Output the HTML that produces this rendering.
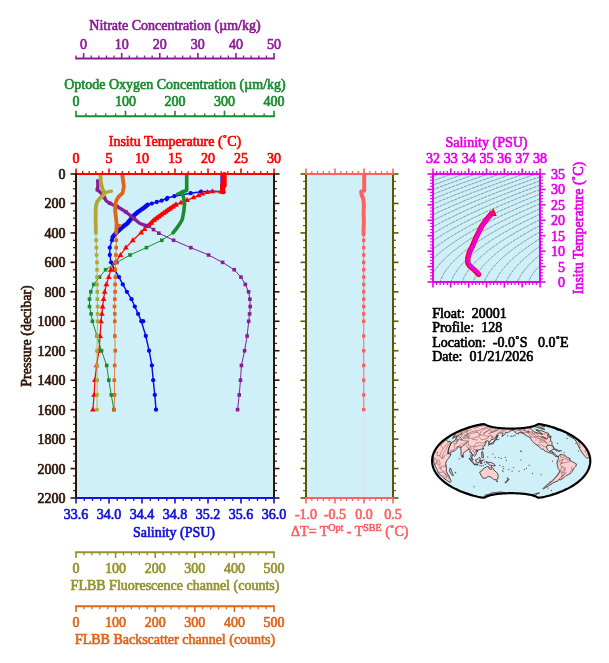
<!DOCTYPE html>
<html><head><meta charset="utf-8"><title>Float 20001 profile 128</title>
<style>
html,body{margin:0;padding:0;background:#ffffff;}
svg{display:block;}
text{font-family:"Liberation Serif", serif;stroke-width:0.65px;paint-order:stroke;}
</style></head>
<body>
<svg width="609" height="663" viewBox="0 0 609 663">
<rect width="609" height="663" fill="#ffffff"/>
<text x="175" y="29.7" fill="#8c1c96" stroke="#8c1c96" text-anchor="middle" font-size="14" >Nitrate Concentration (µm/kg)</text>
<line x1="75.2" y1="58.5" x2="274.8" y2="58.5" stroke="#8c1c96" stroke-width="2" />
<line x1="76" y1="58.5" x2="76" y2="55.5" stroke="#8c1c96" stroke-width="1.3" />
<line x1="83.62" y1="58.5" x2="83.62" y2="52.9" stroke="#8c1c96" stroke-width="1.6" />
<text x="83.62" y="48.7" fill="#8c1c96" stroke="#8c1c96" text-anchor="middle" font-size="14" >0</text>
<line x1="91.23" y1="58.5" x2="91.23" y2="55.5" stroke="#8c1c96" stroke-width="1.3" />
<line x1="98.85" y1="58.5" x2="98.85" y2="55.5" stroke="#8c1c96" stroke-width="1.3" />
<line x1="106.46" y1="58.5" x2="106.46" y2="55.5" stroke="#8c1c96" stroke-width="1.3" />
<line x1="114.08" y1="58.5" x2="114.08" y2="55.5" stroke="#8c1c96" stroke-width="1.3" />
<line x1="121.69" y1="58.5" x2="121.69" y2="52.9" stroke="#8c1c96" stroke-width="1.6" />
<text x="121.69" y="48.7" fill="#8c1c96" stroke="#8c1c96" text-anchor="middle" font-size="14" >10</text>
<line x1="129.31" y1="58.5" x2="129.31" y2="55.5" stroke="#8c1c96" stroke-width="1.3" />
<line x1="136.92" y1="58.5" x2="136.92" y2="55.5" stroke="#8c1c96" stroke-width="1.3" />
<line x1="144.54" y1="58.5" x2="144.54" y2="55.5" stroke="#8c1c96" stroke-width="1.3" />
<line x1="152.15" y1="58.5" x2="152.15" y2="55.5" stroke="#8c1c96" stroke-width="1.3" />
<line x1="159.77" y1="58.5" x2="159.77" y2="52.9" stroke="#8c1c96" stroke-width="1.6" />
<text x="159.77" y="48.7" fill="#8c1c96" stroke="#8c1c96" text-anchor="middle" font-size="14" >20</text>
<line x1="167.38" y1="58.5" x2="167.38" y2="55.5" stroke="#8c1c96" stroke-width="1.3" />
<line x1="175" y1="58.5" x2="175" y2="55.5" stroke="#8c1c96" stroke-width="1.3" />
<line x1="182.62" y1="58.5" x2="182.62" y2="55.5" stroke="#8c1c96" stroke-width="1.3" />
<line x1="190.23" y1="58.5" x2="190.23" y2="55.5" stroke="#8c1c96" stroke-width="1.3" />
<line x1="197.85" y1="58.5" x2="197.85" y2="52.9" stroke="#8c1c96" stroke-width="1.6" />
<text x="197.85" y="48.7" fill="#8c1c96" stroke="#8c1c96" text-anchor="middle" font-size="14" >30</text>
<line x1="205.46" y1="58.5" x2="205.46" y2="55.5" stroke="#8c1c96" stroke-width="1.3" />
<line x1="213.08" y1="58.5" x2="213.08" y2="55.5" stroke="#8c1c96" stroke-width="1.3" />
<line x1="220.69" y1="58.5" x2="220.69" y2="55.5" stroke="#8c1c96" stroke-width="1.3" />
<line x1="228.31" y1="58.5" x2="228.31" y2="55.5" stroke="#8c1c96" stroke-width="1.3" />
<line x1="235.92" y1="58.5" x2="235.92" y2="52.9" stroke="#8c1c96" stroke-width="1.6" />
<text x="235.92" y="48.7" fill="#8c1c96" stroke="#8c1c96" text-anchor="middle" font-size="14" >40</text>
<line x1="243.54" y1="58.5" x2="243.54" y2="55.5" stroke="#8c1c96" stroke-width="1.3" />
<line x1="251.15" y1="58.5" x2="251.15" y2="55.5" stroke="#8c1c96" stroke-width="1.3" />
<line x1="258.77" y1="58.5" x2="258.77" y2="55.5" stroke="#8c1c96" stroke-width="1.3" />
<line x1="266.38" y1="58.5" x2="266.38" y2="55.5" stroke="#8c1c96" stroke-width="1.3" />
<line x1="274" y1="58.5" x2="274" y2="52.9" stroke="#8c1c96" stroke-width="1.6" />
<text x="274" y="48.7" fill="#8c1c96" stroke="#8c1c96" text-anchor="middle" font-size="14" >50</text>
<text x="175" y="88.7" fill="#188c2e" stroke="#188c2e" text-anchor="middle" font-size="14" >Optode Oxygen Concentration (µm/kg)</text>
<line x1="75.2" y1="116.3" x2="274.8" y2="116.3" stroke="#188c2e" stroke-width="2" />
<line x1="76" y1="116.3" x2="76" y2="110.7" stroke="#188c2e" stroke-width="1.6" />
<text x="76" y="106.3" fill="#188c2e" stroke="#188c2e" text-anchor="middle" font-size="14" >0</text>
<line x1="85.9" y1="116.3" x2="85.9" y2="113.3" stroke="#188c2e" stroke-width="1.3" />
<line x1="95.8" y1="116.3" x2="95.8" y2="113.3" stroke="#188c2e" stroke-width="1.3" />
<line x1="105.7" y1="116.3" x2="105.7" y2="113.3" stroke="#188c2e" stroke-width="1.3" />
<line x1="115.6" y1="116.3" x2="115.6" y2="113.3" stroke="#188c2e" stroke-width="1.3" />
<line x1="125.5" y1="116.3" x2="125.5" y2="110.7" stroke="#188c2e" stroke-width="1.6" />
<text x="125.5" y="106.3" fill="#188c2e" stroke="#188c2e" text-anchor="middle" font-size="14" >100</text>
<line x1="135.4" y1="116.3" x2="135.4" y2="113.3" stroke="#188c2e" stroke-width="1.3" />
<line x1="145.3" y1="116.3" x2="145.3" y2="113.3" stroke="#188c2e" stroke-width="1.3" />
<line x1="155.2" y1="116.3" x2="155.2" y2="113.3" stroke="#188c2e" stroke-width="1.3" />
<line x1="165.1" y1="116.3" x2="165.1" y2="113.3" stroke="#188c2e" stroke-width="1.3" />
<line x1="175" y1="116.3" x2="175" y2="110.7" stroke="#188c2e" stroke-width="1.6" />
<text x="175" y="106.3" fill="#188c2e" stroke="#188c2e" text-anchor="middle" font-size="14" >200</text>
<line x1="184.9" y1="116.3" x2="184.9" y2="113.3" stroke="#188c2e" stroke-width="1.3" />
<line x1="194.8" y1="116.3" x2="194.8" y2="113.3" stroke="#188c2e" stroke-width="1.3" />
<line x1="204.7" y1="116.3" x2="204.7" y2="113.3" stroke="#188c2e" stroke-width="1.3" />
<line x1="214.6" y1="116.3" x2="214.6" y2="113.3" stroke="#188c2e" stroke-width="1.3" />
<line x1="224.5" y1="116.3" x2="224.5" y2="110.7" stroke="#188c2e" stroke-width="1.6" />
<text x="224.5" y="106.3" fill="#188c2e" stroke="#188c2e" text-anchor="middle" font-size="14" >300</text>
<line x1="234.4" y1="116.3" x2="234.4" y2="113.3" stroke="#188c2e" stroke-width="1.3" />
<line x1="244.3" y1="116.3" x2="244.3" y2="113.3" stroke="#188c2e" stroke-width="1.3" />
<line x1="254.2" y1="116.3" x2="254.2" y2="113.3" stroke="#188c2e" stroke-width="1.3" />
<line x1="264.1" y1="116.3" x2="264.1" y2="113.3" stroke="#188c2e" stroke-width="1.3" />
<line x1="274" y1="116.3" x2="274" y2="110.7" stroke="#188c2e" stroke-width="1.6" />
<text x="274" y="106.3" fill="#188c2e" stroke="#188c2e" text-anchor="middle" font-size="14" >400</text>
<text x="175" y="145.9" fill="#ff0000" stroke="#ff0000" text-anchor="middle" font-size="14" >Insitu Temperature (˚C)</text>
<rect x="76" y="174" width="198" height="324" fill="#cfeff9"/>
<polyline points="221.1,174.6 221.1,186 223.2,191.6 212.4,191.2 201,191.7 190.7,193.2 174.3,196.2 167.4,197.9 161.6,200.7 156.7,202 151.8,203.6 147.7,204.8" fill="none" stroke="#0808f0" stroke-width="1.4" stroke-linejoin="round" stroke-linecap="round" />
<polyline points="112.6,237.2 112,240.27 109.8,247.64 109.8,255 111,262.36 114.6,269.73 119,277.09 122.8,284.45 126.9,291.82 131.5,299.18 134.8,306.55 138.1,313.91 141.3,321.27 145.8,336 149.1,350.73 151.9,365.45 153.2,380.18 154.8,394.91 156,409.64" fill="none" stroke="#0808f0" stroke-width="1.4" stroke-linejoin="round" stroke-linecap="round" />
<polyline points="147.7,204.8 144,207.7 138.2,211.8 133.3,215.9 129.9,220.3 126.9,223.8 123.3,226.4 119.8,229.5 116.4,232.6 112.6,237.2" fill="none" stroke="#0808f0" stroke-width="4.4" stroke-linejoin="round" stroke-linecap="round" />
<circle cx="223.4" cy="192.2" r="2.15" fill="#0808f0"/><circle cx="201" cy="191.7" r="2.15" fill="#0808f0"/><circle cx="190.7" cy="193.2" r="2.15" fill="#0808f0"/><circle cx="174.3" cy="196.2" r="2.15" fill="#0808f0"/><circle cx="167.4" cy="197.9" r="2.15" fill="#0808f0"/><circle cx="166.5" cy="199.3" r="2.15" fill="#0808f0"/><circle cx="161.6" cy="200.7" r="2.15" fill="#0808f0"/><circle cx="156.7" cy="202" r="2.15" fill="#0808f0"/><circle cx="151.8" cy="203.6" r="2.15" fill="#0808f0"/><circle cx="147.7" cy="204.8" r="2.15" fill="#0808f0"/><circle cx="112" cy="240.27" r="2.15" fill="#0808f0"/><circle cx="109.8" cy="247.64" r="2.15" fill="#0808f0"/><circle cx="109.8" cy="255" r="2.15" fill="#0808f0"/><circle cx="111" cy="262.36" r="2.15" fill="#0808f0"/><circle cx="114.6" cy="269.73" r="2.15" fill="#0808f0"/><circle cx="119" cy="277.09" r="2.15" fill="#0808f0"/><circle cx="122.8" cy="284.45" r="2.15" fill="#0808f0"/><circle cx="126.9" cy="291.82" r="2.15" fill="#0808f0"/><circle cx="131.5" cy="299.18" r="2.15" fill="#0808f0"/><circle cx="134.8" cy="306.55" r="2.15" fill="#0808f0"/><circle cx="138.1" cy="313.91" r="2.15" fill="#0808f0"/><circle cx="141.3" cy="321.27" r="2.15" fill="#0808f0"/><circle cx="145.8" cy="336" r="2.15" fill="#0808f0"/><circle cx="149.1" cy="350.73" r="2.15" fill="#0808f0"/><circle cx="151.9" cy="365.45" r="2.15" fill="#0808f0"/><circle cx="153.2" cy="380.18" r="2.15" fill="#0808f0"/><circle cx="154.8" cy="394.91" r="2.15" fill="#0808f0"/><circle cx="156" cy="409.64" r="2.15" fill="#0808f0"/><circle cx="143.2" cy="321.27" r="2.15" fill="#0808f0"/>
<polyline points="224.2,174.6 224.2,185.5" fill="none" stroke="#ff0000" stroke-width="5" stroke-linejoin="round" stroke-linecap="round" stroke-linecap="butt"/>
<polyline points="222.6,184.8 222.6,191.6" fill="none" stroke="#ff0000" stroke-width="5.2" stroke-linejoin="round" stroke-linecap="round" stroke-linecap="butt"/>
<polyline points="221,191.7 212.4,191.4 207.4,192.2 202.5,193.7 198.6,195.4 193.6,197.4 187.2,200.2 180.8,202.6 176,204.6" fill="none" stroke="#ff0000" stroke-width="1.2" stroke-linejoin="round" stroke-linecap="round" />
<polyline points="176,204.6 170,208.6 161.4,214.7 154,220 148.6,225.6" fill="none" stroke="#ff0000" stroke-width="3.8" stroke-linejoin="round" stroke-linecap="round" />
<polyline points="148.6,225.6 144.6,229.1 141.2,232.5 132.8,240.27 125.9,247.64 120.5,255 115.4,262.36 110.8,269.73 108.8,277.09 106.4,284.45 104.7,291.82 103.6,299.18 102.6,306.55 101.9,313.91 101,321.27 100.1,336 99,350.73 96.6,365.45 94.9,380.18 94.1,394.91 92.9,409.64" fill="none" stroke="#ff0000" stroke-width="1.2" stroke-linejoin="round" stroke-linecap="round" />
<path d="M221,188.59L223.9,193.61L218.1,193.61Z" fill="#ff0000"/><path d="M212.4,188.29L215.3,193.31L209.5,193.31Z" fill="#ff0000"/><path d="M207.4,189.09L210.3,194.11L204.5,194.11Z" fill="#ff0000"/><path d="M202.5,190.59L205.4,195.61L199.6,195.61Z" fill="#ff0000"/><path d="M198.6,192.29L201.5,197.31L195.7,197.31Z" fill="#ff0000"/><path d="M193.6,194.29L196.5,199.31L190.7,199.31Z" fill="#ff0000"/><path d="M187.2,197.09L190.1,202.11L184.3,202.11Z" fill="#ff0000"/><path d="M180.8,199.49L183.7,204.51L177.9,204.51Z" fill="#ff0000"/><path d="M176,201.49L178.9,206.51L173.1,206.51Z" fill="#ff0000"/><path d="M173,203.49L175.9,208.51L170.1,208.51Z" fill="#ff0000"/><path d="M170,205.49L172.9,210.51L167.1,210.51Z" fill="#ff0000"/><path d="M167.85,207.01L170.75,212.03L164.95,212.03Z" fill="#ff0000"/><path d="M165.7,208.54L168.6,213.56L162.8,213.56Z" fill="#ff0000"/><path d="M163.55,210.06L166.45,215.08L160.65,215.08Z" fill="#ff0000"/><path d="M161.4,211.59L164.3,216.61L158.5,216.61Z" fill="#ff0000"/><path d="M158.93,213.35L161.83,218.38L156.03,218.38Z" fill="#ff0000"/><path d="M156.47,215.12L159.37,220.14L153.57,220.14Z" fill="#ff0000"/><path d="M154,216.89L156.9,221.91L151.1,221.91Z" fill="#ff0000"/><path d="M151.3,219.69L154.2,224.71L148.4,224.71Z" fill="#ff0000"/><path d="M148.6,222.49L151.5,227.51L145.7,227.51Z" fill="#ff0000"/>
<path d="M144.6,225.99L147.5,231.01L141.7,231.01Z" fill="#ff0000"/><path d="M141.2,229.39L144.1,234.41L138.3,234.41Z" fill="#ff0000"/><path d="M132.8,237.16L135.7,242.18L129.9,242.18Z" fill="#ff0000"/><path d="M125.9,244.52L128.8,249.55L123,249.55Z" fill="#ff0000"/><path d="M120.5,251.89L123.4,256.91L117.6,256.91Z" fill="#ff0000"/><path d="M115.4,259.25L118.3,264.27L112.5,264.27Z" fill="#ff0000"/><path d="M110.8,266.61L113.7,271.64L107.9,271.64Z" fill="#ff0000"/><path d="M108.8,273.98L111.7,279L105.9,279Z" fill="#ff0000"/><path d="M106.4,281.34L109.3,286.36L103.5,286.36Z" fill="#ff0000"/><path d="M104.7,288.7L107.6,293.73L101.8,293.73Z" fill="#ff0000"/><path d="M103.6,296.07L106.5,301.09L100.7,301.09Z" fill="#ff0000"/><path d="M102.6,303.43L105.5,308.45L99.7,308.45Z" fill="#ff0000"/><path d="M101.9,310.79L104.8,315.82L99,315.82Z" fill="#ff0000"/><path d="M101,318.16L103.9,323.18L98.1,323.18Z" fill="#ff0000"/><path d="M100.1,332.89L103,337.91L97.2,337.91Z" fill="#ff0000"/><path d="M99,347.61L101.9,352.64L96.1,352.64Z" fill="#ff0000"/><path d="M96.6,362.34L99.5,367.36L93.7,367.36Z" fill="#ff0000"/><path d="M94.9,377.07L97.8,382.09L92,382.09Z" fill="#ff0000"/><path d="M94.1,391.79L97,396.82L91.2,396.82Z" fill="#ff0000"/><path d="M92.9,406.52L95.8,411.55L90,411.55Z" fill="#ff0000"/>
<polyline points="148.6,226.6 153.5,229.6 158.9,233.2 173.6,240.27 190.8,247.64 208.6,255 222.6,262.36 234.2,269.73 240.9,277.09 245.3,284.45 248.6,291.82 249.9,299.18 250.2,306.55 249.6,313.91 248.7,321.27 247.1,336 244.6,350.73 241.4,365.45 240.5,380.18 239.2,394.91 237.6,409.64" fill="none" stroke="#8c1c96" stroke-width="1" stroke-linejoin="round" stroke-linecap="round" />
<polyline points="97.9,181.2 97.9,185.1 97.4,189.7 100.5,192.4 104.4,197.6 106.4,201.2 109.7,203.2 113,204.9 117.1,206.5 121.2,209 126,212 130.2,215.5 134.3,218.8 139.5,223.3 145.6,225.6 148.6,226.6" fill="none" stroke="#8c1c96" stroke-width="3.3" stroke-linejoin="round" stroke-linecap="round" />
<rect x="96.1" y="179.4" width="3.6" height="3.6" fill="#8c1c96"/><rect x="95.6" y="187.9" width="3.6" height="3.6" fill="#8c1c96"/><rect x="102.6" y="195.8" width="3.6" height="3.6" fill="#8c1c96"/><rect x="107.9" y="201.4" width="3.6" height="3.6" fill="#8c1c96"/><rect x="115.3" y="204.7" width="3.6" height="3.6" fill="#8c1c96"/><rect x="124.2" y="210.2" width="3.6" height="3.6" fill="#8c1c96"/><rect x="132.5" y="217" width="3.6" height="3.6" fill="#8c1c96"/><rect x="143.8" y="223.8" width="3.6" height="3.6" fill="#8c1c96"/>
<rect x="151.7" y="227.8" width="3.6" height="3.6" fill="#8c1c96"/><rect x="157.1" y="231.4" width="3.6" height="3.6" fill="#8c1c96"/><rect x="171.8" y="238.47" width="3.6" height="3.6" fill="#8c1c96"/><rect x="189" y="245.84" width="3.6" height="3.6" fill="#8c1c96"/><rect x="206.8" y="253.2" width="3.6" height="3.6" fill="#8c1c96"/><rect x="220.8" y="260.56" width="3.6" height="3.6" fill="#8c1c96"/><rect x="232.4" y="267.93" width="3.6" height="3.6" fill="#8c1c96"/><rect x="239.1" y="275.29" width="3.6" height="3.6" fill="#8c1c96"/><rect x="243.5" y="282.65" width="3.6" height="3.6" fill="#8c1c96"/><rect x="246.8" y="290.02" width="3.6" height="3.6" fill="#8c1c96"/><rect x="248.1" y="297.38" width="3.6" height="3.6" fill="#8c1c96"/><rect x="248.4" y="304.75" width="3.6" height="3.6" fill="#8c1c96"/><rect x="247.8" y="312.11" width="3.6" height="3.6" fill="#8c1c96"/><rect x="246.9" y="319.47" width="3.6" height="3.6" fill="#8c1c96"/><rect x="245.3" y="334.2" width="3.6" height="3.6" fill="#8c1c96"/><rect x="242.8" y="348.93" width="3.6" height="3.6" fill="#8c1c96"/><rect x="239.6" y="363.65" width="3.6" height="3.6" fill="#8c1c96"/><rect x="238.7" y="378.38" width="3.6" height="3.6" fill="#8c1c96"/><rect x="237.4" y="393.11" width="3.6" height="3.6" fill="#8c1c96"/><rect x="235.8" y="407.84" width="3.6" height="3.6" fill="#8c1c96"/>
<polyline points="173,232.8 161.8,240.27 146.4,247.64 130,255 117,262.36 105.6,269.73 99.5,277.09 93.7,284.45 90.8,291.82 89.5,299.18 89.5,306.55 91.1,313.91 92.4,321.27 97,336 101.5,350.73 106.7,365.45 108.8,380.18 111.3,394.91 113.8,409.64" fill="none" stroke="#188c2e" stroke-width="1" stroke-linejoin="round" stroke-linecap="round" />
<polyline points="186.7,174.6 186.7,190.5 181.8,191.9 183.6,197.6 184.6,203.5 183.8,211.4 182.3,219.3 180,223.5 176.5,228.5 173,232.8" fill="none" stroke="#188c2e" stroke-width="3.6" stroke-linejoin="round" stroke-linecap="round" />
<polyline points="181.8,192.2 177.2,194.2" fill="none" stroke="#188c2e" stroke-width="3.2" stroke-linejoin="round" stroke-linecap="round" />
<rect x="160" y="238.47" width="3.6" height="3.6" fill="#188c2e"/><rect x="144.6" y="245.84" width="3.6" height="3.6" fill="#188c2e"/><rect x="128.2" y="253.2" width="3.6" height="3.6" fill="#188c2e"/><rect x="115.2" y="260.56" width="3.6" height="3.6" fill="#188c2e"/><rect x="103.8" y="267.93" width="3.6" height="3.6" fill="#188c2e"/><rect x="97.7" y="275.29" width="3.6" height="3.6" fill="#188c2e"/><rect x="91.9" y="282.65" width="3.6" height="3.6" fill="#188c2e"/><rect x="89" y="290.02" width="3.6" height="3.6" fill="#188c2e"/><rect x="87.7" y="297.38" width="3.6" height="3.6" fill="#188c2e"/><rect x="87.7" y="304.75" width="3.6" height="3.6" fill="#188c2e"/><rect x="89.3" y="312.11" width="3.6" height="3.6" fill="#188c2e"/><rect x="90.6" y="319.47" width="3.6" height="3.6" fill="#188c2e"/><rect x="95.2" y="334.2" width="3.6" height="3.6" fill="#188c2e"/><rect x="99.7" y="348.93" width="3.6" height="3.6" fill="#188c2e"/><rect x="104.9" y="363.65" width="3.6" height="3.6" fill="#188c2e"/><rect x="107" y="378.38" width="3.6" height="3.6" fill="#188c2e"/><rect x="109.5" y="393.11" width="3.6" height="3.6" fill="#188c2e"/><rect x="112" y="407.84" width="3.6" height="3.6" fill="#188c2e"/>
<polyline points="95.9,232.8 96.1,240.27 96.4,247.64 96.6,255 97,262.36 97,269.73 97,277.09 97,284.45 97.3,291.82 97.3,299.18 97.6,306.55 97.6,313.91 97.6,321.27 97.2,336 97,350.73 97,365.45 97.2,380.18 97,394.91 97,409.64" fill="none" stroke="#b0a832" stroke-width="0.8" stroke-linejoin="round" stroke-linecap="round" />
<polyline points="100.5,174.6 100.8,181.9 102.2,188.4 104.1,191.7 103.1,195.6 99.9,198.3 97.2,201.6 95.9,206.2 95.7,211.4 95.6,221.3 95.9,232.8" fill="none" stroke="#b0a832" stroke-width="3.8" stroke-linejoin="round" stroke-linecap="round" />
<polyline points="104.5,193.2 108,191.8 111.5,191.2" fill="none" stroke="#b0a832" stroke-width="3.2" stroke-linejoin="round" stroke-linecap="round" />
<rect x="94.3" y="238.47" width="3.6" height="3.6" fill="#b0a832"/><rect x="94.6" y="245.84" width="3.6" height="3.6" fill="#b0a832"/><rect x="94.8" y="253.2" width="3.6" height="3.6" fill="#b0a832"/><rect x="95.2" y="260.56" width="3.6" height="3.6" fill="#b0a832"/><rect x="95.2" y="267.93" width="3.6" height="3.6" fill="#b0a832"/><rect x="95.2" y="275.29" width="3.6" height="3.6" fill="#b0a832"/><rect x="95.2" y="282.65" width="3.6" height="3.6" fill="#b0a832"/><rect x="95.5" y="290.02" width="3.6" height="3.6" fill="#b0a832"/><rect x="95.5" y="297.38" width="3.6" height="3.6" fill="#b0a832"/><rect x="95.8" y="304.75" width="3.6" height="3.6" fill="#b0a832"/><rect x="95.8" y="312.11" width="3.6" height="3.6" fill="#b0a832"/><rect x="95.8" y="319.47" width="3.6" height="3.6" fill="#b0a832"/><rect x="95.4" y="334.2" width="3.6" height="3.6" fill="#b0a832"/><rect x="95.2" y="348.93" width="3.6" height="3.6" fill="#b0a832"/><rect x="95.2" y="363.65" width="3.6" height="3.6" fill="#b0a832"/><rect x="95.4" y="378.38" width="3.6" height="3.6" fill="#b0a832"/><rect x="95.2" y="393.11" width="3.6" height="3.6" fill="#b0a832"/><rect x="95.2" y="407.84" width="3.6" height="3.6" fill="#b0a832"/>
<polyline points="116.2,232.8 116.2,240.27 116.2,247.64 115.9,255 115.5,262.36 115.4,269.73 115.4,277.09 115.1,284.45 115.1,291.82 114.8,299.18 114.5,306.55 114.8,313.91 114.8,321.27 114.8,336 115.2,350.73 114.7,365.45 114.3,380.18 114.6,394.91 114.2,409.64" fill="none" stroke="#de6519" stroke-width="0.8" stroke-linejoin="round" stroke-linecap="round" />
<polyline points="122.2,174.6 122.8,178.6 123.9,186.4 122.6,193 118.9,196.3 116.5,200.2 115.2,204.8 115.2,211.4 116.2,219.6 116.6,224.5 116.2,232.8" fill="none" stroke="#de6519" stroke-width="3.8" stroke-linejoin="round" stroke-linecap="round" />
<polyline points="116.6,225.2 120,225.6" fill="none" stroke="#de6519" stroke-width="3.2" stroke-linejoin="round" stroke-linecap="round" />
<rect x="114.4" y="238.47" width="3.6" height="3.6" fill="#de6519"/><rect x="114.4" y="245.84" width="3.6" height="3.6" fill="#de6519"/><rect x="114.1" y="253.2" width="3.6" height="3.6" fill="#de6519"/><rect x="113.7" y="260.56" width="3.6" height="3.6" fill="#de6519"/><rect x="113.6" y="267.93" width="3.6" height="3.6" fill="#de6519"/><rect x="113.6" y="275.29" width="3.6" height="3.6" fill="#de6519"/><rect x="113.3" y="282.65" width="3.6" height="3.6" fill="#de6519"/><rect x="113.3" y="290.02" width="3.6" height="3.6" fill="#de6519"/><rect x="113" y="297.38" width="3.6" height="3.6" fill="#de6519"/><rect x="112.7" y="304.75" width="3.6" height="3.6" fill="#de6519"/><rect x="113" y="312.11" width="3.6" height="3.6" fill="#de6519"/><rect x="113" y="319.47" width="3.6" height="3.6" fill="#de6519"/><rect x="113" y="334.2" width="3.6" height="3.6" fill="#de6519"/><rect x="113.4" y="348.93" width="3.6" height="3.6" fill="#de6519"/><rect x="112.9" y="363.65" width="3.6" height="3.6" fill="#de6519"/><rect x="112.5" y="378.38" width="3.6" height="3.6" fill="#de6519"/><rect x="112.8" y="393.11" width="3.6" height="3.6" fill="#de6519"/><rect x="112.4" y="407.84" width="3.6" height="3.6" fill="#de6519"/>
<line x1="75.2" y1="174" x2="274.8" y2="174" stroke="#ff0000" stroke-width="2" />
<line x1="76" y1="174" x2="76" y2="168.4" stroke="#ff0000" stroke-width="1.6" />
<text x="76" y="163.3" fill="#ff0000" stroke="#ff0000" text-anchor="middle" font-size="14" >0</text>
<line x1="82.6" y1="174" x2="82.6" y2="171" stroke="#ff0000" stroke-width="1.3" />
<line x1="89.2" y1="174" x2="89.2" y2="171" stroke="#ff0000" stroke-width="1.3" />
<line x1="95.8" y1="174" x2="95.8" y2="171" stroke="#ff0000" stroke-width="1.3" />
<line x1="102.4" y1="174" x2="102.4" y2="171" stroke="#ff0000" stroke-width="1.3" />
<line x1="109" y1="174" x2="109" y2="168.4" stroke="#ff0000" stroke-width="1.6" />
<text x="109" y="163.3" fill="#ff0000" stroke="#ff0000" text-anchor="middle" font-size="14" >5</text>
<line x1="115.6" y1="174" x2="115.6" y2="171" stroke="#ff0000" stroke-width="1.3" />
<line x1="122.2" y1="174" x2="122.2" y2="171" stroke="#ff0000" stroke-width="1.3" />
<line x1="128.8" y1="174" x2="128.8" y2="171" stroke="#ff0000" stroke-width="1.3" />
<line x1="135.4" y1="174" x2="135.4" y2="171" stroke="#ff0000" stroke-width="1.3" />
<line x1="142" y1="174" x2="142" y2="168.4" stroke="#ff0000" stroke-width="1.6" />
<text x="142" y="163.3" fill="#ff0000" stroke="#ff0000" text-anchor="middle" font-size="14" >10</text>
<line x1="148.6" y1="174" x2="148.6" y2="171" stroke="#ff0000" stroke-width="1.3" />
<line x1="155.2" y1="174" x2="155.2" y2="171" stroke="#ff0000" stroke-width="1.3" />
<line x1="161.8" y1="174" x2="161.8" y2="171" stroke="#ff0000" stroke-width="1.3" />
<line x1="168.4" y1="174" x2="168.4" y2="171" stroke="#ff0000" stroke-width="1.3" />
<line x1="175" y1="174" x2="175" y2="168.4" stroke="#ff0000" stroke-width="1.6" />
<text x="175" y="163.3" fill="#ff0000" stroke="#ff0000" text-anchor="middle" font-size="14" >15</text>
<line x1="181.6" y1="174" x2="181.6" y2="171" stroke="#ff0000" stroke-width="1.3" />
<line x1="188.2" y1="174" x2="188.2" y2="171" stroke="#ff0000" stroke-width="1.3" />
<line x1="194.8" y1="174" x2="194.8" y2="171" stroke="#ff0000" stroke-width="1.3" />
<line x1="201.4" y1="174" x2="201.4" y2="171" stroke="#ff0000" stroke-width="1.3" />
<line x1="208" y1="174" x2="208" y2="168.4" stroke="#ff0000" stroke-width="1.6" />
<text x="208" y="163.3" fill="#ff0000" stroke="#ff0000" text-anchor="middle" font-size="14" >20</text>
<line x1="214.6" y1="174" x2="214.6" y2="171" stroke="#ff0000" stroke-width="1.3" />
<line x1="221.2" y1="174" x2="221.2" y2="171" stroke="#ff0000" stroke-width="1.3" />
<line x1="227.8" y1="174" x2="227.8" y2="171" stroke="#ff0000" stroke-width="1.3" />
<line x1="234.4" y1="174" x2="234.4" y2="171" stroke="#ff0000" stroke-width="1.3" />
<line x1="241" y1="174" x2="241" y2="168.4" stroke="#ff0000" stroke-width="1.6" />
<text x="241" y="163.3" fill="#ff0000" stroke="#ff0000" text-anchor="middle" font-size="14" >25</text>
<line x1="247.6" y1="174" x2="247.6" y2="171" stroke="#ff0000" stroke-width="1.3" />
<line x1="254.2" y1="174" x2="254.2" y2="171" stroke="#ff0000" stroke-width="1.3" />
<line x1="260.8" y1="174" x2="260.8" y2="171" stroke="#ff0000" stroke-width="1.3" />
<line x1="267.4" y1="174" x2="267.4" y2="171" stroke="#ff0000" stroke-width="1.3" />
<line x1="274" y1="174" x2="274" y2="168.4" stroke="#ff0000" stroke-width="1.6" />
<text x="274" y="163.3" fill="#ff0000" stroke="#ff0000" text-anchor="middle" font-size="14" >30</text>
<line x1="76" y1="173.2" x2="76" y2="498.8" stroke="#2e1405" stroke-width="2" />
<line x1="76" y1="174" x2="70.5" y2="174" stroke="#2e1405" stroke-width="1.6" />
<text x="65.5" y="179" fill="#2e1405" stroke="#2e1405" text-anchor="end" font-size="14" >0</text>
<line x1="76" y1="181.36" x2="73.1" y2="181.36" stroke="#2e1405" stroke-width="1.2" />
<line x1="76" y1="188.73" x2="73.1" y2="188.73" stroke="#2e1405" stroke-width="1.2" />
<line x1="76" y1="196.09" x2="73.1" y2="196.09" stroke="#2e1405" stroke-width="1.2" />
<line x1="76" y1="203.45" x2="70.5" y2="203.45" stroke="#2e1405" stroke-width="1.6" />
<text x="65.5" y="208.45" fill="#2e1405" stroke="#2e1405" text-anchor="end" font-size="14" >200</text>
<line x1="76" y1="210.82" x2="73.1" y2="210.82" stroke="#2e1405" stroke-width="1.2" />
<line x1="76" y1="218.18" x2="73.1" y2="218.18" stroke="#2e1405" stroke-width="1.2" />
<line x1="76" y1="225.55" x2="73.1" y2="225.55" stroke="#2e1405" stroke-width="1.2" />
<line x1="76" y1="232.91" x2="70.5" y2="232.91" stroke="#2e1405" stroke-width="1.6" />
<text x="65.5" y="237.91" fill="#2e1405" stroke="#2e1405" text-anchor="end" font-size="14" >400</text>
<line x1="76" y1="240.27" x2="73.1" y2="240.27" stroke="#2e1405" stroke-width="1.2" />
<line x1="76" y1="247.64" x2="73.1" y2="247.64" stroke="#2e1405" stroke-width="1.2" />
<line x1="76" y1="255" x2="73.1" y2="255" stroke="#2e1405" stroke-width="1.2" />
<line x1="76" y1="262.36" x2="70.5" y2="262.36" stroke="#2e1405" stroke-width="1.6" />
<text x="65.5" y="267.36" fill="#2e1405" stroke="#2e1405" text-anchor="end" font-size="14" >600</text>
<line x1="76" y1="269.73" x2="73.1" y2="269.73" stroke="#2e1405" stroke-width="1.2" />
<line x1="76" y1="277.09" x2="73.1" y2="277.09" stroke="#2e1405" stroke-width="1.2" />
<line x1="76" y1="284.45" x2="73.1" y2="284.45" stroke="#2e1405" stroke-width="1.2" />
<line x1="76" y1="291.82" x2="70.5" y2="291.82" stroke="#2e1405" stroke-width="1.6" />
<text x="65.5" y="296.82" fill="#2e1405" stroke="#2e1405" text-anchor="end" font-size="14" >800</text>
<line x1="76" y1="299.18" x2="73.1" y2="299.18" stroke="#2e1405" stroke-width="1.2" />
<line x1="76" y1="306.55" x2="73.1" y2="306.55" stroke="#2e1405" stroke-width="1.2" />
<line x1="76" y1="313.91" x2="73.1" y2="313.91" stroke="#2e1405" stroke-width="1.2" />
<line x1="76" y1="321.27" x2="70.5" y2="321.27" stroke="#2e1405" stroke-width="1.6" />
<text x="65.5" y="326.27" fill="#2e1405" stroke="#2e1405" text-anchor="end" font-size="14" >1000</text>
<line x1="76" y1="328.64" x2="73.1" y2="328.64" stroke="#2e1405" stroke-width="1.2" />
<line x1="76" y1="336" x2="73.1" y2="336" stroke="#2e1405" stroke-width="1.2" />
<line x1="76" y1="343.36" x2="73.1" y2="343.36" stroke="#2e1405" stroke-width="1.2" />
<line x1="76" y1="350.73" x2="70.5" y2="350.73" stroke="#2e1405" stroke-width="1.6" />
<text x="65.5" y="355.73" fill="#2e1405" stroke="#2e1405" text-anchor="end" font-size="14" >1200</text>
<line x1="76" y1="358.09" x2="73.1" y2="358.09" stroke="#2e1405" stroke-width="1.2" />
<line x1="76" y1="365.45" x2="73.1" y2="365.45" stroke="#2e1405" stroke-width="1.2" />
<line x1="76" y1="372.82" x2="73.1" y2="372.82" stroke="#2e1405" stroke-width="1.2" />
<line x1="76" y1="380.18" x2="70.5" y2="380.18" stroke="#2e1405" stroke-width="1.6" />
<text x="65.5" y="385.18" fill="#2e1405" stroke="#2e1405" text-anchor="end" font-size="14" >1400</text>
<line x1="76" y1="387.55" x2="73.1" y2="387.55" stroke="#2e1405" stroke-width="1.2" />
<line x1="76" y1="394.91" x2="73.1" y2="394.91" stroke="#2e1405" stroke-width="1.2" />
<line x1="76" y1="402.27" x2="73.1" y2="402.27" stroke="#2e1405" stroke-width="1.2" />
<line x1="76" y1="409.64" x2="70.5" y2="409.64" stroke="#2e1405" stroke-width="1.6" />
<text x="65.5" y="414.64" fill="#2e1405" stroke="#2e1405" text-anchor="end" font-size="14" >1600</text>
<line x1="76" y1="417" x2="73.1" y2="417" stroke="#2e1405" stroke-width="1.2" />
<line x1="76" y1="424.36" x2="73.1" y2="424.36" stroke="#2e1405" stroke-width="1.2" />
<line x1="76" y1="431.73" x2="73.1" y2="431.73" stroke="#2e1405" stroke-width="1.2" />
<line x1="76" y1="439.09" x2="70.5" y2="439.09" stroke="#2e1405" stroke-width="1.6" />
<text x="65.5" y="444.09" fill="#2e1405" stroke="#2e1405" text-anchor="end" font-size="14" >1800</text>
<line x1="76" y1="446.45" x2="73.1" y2="446.45" stroke="#2e1405" stroke-width="1.2" />
<line x1="76" y1="453.82" x2="73.1" y2="453.82" stroke="#2e1405" stroke-width="1.2" />
<line x1="76" y1="461.18" x2="73.1" y2="461.18" stroke="#2e1405" stroke-width="1.2" />
<line x1="76" y1="468.55" x2="70.5" y2="468.55" stroke="#2e1405" stroke-width="1.6" />
<text x="65.5" y="473.55" fill="#2e1405" stroke="#2e1405" text-anchor="end" font-size="14" >2000</text>
<line x1="76" y1="475.91" x2="73.1" y2="475.91" stroke="#2e1405" stroke-width="1.2" />
<line x1="76" y1="483.27" x2="73.1" y2="483.27" stroke="#2e1405" stroke-width="1.2" />
<line x1="76" y1="490.64" x2="73.1" y2="490.64" stroke="#2e1405" stroke-width="1.2" />
<line x1="76" y1="498" x2="70.5" y2="498" stroke="#2e1405" stroke-width="1.6" />
<text x="65.5" y="503" fill="#2e1405" stroke="#2e1405" text-anchor="end" font-size="14" >2200</text>
<line x1="274" y1="173.2" x2="274" y2="498.8" stroke="#2e1405" stroke-width="2" />
<line x1="274" y1="174" x2="279.5" y2="174" stroke="#2e1405" stroke-width="1.6" />
<line x1="274" y1="181.36" x2="276.9" y2="181.36" stroke="#2e1405" stroke-width="1.2" />
<line x1="274" y1="188.73" x2="276.9" y2="188.73" stroke="#2e1405" stroke-width="1.2" />
<line x1="274" y1="196.09" x2="276.9" y2="196.09" stroke="#2e1405" stroke-width="1.2" />
<line x1="274" y1="203.45" x2="279.5" y2="203.45" stroke="#2e1405" stroke-width="1.6" />
<line x1="274" y1="210.82" x2="276.9" y2="210.82" stroke="#2e1405" stroke-width="1.2" />
<line x1="274" y1="218.18" x2="276.9" y2="218.18" stroke="#2e1405" stroke-width="1.2" />
<line x1="274" y1="225.55" x2="276.9" y2="225.55" stroke="#2e1405" stroke-width="1.2" />
<line x1="274" y1="232.91" x2="279.5" y2="232.91" stroke="#2e1405" stroke-width="1.6" />
<line x1="274" y1="240.27" x2="276.9" y2="240.27" stroke="#2e1405" stroke-width="1.2" />
<line x1="274" y1="247.64" x2="276.9" y2="247.64" stroke="#2e1405" stroke-width="1.2" />
<line x1="274" y1="255" x2="276.9" y2="255" stroke="#2e1405" stroke-width="1.2" />
<line x1="274" y1="262.36" x2="279.5" y2="262.36" stroke="#2e1405" stroke-width="1.6" />
<line x1="274" y1="269.73" x2="276.9" y2="269.73" stroke="#2e1405" stroke-width="1.2" />
<line x1="274" y1="277.09" x2="276.9" y2="277.09" stroke="#2e1405" stroke-width="1.2" />
<line x1="274" y1="284.45" x2="276.9" y2="284.45" stroke="#2e1405" stroke-width="1.2" />
<line x1="274" y1="291.82" x2="279.5" y2="291.82" stroke="#2e1405" stroke-width="1.6" />
<line x1="274" y1="299.18" x2="276.9" y2="299.18" stroke="#2e1405" stroke-width="1.2" />
<line x1="274" y1="306.55" x2="276.9" y2="306.55" stroke="#2e1405" stroke-width="1.2" />
<line x1="274" y1="313.91" x2="276.9" y2="313.91" stroke="#2e1405" stroke-width="1.2" />
<line x1="274" y1="321.27" x2="279.5" y2="321.27" stroke="#2e1405" stroke-width="1.6" />
<line x1="274" y1="328.64" x2="276.9" y2="328.64" stroke="#2e1405" stroke-width="1.2" />
<line x1="274" y1="336" x2="276.9" y2="336" stroke="#2e1405" stroke-width="1.2" />
<line x1="274" y1="343.36" x2="276.9" y2="343.36" stroke="#2e1405" stroke-width="1.2" />
<line x1="274" y1="350.73" x2="279.5" y2="350.73" stroke="#2e1405" stroke-width="1.6" />
<line x1="274" y1="358.09" x2="276.9" y2="358.09" stroke="#2e1405" stroke-width="1.2" />
<line x1="274" y1="365.45" x2="276.9" y2="365.45" stroke="#2e1405" stroke-width="1.2" />
<line x1="274" y1="372.82" x2="276.9" y2="372.82" stroke="#2e1405" stroke-width="1.2" />
<line x1="274" y1="380.18" x2="279.5" y2="380.18" stroke="#2e1405" stroke-width="1.6" />
<line x1="274" y1="387.55" x2="276.9" y2="387.55" stroke="#2e1405" stroke-width="1.2" />
<line x1="274" y1="394.91" x2="276.9" y2="394.91" stroke="#2e1405" stroke-width="1.2" />
<line x1="274" y1="402.27" x2="276.9" y2="402.27" stroke="#2e1405" stroke-width="1.2" />
<line x1="274" y1="409.64" x2="279.5" y2="409.64" stroke="#2e1405" stroke-width="1.6" />
<line x1="274" y1="417" x2="276.9" y2="417" stroke="#2e1405" stroke-width="1.2" />
<line x1="274" y1="424.36" x2="276.9" y2="424.36" stroke="#2e1405" stroke-width="1.2" />
<line x1="274" y1="431.73" x2="276.9" y2="431.73" stroke="#2e1405" stroke-width="1.2" />
<line x1="274" y1="439.09" x2="279.5" y2="439.09" stroke="#2e1405" stroke-width="1.6" />
<line x1="274" y1="446.45" x2="276.9" y2="446.45" stroke="#2e1405" stroke-width="1.2" />
<line x1="274" y1="453.82" x2="276.9" y2="453.82" stroke="#2e1405" stroke-width="1.2" />
<line x1="274" y1="461.18" x2="276.9" y2="461.18" stroke="#2e1405" stroke-width="1.2" />
<line x1="274" y1="468.55" x2="279.5" y2="468.55" stroke="#2e1405" stroke-width="1.6" />
<line x1="274" y1="475.91" x2="276.9" y2="475.91" stroke="#2e1405" stroke-width="1.2" />
<line x1="274" y1="483.27" x2="276.9" y2="483.27" stroke="#2e1405" stroke-width="1.2" />
<line x1="274" y1="490.64" x2="276.9" y2="490.64" stroke="#2e1405" stroke-width="1.2" />
<line x1="274" y1="498" x2="279.5" y2="498" stroke="#2e1405" stroke-width="1.6" />
<line x1="75.2" y1="498" x2="274.8" y2="498" stroke="#1212d8" stroke-width="2" />
<line x1="76" y1="498" x2="76" y2="503.6" stroke="#1212d8" stroke-width="1.6" />
<text x="76" y="518.7" fill="#1212d8" stroke="#1212d8" text-anchor="middle" font-size="14" >33.6</text>
<line x1="84.25" y1="498" x2="84.25" y2="501" stroke="#1212d8" stroke-width="1.3" />
<line x1="92.5" y1="498" x2="92.5" y2="501" stroke="#1212d8" stroke-width="1.3" />
<line x1="100.75" y1="498" x2="100.75" y2="501" stroke="#1212d8" stroke-width="1.3" />
<line x1="109" y1="498" x2="109" y2="503.6" stroke="#1212d8" stroke-width="1.6" />
<text x="109" y="518.7" fill="#1212d8" stroke="#1212d8" text-anchor="middle" font-size="14" >34.0</text>
<line x1="117.25" y1="498" x2="117.25" y2="501" stroke="#1212d8" stroke-width="1.3" />
<line x1="125.5" y1="498" x2="125.5" y2="501" stroke="#1212d8" stroke-width="1.3" />
<line x1="133.75" y1="498" x2="133.75" y2="501" stroke="#1212d8" stroke-width="1.3" />
<line x1="142" y1="498" x2="142" y2="503.6" stroke="#1212d8" stroke-width="1.6" />
<text x="142" y="518.7" fill="#1212d8" stroke="#1212d8" text-anchor="middle" font-size="14" >34.4</text>
<line x1="150.25" y1="498" x2="150.25" y2="501" stroke="#1212d8" stroke-width="1.3" />
<line x1="158.5" y1="498" x2="158.5" y2="501" stroke="#1212d8" stroke-width="1.3" />
<line x1="166.75" y1="498" x2="166.75" y2="501" stroke="#1212d8" stroke-width="1.3" />
<line x1="175" y1="498" x2="175" y2="503.6" stroke="#1212d8" stroke-width="1.6" />
<text x="175" y="518.7" fill="#1212d8" stroke="#1212d8" text-anchor="middle" font-size="14" >34.8</text>
<line x1="183.25" y1="498" x2="183.25" y2="501" stroke="#1212d8" stroke-width="1.3" />
<line x1="191.5" y1="498" x2="191.5" y2="501" stroke="#1212d8" stroke-width="1.3" />
<line x1="199.75" y1="498" x2="199.75" y2="501" stroke="#1212d8" stroke-width="1.3" />
<line x1="208" y1="498" x2="208" y2="503.6" stroke="#1212d8" stroke-width="1.6" />
<text x="208" y="518.7" fill="#1212d8" stroke="#1212d8" text-anchor="middle" font-size="14" >35.2</text>
<line x1="216.25" y1="498" x2="216.25" y2="501" stroke="#1212d8" stroke-width="1.3" />
<line x1="224.5" y1="498" x2="224.5" y2="501" stroke="#1212d8" stroke-width="1.3" />
<line x1="232.75" y1="498" x2="232.75" y2="501" stroke="#1212d8" stroke-width="1.3" />
<line x1="241" y1="498" x2="241" y2="503.6" stroke="#1212d8" stroke-width="1.6" />
<text x="241" y="518.7" fill="#1212d8" stroke="#1212d8" text-anchor="middle" font-size="14" >35.6</text>
<line x1="249.25" y1="498" x2="249.25" y2="501" stroke="#1212d8" stroke-width="1.3" />
<line x1="257.5" y1="498" x2="257.5" y2="501" stroke="#1212d8" stroke-width="1.3" />
<line x1="265.75" y1="498" x2="265.75" y2="501" stroke="#1212d8" stroke-width="1.3" />
<line x1="274" y1="498" x2="274" y2="503.6" stroke="#1212d8" stroke-width="1.6" />
<text x="274" y="518.7" fill="#1212d8" stroke="#1212d8" text-anchor="middle" font-size="14" >36.0</text>
<text x="174" y="536.5" fill="#1212d8" stroke="#1212d8" text-anchor="middle" font-size="14" >Salinity (PSU)</text>
<text transform="translate(30.8,336) rotate(-90)" fill="#2e1405" stroke="#2e1405" text-anchor="middle" font-size="14">Pressure (decibar)</text>
<line x1="75.2" y1="552.3" x2="274.8" y2="552.3" stroke="#94922a" stroke-width="2" />
<line x1="76" y1="552.3" x2="76" y2="557.9" stroke="#94922a" stroke-width="1.6" />
<text x="76" y="572.8" fill="#94922a" stroke="#94922a" text-anchor="middle" font-size="14" >0</text>
<line x1="83.92" y1="552.3" x2="83.92" y2="555.3" stroke="#94922a" stroke-width="1.3" />
<line x1="91.84" y1="552.3" x2="91.84" y2="555.3" stroke="#94922a" stroke-width="1.3" />
<line x1="99.76" y1="552.3" x2="99.76" y2="555.3" stroke="#94922a" stroke-width="1.3" />
<line x1="107.68" y1="552.3" x2="107.68" y2="555.3" stroke="#94922a" stroke-width="1.3" />
<line x1="115.6" y1="552.3" x2="115.6" y2="557.9" stroke="#94922a" stroke-width="1.6" />
<text x="115.6" y="572.8" fill="#94922a" stroke="#94922a" text-anchor="middle" font-size="14" >100</text>
<line x1="123.52" y1="552.3" x2="123.52" y2="555.3" stroke="#94922a" stroke-width="1.3" />
<line x1="131.44" y1="552.3" x2="131.44" y2="555.3" stroke="#94922a" stroke-width="1.3" />
<line x1="139.36" y1="552.3" x2="139.36" y2="555.3" stroke="#94922a" stroke-width="1.3" />
<line x1="147.28" y1="552.3" x2="147.28" y2="555.3" stroke="#94922a" stroke-width="1.3" />
<line x1="155.2" y1="552.3" x2="155.2" y2="557.9" stroke="#94922a" stroke-width="1.6" />
<text x="155.2" y="572.8" fill="#94922a" stroke="#94922a" text-anchor="middle" font-size="14" >200</text>
<line x1="163.12" y1="552.3" x2="163.12" y2="555.3" stroke="#94922a" stroke-width="1.3" />
<line x1="171.04" y1="552.3" x2="171.04" y2="555.3" stroke="#94922a" stroke-width="1.3" />
<line x1="178.96" y1="552.3" x2="178.96" y2="555.3" stroke="#94922a" stroke-width="1.3" />
<line x1="186.88" y1="552.3" x2="186.88" y2="555.3" stroke="#94922a" stroke-width="1.3" />
<line x1="194.8" y1="552.3" x2="194.8" y2="557.9" stroke="#94922a" stroke-width="1.6" />
<text x="194.8" y="572.8" fill="#94922a" stroke="#94922a" text-anchor="middle" font-size="14" >300</text>
<line x1="202.72" y1="552.3" x2="202.72" y2="555.3" stroke="#94922a" stroke-width="1.3" />
<line x1="210.64" y1="552.3" x2="210.64" y2="555.3" stroke="#94922a" stroke-width="1.3" />
<line x1="218.56" y1="552.3" x2="218.56" y2="555.3" stroke="#94922a" stroke-width="1.3" />
<line x1="226.48" y1="552.3" x2="226.48" y2="555.3" stroke="#94922a" stroke-width="1.3" />
<line x1="234.4" y1="552.3" x2="234.4" y2="557.9" stroke="#94922a" stroke-width="1.6" />
<text x="234.4" y="572.8" fill="#94922a" stroke="#94922a" text-anchor="middle" font-size="14" >400</text>
<line x1="242.32" y1="552.3" x2="242.32" y2="555.3" stroke="#94922a" stroke-width="1.3" />
<line x1="250.24" y1="552.3" x2="250.24" y2="555.3" stroke="#94922a" stroke-width="1.3" />
<line x1="258.16" y1="552.3" x2="258.16" y2="555.3" stroke="#94922a" stroke-width="1.3" />
<line x1="266.08" y1="552.3" x2="266.08" y2="555.3" stroke="#94922a" stroke-width="1.3" />
<line x1="274" y1="552.3" x2="274" y2="557.9" stroke="#94922a" stroke-width="1.6" />
<text x="274" y="572.8" fill="#94922a" stroke="#94922a" text-anchor="middle" font-size="14" >500</text>
<text x="175" y="590.2" fill="#94922a" stroke="#94922a" text-anchor="middle" font-size="14" >FLBB Fluorescence channel (counts)</text>
<line x1="75.2" y1="606.3" x2="274.8" y2="606.3" stroke="#de6519" stroke-width="2" />
<line x1="76" y1="606.3" x2="76" y2="611.9" stroke="#de6519" stroke-width="1.6" />
<text x="76" y="626.8" fill="#de6519" stroke="#de6519" text-anchor="middle" font-size="14" >0</text>
<line x1="83.92" y1="606.3" x2="83.92" y2="609.3" stroke="#de6519" stroke-width="1.3" />
<line x1="91.84" y1="606.3" x2="91.84" y2="609.3" stroke="#de6519" stroke-width="1.3" />
<line x1="99.76" y1="606.3" x2="99.76" y2="609.3" stroke="#de6519" stroke-width="1.3" />
<line x1="107.68" y1="606.3" x2="107.68" y2="609.3" stroke="#de6519" stroke-width="1.3" />
<line x1="115.6" y1="606.3" x2="115.6" y2="611.9" stroke="#de6519" stroke-width="1.6" />
<text x="115.6" y="626.8" fill="#de6519" stroke="#de6519" text-anchor="middle" font-size="14" >100</text>
<line x1="123.52" y1="606.3" x2="123.52" y2="609.3" stroke="#de6519" stroke-width="1.3" />
<line x1="131.44" y1="606.3" x2="131.44" y2="609.3" stroke="#de6519" stroke-width="1.3" />
<line x1="139.36" y1="606.3" x2="139.36" y2="609.3" stroke="#de6519" stroke-width="1.3" />
<line x1="147.28" y1="606.3" x2="147.28" y2="609.3" stroke="#de6519" stroke-width="1.3" />
<line x1="155.2" y1="606.3" x2="155.2" y2="611.9" stroke="#de6519" stroke-width="1.6" />
<text x="155.2" y="626.8" fill="#de6519" stroke="#de6519" text-anchor="middle" font-size="14" >200</text>
<line x1="163.12" y1="606.3" x2="163.12" y2="609.3" stroke="#de6519" stroke-width="1.3" />
<line x1="171.04" y1="606.3" x2="171.04" y2="609.3" stroke="#de6519" stroke-width="1.3" />
<line x1="178.96" y1="606.3" x2="178.96" y2="609.3" stroke="#de6519" stroke-width="1.3" />
<line x1="186.88" y1="606.3" x2="186.88" y2="609.3" stroke="#de6519" stroke-width="1.3" />
<line x1="194.8" y1="606.3" x2="194.8" y2="611.9" stroke="#de6519" stroke-width="1.6" />
<text x="194.8" y="626.8" fill="#de6519" stroke="#de6519" text-anchor="middle" font-size="14" >300</text>
<line x1="202.72" y1="606.3" x2="202.72" y2="609.3" stroke="#de6519" stroke-width="1.3" />
<line x1="210.64" y1="606.3" x2="210.64" y2="609.3" stroke="#de6519" stroke-width="1.3" />
<line x1="218.56" y1="606.3" x2="218.56" y2="609.3" stroke="#de6519" stroke-width="1.3" />
<line x1="226.48" y1="606.3" x2="226.48" y2="609.3" stroke="#de6519" stroke-width="1.3" />
<line x1="234.4" y1="606.3" x2="234.4" y2="611.9" stroke="#de6519" stroke-width="1.6" />
<text x="234.4" y="626.8" fill="#de6519" stroke="#de6519" text-anchor="middle" font-size="14" >400</text>
<line x1="242.32" y1="606.3" x2="242.32" y2="609.3" stroke="#de6519" stroke-width="1.3" />
<line x1="250.24" y1="606.3" x2="250.24" y2="609.3" stroke="#de6519" stroke-width="1.3" />
<line x1="258.16" y1="606.3" x2="258.16" y2="609.3" stroke="#de6519" stroke-width="1.3" />
<line x1="266.08" y1="606.3" x2="266.08" y2="609.3" stroke="#de6519" stroke-width="1.3" />
<line x1="274" y1="606.3" x2="274" y2="611.9" stroke="#de6519" stroke-width="1.6" />
<text x="274" y="626.8" fill="#de6519" stroke="#de6519" text-anchor="middle" font-size="14" >500</text>
<text x="175" y="644.2" fill="#de6519" stroke="#de6519" text-anchor="middle" font-size="14" >FLBB Backscatter channel (counts)</text>
<rect x="306" y="174" width="87" height="324" fill="#cfeff9"/>
<line x1="364" y1="174" x2="364" y2="498" stroke="#efd2da" stroke-width="0.8"/>
<polyline points="363.7,235 363.7,240.27 363.7,247.64 363.7,255 363.7,262.36 363.7,269.73 363.7,277.09 363.7,284.45 363.7,291.82 363.7,299.18 363.7,306.55 363.7,313.91 363.7,321.27 363.7,336 363.7,350.73 363.7,365.45 363.7,380.18 363.7,394.91 363.7,409.64" fill="none" stroke="#ff6060" stroke-width="0.9" stroke-linejoin="round" stroke-linecap="round" />
<polyline points="364.2,174.5 364.2,190.8" fill="none" stroke="#ff6060" stroke-width="4" stroke-linejoin="round" stroke-linecap="round" stroke-linecap="butt"/>
<polyline points="361.2,191.4 361.6,195 363.2,198.6" fill="none" stroke="#ff6060" stroke-width="4" stroke-linejoin="round" stroke-linecap="round" />
<polyline points="363.4,199 363.9,206 363.6,214 363.9,222 363.5,229 363.6,234.6" fill="none" stroke="#ff6060" stroke-width="3.9" stroke-linejoin="round" stroke-linecap="round" />
<polyline points="362.2,190.6 363.8,190.8" fill="none" stroke="#ff6060" stroke-width="2" stroke-linejoin="round" stroke-linecap="round" />
<rect x="362" y="238.57" width="3.4" height="3.4" fill="#ff6060"/><rect x="362" y="245.94" width="3.4" height="3.4" fill="#ff6060"/><rect x="362" y="253.3" width="3.4" height="3.4" fill="#ff6060"/><rect x="362" y="260.66" width="3.4" height="3.4" fill="#ff6060"/><rect x="362" y="268.03" width="3.4" height="3.4" fill="#ff6060"/><rect x="362" y="275.39" width="3.4" height="3.4" fill="#ff6060"/><rect x="362" y="282.75" width="3.4" height="3.4" fill="#ff6060"/><rect x="362" y="290.12" width="3.4" height="3.4" fill="#ff6060"/><rect x="362" y="297.48" width="3.4" height="3.4" fill="#ff6060"/><rect x="362" y="304.85" width="3.4" height="3.4" fill="#ff6060"/><rect x="362" y="312.21" width="3.4" height="3.4" fill="#ff6060"/><rect x="362" y="319.57" width="3.4" height="3.4" fill="#ff6060"/><rect x="362" y="334.3" width="3.4" height="3.4" fill="#ff6060"/><rect x="362" y="349.03" width="3.4" height="3.4" fill="#ff6060"/><rect x="362" y="363.75" width="3.4" height="3.4" fill="#ff6060"/><rect x="362" y="378.48" width="3.4" height="3.4" fill="#ff6060"/><rect x="362" y="393.21" width="3.4" height="3.4" fill="#ff6060"/><rect x="362" y="407.94" width="3.4" height="3.4" fill="#ff6060"/>
<line x1="306" y1="173.2" x2="306" y2="498.8" stroke="#5a5a00" stroke-width="2" />
<line x1="306" y1="174" x2="300.5" y2="174" stroke="#5a5a00" stroke-width="1.6" />
<line x1="306" y1="181.36" x2="303.1" y2="181.36" stroke="#5a5a00" stroke-width="1.2" />
<line x1="306" y1="188.73" x2="303.1" y2="188.73" stroke="#5a5a00" stroke-width="1.2" />
<line x1="306" y1="196.09" x2="303.1" y2="196.09" stroke="#5a5a00" stroke-width="1.2" />
<line x1="306" y1="203.45" x2="300.5" y2="203.45" stroke="#5a5a00" stroke-width="1.6" />
<line x1="306" y1="210.82" x2="303.1" y2="210.82" stroke="#5a5a00" stroke-width="1.2" />
<line x1="306" y1="218.18" x2="303.1" y2="218.18" stroke="#5a5a00" stroke-width="1.2" />
<line x1="306" y1="225.55" x2="303.1" y2="225.55" stroke="#5a5a00" stroke-width="1.2" />
<line x1="306" y1="232.91" x2="300.5" y2="232.91" stroke="#5a5a00" stroke-width="1.6" />
<line x1="306" y1="240.27" x2="303.1" y2="240.27" stroke="#5a5a00" stroke-width="1.2" />
<line x1="306" y1="247.64" x2="303.1" y2="247.64" stroke="#5a5a00" stroke-width="1.2" />
<line x1="306" y1="255" x2="303.1" y2="255" stroke="#5a5a00" stroke-width="1.2" />
<line x1="306" y1="262.36" x2="300.5" y2="262.36" stroke="#5a5a00" stroke-width="1.6" />
<line x1="306" y1="269.73" x2="303.1" y2="269.73" stroke="#5a5a00" stroke-width="1.2" />
<line x1="306" y1="277.09" x2="303.1" y2="277.09" stroke="#5a5a00" stroke-width="1.2" />
<line x1="306" y1="284.45" x2="303.1" y2="284.45" stroke="#5a5a00" stroke-width="1.2" />
<line x1="306" y1="291.82" x2="300.5" y2="291.82" stroke="#5a5a00" stroke-width="1.6" />
<line x1="306" y1="299.18" x2="303.1" y2="299.18" stroke="#5a5a00" stroke-width="1.2" />
<line x1="306" y1="306.55" x2="303.1" y2="306.55" stroke="#5a5a00" stroke-width="1.2" />
<line x1="306" y1="313.91" x2="303.1" y2="313.91" stroke="#5a5a00" stroke-width="1.2" />
<line x1="306" y1="321.27" x2="300.5" y2="321.27" stroke="#5a5a00" stroke-width="1.6" />
<line x1="306" y1="328.64" x2="303.1" y2="328.64" stroke="#5a5a00" stroke-width="1.2" />
<line x1="306" y1="336" x2="303.1" y2="336" stroke="#5a5a00" stroke-width="1.2" />
<line x1="306" y1="343.36" x2="303.1" y2="343.36" stroke="#5a5a00" stroke-width="1.2" />
<line x1="306" y1="350.73" x2="300.5" y2="350.73" stroke="#5a5a00" stroke-width="1.6" />
<line x1="306" y1="358.09" x2="303.1" y2="358.09" stroke="#5a5a00" stroke-width="1.2" />
<line x1="306" y1="365.45" x2="303.1" y2="365.45" stroke="#5a5a00" stroke-width="1.2" />
<line x1="306" y1="372.82" x2="303.1" y2="372.82" stroke="#5a5a00" stroke-width="1.2" />
<line x1="306" y1="380.18" x2="300.5" y2="380.18" stroke="#5a5a00" stroke-width="1.6" />
<line x1="306" y1="387.55" x2="303.1" y2="387.55" stroke="#5a5a00" stroke-width="1.2" />
<line x1="306" y1="394.91" x2="303.1" y2="394.91" stroke="#5a5a00" stroke-width="1.2" />
<line x1="306" y1="402.27" x2="303.1" y2="402.27" stroke="#5a5a00" stroke-width="1.2" />
<line x1="306" y1="409.64" x2="300.5" y2="409.64" stroke="#5a5a00" stroke-width="1.6" />
<line x1="306" y1="417" x2="303.1" y2="417" stroke="#5a5a00" stroke-width="1.2" />
<line x1="306" y1="424.36" x2="303.1" y2="424.36" stroke="#5a5a00" stroke-width="1.2" />
<line x1="306" y1="431.73" x2="303.1" y2="431.73" stroke="#5a5a00" stroke-width="1.2" />
<line x1="306" y1="439.09" x2="300.5" y2="439.09" stroke="#5a5a00" stroke-width="1.6" />
<line x1="306" y1="446.45" x2="303.1" y2="446.45" stroke="#5a5a00" stroke-width="1.2" />
<line x1="306" y1="453.82" x2="303.1" y2="453.82" stroke="#5a5a00" stroke-width="1.2" />
<line x1="306" y1="461.18" x2="303.1" y2="461.18" stroke="#5a5a00" stroke-width="1.2" />
<line x1="306" y1="468.55" x2="300.5" y2="468.55" stroke="#5a5a00" stroke-width="1.6" />
<line x1="306" y1="475.91" x2="303.1" y2="475.91" stroke="#5a5a00" stroke-width="1.2" />
<line x1="306" y1="483.27" x2="303.1" y2="483.27" stroke="#5a5a00" stroke-width="1.2" />
<line x1="306" y1="490.64" x2="303.1" y2="490.64" stroke="#5a5a00" stroke-width="1.2" />
<line x1="306" y1="498" x2="300.5" y2="498" stroke="#5a5a00" stroke-width="1.6" />
<line x1="393" y1="173.2" x2="393" y2="498.8" stroke="#5a5a00" stroke-width="2" />
<line x1="393" y1="174" x2="398.5" y2="174" stroke="#5a5a00" stroke-width="1.6" />
<line x1="393" y1="181.36" x2="395.9" y2="181.36" stroke="#5a5a00" stroke-width="1.2" />
<line x1="393" y1="188.73" x2="395.9" y2="188.73" stroke="#5a5a00" stroke-width="1.2" />
<line x1="393" y1="196.09" x2="395.9" y2="196.09" stroke="#5a5a00" stroke-width="1.2" />
<line x1="393" y1="203.45" x2="398.5" y2="203.45" stroke="#5a5a00" stroke-width="1.6" />
<line x1="393" y1="210.82" x2="395.9" y2="210.82" stroke="#5a5a00" stroke-width="1.2" />
<line x1="393" y1="218.18" x2="395.9" y2="218.18" stroke="#5a5a00" stroke-width="1.2" />
<line x1="393" y1="225.55" x2="395.9" y2="225.55" stroke="#5a5a00" stroke-width="1.2" />
<line x1="393" y1="232.91" x2="398.5" y2="232.91" stroke="#5a5a00" stroke-width="1.6" />
<line x1="393" y1="240.27" x2="395.9" y2="240.27" stroke="#5a5a00" stroke-width="1.2" />
<line x1="393" y1="247.64" x2="395.9" y2="247.64" stroke="#5a5a00" stroke-width="1.2" />
<line x1="393" y1="255" x2="395.9" y2="255" stroke="#5a5a00" stroke-width="1.2" />
<line x1="393" y1="262.36" x2="398.5" y2="262.36" stroke="#5a5a00" stroke-width="1.6" />
<line x1="393" y1="269.73" x2="395.9" y2="269.73" stroke="#5a5a00" stroke-width="1.2" />
<line x1="393" y1="277.09" x2="395.9" y2="277.09" stroke="#5a5a00" stroke-width="1.2" />
<line x1="393" y1="284.45" x2="395.9" y2="284.45" stroke="#5a5a00" stroke-width="1.2" />
<line x1="393" y1="291.82" x2="398.5" y2="291.82" stroke="#5a5a00" stroke-width="1.6" />
<line x1="393" y1="299.18" x2="395.9" y2="299.18" stroke="#5a5a00" stroke-width="1.2" />
<line x1="393" y1="306.55" x2="395.9" y2="306.55" stroke="#5a5a00" stroke-width="1.2" />
<line x1="393" y1="313.91" x2="395.9" y2="313.91" stroke="#5a5a00" stroke-width="1.2" />
<line x1="393" y1="321.27" x2="398.5" y2="321.27" stroke="#5a5a00" stroke-width="1.6" />
<line x1="393" y1="328.64" x2="395.9" y2="328.64" stroke="#5a5a00" stroke-width="1.2" />
<line x1="393" y1="336" x2="395.9" y2="336" stroke="#5a5a00" stroke-width="1.2" />
<line x1="393" y1="343.36" x2="395.9" y2="343.36" stroke="#5a5a00" stroke-width="1.2" />
<line x1="393" y1="350.73" x2="398.5" y2="350.73" stroke="#5a5a00" stroke-width="1.6" />
<line x1="393" y1="358.09" x2="395.9" y2="358.09" stroke="#5a5a00" stroke-width="1.2" />
<line x1="393" y1="365.45" x2="395.9" y2="365.45" stroke="#5a5a00" stroke-width="1.2" />
<line x1="393" y1="372.82" x2="395.9" y2="372.82" stroke="#5a5a00" stroke-width="1.2" />
<line x1="393" y1="380.18" x2="398.5" y2="380.18" stroke="#5a5a00" stroke-width="1.6" />
<line x1="393" y1="387.55" x2="395.9" y2="387.55" stroke="#5a5a00" stroke-width="1.2" />
<line x1="393" y1="394.91" x2="395.9" y2="394.91" stroke="#5a5a00" stroke-width="1.2" />
<line x1="393" y1="402.27" x2="395.9" y2="402.27" stroke="#5a5a00" stroke-width="1.2" />
<line x1="393" y1="409.64" x2="398.5" y2="409.64" stroke="#5a5a00" stroke-width="1.6" />
<line x1="393" y1="417" x2="395.9" y2="417" stroke="#5a5a00" stroke-width="1.2" />
<line x1="393" y1="424.36" x2="395.9" y2="424.36" stroke="#5a5a00" stroke-width="1.2" />
<line x1="393" y1="431.73" x2="395.9" y2="431.73" stroke="#5a5a00" stroke-width="1.2" />
<line x1="393" y1="439.09" x2="398.5" y2="439.09" stroke="#5a5a00" stroke-width="1.6" />
<line x1="393" y1="446.45" x2="395.9" y2="446.45" stroke="#5a5a00" stroke-width="1.2" />
<line x1="393" y1="453.82" x2="395.9" y2="453.82" stroke="#5a5a00" stroke-width="1.2" />
<line x1="393" y1="461.18" x2="395.9" y2="461.18" stroke="#5a5a00" stroke-width="1.2" />
<line x1="393" y1="468.55" x2="398.5" y2="468.55" stroke="#5a5a00" stroke-width="1.6" />
<line x1="393" y1="475.91" x2="395.9" y2="475.91" stroke="#5a5a00" stroke-width="1.2" />
<line x1="393" y1="483.27" x2="395.9" y2="483.27" stroke="#5a5a00" stroke-width="1.2" />
<line x1="393" y1="490.64" x2="395.9" y2="490.64" stroke="#5a5a00" stroke-width="1.2" />
<line x1="393" y1="498" x2="398.5" y2="498" stroke="#5a5a00" stroke-width="1.6" />
<line x1="305.2" y1="174" x2="393.8" y2="174" stroke="#ff6060" stroke-width="2" />
<line x1="306" y1="174" x2="306" y2="168.4" stroke="#ff6060" stroke-width="1.6" />
<line x1="311.8" y1="174" x2="311.8" y2="171" stroke="#ff6060" stroke-width="1.3" />
<line x1="317.6" y1="174" x2="317.6" y2="171" stroke="#ff6060" stroke-width="1.3" />
<line x1="323.4" y1="174" x2="323.4" y2="171" stroke="#ff6060" stroke-width="1.3" />
<line x1="329.2" y1="174" x2="329.2" y2="171" stroke="#ff6060" stroke-width="1.3" />
<line x1="335" y1="174" x2="335" y2="168.4" stroke="#ff6060" stroke-width="1.6" />
<line x1="340.8" y1="174" x2="340.8" y2="171" stroke="#ff6060" stroke-width="1.3" />
<line x1="346.6" y1="174" x2="346.6" y2="171" stroke="#ff6060" stroke-width="1.3" />
<line x1="352.4" y1="174" x2="352.4" y2="171" stroke="#ff6060" stroke-width="1.3" />
<line x1="358.2" y1="174" x2="358.2" y2="171" stroke="#ff6060" stroke-width="1.3" />
<line x1="364" y1="174" x2="364" y2="168.4" stroke="#ff6060" stroke-width="1.6" />
<line x1="369.8" y1="174" x2="369.8" y2="171" stroke="#ff6060" stroke-width="1.3" />
<line x1="375.6" y1="174" x2="375.6" y2="171" stroke="#ff6060" stroke-width="1.3" />
<line x1="381.4" y1="174" x2="381.4" y2="171" stroke="#ff6060" stroke-width="1.3" />
<line x1="387.2" y1="174" x2="387.2" y2="171" stroke="#ff6060" stroke-width="1.3" />
<line x1="393" y1="174" x2="393" y2="168.4" stroke="#ff6060" stroke-width="1.6" />
<line x1="305.2" y1="498" x2="393.8" y2="498" stroke="#ff6060" stroke-width="2" />
<line x1="306" y1="498" x2="306" y2="503.6" stroke="#ff6060" stroke-width="1.6" />
<text x="306" y="518.9" fill="#ff6060" stroke="#ff6060" text-anchor="middle" font-size="14" >-1.0</text>
<line x1="311.8" y1="498" x2="311.8" y2="501" stroke="#ff6060" stroke-width="1.3" />
<line x1="317.6" y1="498" x2="317.6" y2="501" stroke="#ff6060" stroke-width="1.3" />
<line x1="323.4" y1="498" x2="323.4" y2="501" stroke="#ff6060" stroke-width="1.3" />
<line x1="329.2" y1="498" x2="329.2" y2="501" stroke="#ff6060" stroke-width="1.3" />
<line x1="335" y1="498" x2="335" y2="503.6" stroke="#ff6060" stroke-width="1.6" />
<text x="335" y="518.9" fill="#ff6060" stroke="#ff6060" text-anchor="middle" font-size="14" >-0.5</text>
<line x1="340.8" y1="498" x2="340.8" y2="501" stroke="#ff6060" stroke-width="1.3" />
<line x1="346.6" y1="498" x2="346.6" y2="501" stroke="#ff6060" stroke-width="1.3" />
<line x1="352.4" y1="498" x2="352.4" y2="501" stroke="#ff6060" stroke-width="1.3" />
<line x1="358.2" y1="498" x2="358.2" y2="501" stroke="#ff6060" stroke-width="1.3" />
<line x1="364" y1="498" x2="364" y2="503.6" stroke="#ff6060" stroke-width="1.6" />
<text x="364" y="518.9" fill="#ff6060" stroke="#ff6060" text-anchor="middle" font-size="14" >0.0</text>
<line x1="369.8" y1="498" x2="369.8" y2="501" stroke="#ff6060" stroke-width="1.3" />
<line x1="375.6" y1="498" x2="375.6" y2="501" stroke="#ff6060" stroke-width="1.3" />
<line x1="381.4" y1="498" x2="381.4" y2="501" stroke="#ff6060" stroke-width="1.3" />
<line x1="387.2" y1="498" x2="387.2" y2="501" stroke="#ff6060" stroke-width="1.3" />
<line x1="393" y1="498" x2="393" y2="503.6" stroke="#ff6060" stroke-width="1.6" />
<text x="393" y="518.9" fill="#ff6060" stroke="#ff6060" text-anchor="middle" font-size="14" >0.5</text>
<text x="349.8" y="535.8" fill="#ff6060" stroke="#ff6060" text-anchor="middle" font-size="14">ΔT= T<tspan font-size="10" dy="-5">Opt</tspan><tspan dy="5"> - T</tspan><tspan font-size="10" dy="-5">SBE</tspan><tspan dy="5"> (˚C)</tspan></text>
<rect x="433" y="174" width="107" height="108" fill="#cfeff9"/>
<clipPath id="tsclip"><rect x="433.0" y="174.0" width="107.0" height="108.0"/></clipPath>
<path clip-path="url(#tsclip)" d="M432.65,172.46L431.93,172.7L431.22,172.95L430.5,173.19L429.79,173.44L429.43,173.56M444.65,172.46L443.74,172.77L442.99,173.02L442.27,173.27L441.56,173.51L440.85,173.76L440.13,174L439.25,174.31L438.36,174.62L437.64,174.87L436.92,175.11L436.21,175.36L435.5,175.61L434.78,175.86L433.92,176.16L433.03,176.47L432.29,176.73L431.57,176.98L430.86,177.23L430.15,177.48L429.43,177.73L429.43,177.73M456.65,172.46L455.83,172.74L455.11,172.98L454.4,173.22L453.69,173.47L452.97,173.71L452.14,174L451.24,174.31L450.48,174.57L449.76,174.82L449.05,175.07L448.34,175.31L447.62,175.56L446.79,175.85L445.9,176.16L445.13,176.43L444.41,176.68L443.7,176.93L442.99,177.18L442.27,177.43L441.5,177.7L440.63,178.01L439.78,178.31L439.06,178.56L438.35,178.82L437.64,179.07L436.92,179.33L436.21,179.58L435.42,179.86L434.56,180.17L433.71,180.47L433,180.73L432.29,180.99L431.57,181.25L430.86,181.5L430.15,181.76L429.43,182.02M468.64,172.46L467.73,172.77L466.88,173.06L466.17,173.3L465.46,173.54L464.74,173.79L464.03,174.03L463.23,174.31L462.33,174.62L461.53,174.89L460.82,175.14L460.11,175.39L459.39,175.63L458.68,175.88L457.88,176.16L456.99,176.47L456.18,176.75L455.47,177L454.76,177.25L454.04,177.5L453.33,177.75L452.6,178.01L451.72,178.32L450.85,178.63L450.12,178.89L449.41,179.14L448.69,179.4L447.98,179.65L447.27,179.9L446.52,180.17L445.66,180.48L444.8,180.79L444.06,181.06L443.34,181.31L442.63,181.57L441.92,181.83L441.2,182.09L440.49,182.35L439.69,182.64L438.84,182.95L438,183.26L437.28,183.52L436.57,183.78L435.85,184.04L435.14,184.31L434.43,184.57L433.71,184.83L432.97,185.11L432.14,185.42L431.32,185.73L430.5,186.03L429.79,186.3L429.43,186.43M480.63,172.46L479.72,172.77L479.01,173.01L478.3,173.25L477.58,173.5L476.87,173.74L476.11,174L475.21,174.31L474.37,174.6L473.66,174.84L472.95,175.09L472.23,175.33L471.52,175.58L470.74,175.85L469.85,176.16L469.02,176.45L468.31,176.7L467.6,176.95L466.88,177.2L466.17,177.45L465.44,177.7L464.56,178.01L463.69,178.32L462.96,178.58L462.25,178.83L461.53,179.08L460.82,179.34L460.11,179.59L459.34,179.86L458.48,180.17L457.62,180.48L456.9,180.74L456.18,180.99L455.47,181.25L454.76,181.51L454.04,181.77L453.33,182.02L452.48,182.33L451.63,182.64L450.83,182.93L450.12,183.19L449.41,183.45L448.69,183.71L447.98,183.98L447.27,184.24L446.55,184.5L445.74,184.8L444.91,185.11L444.08,185.42L443.34,185.69L442.63,185.96L441.92,186.22L441.2,186.49L440.49,186.76L439.78,187.02L439.06,187.29L438.31,187.58L437.49,187.89L436.68,188.19L435.87,188.5L435.14,188.78L434.43,189.05L433.71,189.32L433,189.6L432.29,189.87L431.57,190.15L430.86,190.42L430.15,190.7L429.43,190.97L429.43,190.97M492.61,172.46L491.85,172.72L491.14,172.96L490.42,173.2L489.71,173.45L488.99,173.69L488.09,174L487.21,174.3L486.5,174.54L485.79,174.79L485.07,175.04L484.36,175.28L483.6,175.54L482.71,175.85L481.86,176.15L481.15,176.39L480.44,176.64L479.72,176.89L479.01,177.14L478.29,177.39L477.41,177.7L476.53,178.01L475.8,178.27L475.09,178.52L474.37,178.77L473.66,179.02L472.95,179.28L472.16,179.55L471.3,179.86L470.45,180.16L469.74,180.42L469.02,180.67L468.31,180.93L467.6,181.19L466.88,181.44L466.13,181.71L465.28,182.02L464.43,182.33L463.67,182.6L462.96,182.86L462.25,183.12L461.53,183.38L460.82,183.65L460.11,183.91L459.35,184.18L458.51,184.49L457.68,184.8L456.9,185.09L456.18,185.35L455.47,185.62L454.76,185.88L454.04,186.15L453.33,186.41L452.62,186.68L451.87,186.96L451.05,187.27L450.23,187.58L449.41,187.89L448.69,188.16L447.98,188.43L447.27,188.7L446.55,188.97L445.84,189.24L445.13,189.52L444.41,189.79L443.7,190.06L442.94,190.35L442.14,190.66L441.34,190.97L440.55,191.28L439.78,191.58L439.06,191.86L438.35,192.14L437.64,192.41L436.92,192.69L436.21,192.97L435.5,193.26L434.78,193.54L434.07,193.82L433.36,194.1L432.64,194.39L431.92,194.67L431.15,194.98L430.38,195.29L429.61,195.6L429.43,195.67M504.59,172.46L503.68,172.77L502.91,173.03L502.19,173.27L501.48,173.52L500.77,173.76L500.05,174L499.16,174.31L498.27,174.61L497.56,174.86L496.84,175.1L496.13,175.35L495.42,175.6L494.68,175.85L493.79,176.16L492.92,176.46L492.21,176.71L491.49,176.96L490.78,177.21L490.07,177.46L489.35,177.71L488.48,178.01L487.61,178.32L486.86,178.58L486.14,178.84L485.43,179.09L484.72,179.34L484,179.59L483.25,179.86L482.38,180.17L481.51,180.48L480.79,180.74L480.08,180.99L479.37,181.25L478.65,181.51L477.94,181.76L477.22,182.02L476.37,182.33L475.51,182.64L474.73,182.92L474.02,183.18L473.3,183.44L472.59,183.7L471.88,183.97L471.16,184.23L470.44,184.49L469.61,184.8L468.77,185.11L467.95,185.41L467.24,185.67L466.53,185.94L465.81,186.2L465.1,186.47L464.39,186.74L463.67,187L462.96,187.27L462.15,187.58L461.33,187.89L460.51,188.19L459.75,188.48L459.04,188.75L458.32,189.02L457.61,189.3L456.9,189.57L456.18,189.84L455.47,190.11L454.76,190.39L454.04,190.66L453.24,190.97L452.45,191.28L451.65,191.59L450.86,191.9L450.12,192.18L449.41,192.46L448.69,192.74L447.98,193.02L447.27,193.3L446.55,193.58L445.84,193.87L445.13,194.15L444.41,194.43L443.7,194.71L442.99,195L442.26,195.29L441.49,195.6L440.72,195.91L439.95,196.22L439.19,196.53L438.43,196.83L437.67,197.14L436.92,197.45L436.21,197.74L435.5,198.03L434.78,198.32L434.07,198.62L433.36,198.91L432.64,199.21L431.93,199.5L431.22,199.8L430.5,200.09L429.79,200.39L429.43,200.54M516.57,172.46L515.75,172.74L515.03,172.98L514.32,173.22L513.61,173.46L512.89,173.71L512.03,174L511.13,174.31L510.4,174.56L509.68,174.8L508.97,175.05L508.26,175.29L507.53,175.54L506.64,175.85L505.76,176.16L505.05,176.4L504.33,176.65L503.62,176.9L502.91,177.15L502.19,177.4L501.32,177.7L500.44,178.01L499.7,178.27L498.98,178.52L498.27,178.77L497.56,179.03L496.84,179.28L496.06,179.55L495.19,179.86L494.35,180.16L493.63,180.42L492.92,180.67L492.21,180.93L491.49,181.18L490.78,181.44L490.01,181.71L489.16,182.02L488.3,182.33L487.57,182.6L486.86,182.85L486.14,183.11L485.43,183.37L484.72,183.63L484,183.89L483.21,184.18L482.37,184.49L481.53,184.8L480.79,185.07L480.08,185.33L479.37,185.6L478.65,185.86L477.94,186.13L477.23,186.39L476.51,186.66L475.7,186.96L474.88,187.27L474.06,187.58L473.3,187.86L472.59,188.13L471.88,188.4L471.16,188.67L470.45,188.94L469.74,189.21L469.02,189.48L468.31,189.75L467.55,190.05L466.74,190.35L465.94,190.66L465.14,190.97L464.39,191.26L463.67,191.54L462.96,191.81L462.25,192.09L461.53,192.37L460.82,192.65L460.11,192.93L459.39,193.21L458.68,193.49L457.97,193.77L457.24,194.06L456.46,194.37L455.68,194.67L454.9,194.98L454.13,195.29L453.36,195.6L452.62,195.9L451.9,196.18L451.19,196.47L450.48,196.76L449.76,197.05L449.05,197.34L448.34,197.63L447.62,197.92L446.91,198.21L446.2,198.5L445.48,198.8L444.77,199.09L444.06,199.39L443.34,199.68L442.63,199.98L441.92,200.28L441.2,200.57L440.49,200.87L439.78,201.17L439.06,201.47L438.35,201.77L437.63,202.08L436.9,202.39L436.18,202.7L435.45,203.01L434.73,203.31L434.02,203.62L433.3,203.93L432.59,204.24L431.87,204.55L431.16,204.86L430.46,205.17L429.75,205.47L429.43,205.61M528.54,172.46L527.63,172.77L526.8,173.04L526.09,173.29L525.38,173.53L524.66,173.77L523.95,174.01L523.09,174.31L522.19,174.62L521.45,174.87L520.74,175.11L520.03,175.36L519.31,175.6L518.6,175.85L517.71,176.16L516.82,176.47L516.1,176.72L515.39,176.96L514.68,177.21L513.96,177.46L513.25,177.71L512.39,178.01L511.51,178.32L510.75,178.58L510.04,178.84L509.33,179.09L508.61,179.34L507.9,179.59L507.13,179.86L506.26,180.17L505.4,180.48L504.69,180.73L503.98,180.99L503.26,181.24L502.55,181.5L501.84,181.75L501.09,182.02L500.23,182.33L499.38,182.64L498.63,182.91L497.91,183.17L497.2,183.43L496.49,183.69L495.77,183.95L495.06,184.21L494.29,184.49L493.45,184.8L492.61,185.11L491.85,185.39L491.14,185.65L490.42,185.92L489.71,186.18L489,186.45L488.28,186.71L487.57,186.98L486.79,187.27L485.96,187.58L485.14,187.89L484.36,188.18L483.65,188.45L482.93,188.72L482.22,188.99L481.51,189.26L480.79,189.53L480.08,189.8L479.37,190.07L478.64,190.35L477.83,190.66L477.03,190.97L476.23,191.28L475.44,191.58L474.73,191.86L474.02,192.14L473.3,192.41L472.59,192.69L471.88,192.97L471.16,193.25L470.45,193.53L469.74,193.81L469.02,194.09L468.31,194.37L467.55,194.67L466.77,194.98L466,195.29L465.23,195.6L464.45,195.91L463.69,196.22L462.96,196.51L462.25,196.8L461.53,197.09L460.82,197.37L460.11,197.66L459.39,197.95L458.68,198.25L457.97,198.54L457.25,198.83L456.54,199.12L455.83,199.42L455.11,199.71L454.4,200.01L453.69,200.31L452.97,200.6L452.26,200.9L451.55,201.2L450.83,201.5L450.12,201.8L449.41,202.1L448.69,202.4L447.98,202.71L447.27,203.01L446.55,203.32L445.84,203.62L445.12,203.93L444.41,204.24L443.69,204.55L442.98,204.86L442.27,205.17L441.56,205.48L440.85,205.79L440.13,206.1L439.42,206.42L438.71,206.73L437.99,207.05L437.28,207.36L436.57,207.68L435.85,208L435.14,208.32L434.43,208.64L433.71,208.96L433,209.29L432.29,209.61L431.57,209.93L430.86,210.26L430.15,210.59L429.43,210.92L429.43,210.92M540.5,172.46L539.64,172.75L538.93,172.99L538.22,173.23L537.5,173.47L536.79,173.71L535.95,174L535.05,174.31L534.29,174.57L533.58,174.81L532.87,175.05L532.15,175.3L531.44,175.54L530.55,175.85L529.66,176.16L528.94,176.41L528.23,176.65L527.52,176.9L526.8,177.15L526.09,177.4L525.21,177.7L524.33,178.01L523.59,178.27L522.88,178.52L522.17,178.77L521.45,179.02L520.74,179.27L519.94,179.55L519.07,179.86L518.24,180.16L517.53,180.41L516.82,180.66L516.1,180.92L515.39,181.17L514.68,181.43L513.87,181.71L513.01,182.02L512.18,182.32L511.47,182.58L510.75,182.84L510.04,183.1L509.33,183.35L508.61,183.61L507.9,183.87L507.05,184.18L506.21,184.49L505.4,184.79L504.69,185.05L503.98,185.31L503.26,185.57L502.55,185.84L501.84,186.1L501.12,186.36L500.35,186.65L499.52,186.96L498.69,187.27L497.91,187.56L497.2,187.83L496.49,188.09L495.77,188.36L495.06,188.63L494.35,188.9L493.63,189.17L492.92,189.44L492.14,189.74L491.33,190.05L490.52,190.35L489.72,190.66L489,190.94L488.28,191.21L487.57,191.49L486.86,191.76L486.14,192.04L485.43,192.32L484.72,192.59L484,192.87L483.29,193.15L482.55,193.44L481.77,193.75L480.98,194.06L480.2,194.37L479.42,194.67L478.65,194.98L477.94,195.26L477.23,195.54L476.51,195.83L475.8,196.12L475.09,196.4L474.37,196.69L473.66,196.98L472.95,197.26L472.23,197.55L471.52,197.84L470.81,198.13L470.09,198.42L469.38,198.72L468.67,199.01L467.95,199.3L467.2,199.61L466.46,199.92L465.71,200.23L464.97,200.54L464.23,200.85L463.49,201.15L462.75,201.46L462.02,201.77L461.29,202.08L460.56,202.39L459.83,202.7L459.1,203.01L458.38,203.31L457.66,203.62L456.94,203.93L456.22,204.24L455.51,204.55L454.79,204.86L454.08,205.17L453.37,205.47L452.67,205.78L451.96,206.09L451.26,206.4L450.56,206.71L449.86,207.02L449.16,207.33L448.47,207.63L447.77,207.94L447.08,208.25L446.4,208.56L445.71,208.87L445.03,209.18L444.34,209.49L443.66,209.79L442.99,210.1L442.27,210.43L441.56,210.76L440.85,211.08L440.13,211.41L439.42,211.74L438.71,212.08L437.99,212.41L437.28,212.74L436.57,213.08L435.85,213.41L435.14,213.75L434.43,214.09L433.73,214.42L433.08,214.73L432.44,215.04L431.8,215.35L431.16,215.66L430.5,215.97L429.79,216.32L429.43,216.5M543.57,175.48L542.85,175.73L542.14,175.97L541.43,176.22L540.71,176.47L539.82,176.78L538.93,177.08L538.22,177.33L537.5,177.58L536.79,177.83L536.08,178.08L535.36,178.33L534.5,178.63L533.62,178.94L532.87,179.2L532.15,179.46L531.44,179.71L530.73,179.96L530.01,180.21L529.26,180.48L528.39,180.79L527.52,181.1L526.8,181.35L526.09,181.61L525.38,181.86L524.66,182.12L523.95,182.38L523.22,182.64L522.36,182.95L521.51,183.26L520.74,183.54L520.03,183.8L519.31,184.06L518.6,184.32L517.89,184.58L517.17,184.84L516.43,185.11L515.59,185.42L514.75,185.73L513.96,186.02L513.25,186.28L512.54,186.54L511.82,186.81L511.11,187.07L510.4,187.34L509.68,187.61L508.94,187.89L508.12,188.19L507.29,188.5L506.48,188.81L505.76,189.08L505.05,189.35L504.33,189.62L503.62,189.89L502.91,190.16L502.19,190.44L501.48,190.71L500.77,190.98L499.99,191.28L499.19,191.59L498.39,191.9L497.59,192.21L496.84,192.5L496.13,192.77L495.42,193.05L494.7,193.33L493.99,193.61L493.28,193.89L492.56,194.17L491.85,194.45L491.14,194.73L490.42,195.01L489.71,195.3L488.95,195.6L488.17,195.91L487.4,196.22L486.63,196.53L485.86,196.83L485.1,197.14L484.36,197.44L483.65,197.73L482.93,198.02L482.22,198.31L481.51,198.6L480.79,198.89L480.08,199.18L479.37,199.48L478.65,199.77L477.94,200.07L477.23,200.36L476.51,200.66L475.8,200.95L475.09,201.25L474.37,201.55L473.66,201.85L472.95,202.15L472.23,202.45L471.52,202.75L470.81,203.06L470.09,203.36L469.38,203.66L468.67,203.97L467.95,204.27L467.24,204.58L466.53,204.89L465.81,205.2L465.1,205.51L464.39,205.82L463.67,206.13L462.96,206.44L462.25,206.76L461.53,207.07L460.82,207.39L460.11,207.7L459.39,208.02L458.68,208.34L457.97,208.66L457.25,208.98L456.54,209.3L455.83,209.62L455.11,209.94L454.4,210.27L453.69,210.59L452.97,210.92L452.26,211.25L451.55,211.58L450.83,211.91L450.12,212.24L449.41,212.57L448.74,212.88L448.09,213.19L447.43,213.5L446.78,213.81L446.12,214.11L445.48,214.42L444.77,214.76L444.06,215.1L443.34,215.44L442.63,215.79L441.92,216.13L441.2,216.48L440.49,216.83L439.78,217.18L439.1,217.51L438.48,217.82L437.85,218.13L437.23,218.43L436.57,218.77L435.85,219.12L435.14,219.48L434.43,219.84L433.71,220.2L433,220.57L432.35,220.9L431.74,221.21L431.15,221.52L430.5,221.85L429.79,222.22L429.43,222.41M543.57,179.64L542.85,179.89L542.05,180.17L541.18,180.48L540.36,180.77L539.64,181.03L538.93,181.28L538.22,181.53L537.5,181.79L536.79,182.04L535.99,182.33L535.13,182.64L534.29,182.94L533.58,183.2L532.87,183.46L532.15,183.72L531.44,183.98L530.73,184.23L530.01,184.49L529.18,184.8L528.33,185.11L527.52,185.41L526.8,185.67L526.09,185.93L525.38,186.2L524.66,186.46L523.95,186.72L523.24,186.99L522.48,187.27L521.66,187.58L520.83,187.89L520.03,188.19L519.31,188.45L518.6,188.72L517.89,188.99L517.17,189.26L516.46,189.53L515.75,189.8L515.03,190.07L514.29,190.35L513.48,190.66L512.67,190.97L511.87,191.28L511.11,191.57L510.4,191.85L509.68,192.12L508.97,192.4L508.26,192.67L507.54,192.95L506.83,193.23L506.12,193.51L505.4,193.78L504.69,194.06L503.92,194.37L503.14,194.67L502.36,194.98L501.58,195.29L500.8,195.6L500.05,195.9L499.34,196.18L498.63,196.47L497.91,196.75L497.2,197.04L496.49,197.33L495.77,197.61L495.06,197.9L494.35,198.19L493.63,198.48L492.92,198.77L492.21,199.06L491.49,199.36L490.78,199.65L490.07,199.94L489.35,200.24L488.63,200.54L487.88,200.85L487.14,201.15L486.4,201.46L485.67,201.77L484.93,202.08L484.2,202.39L483.47,202.7L482.74,203.01L482.01,203.31L481.28,203.62L480.56,203.93L479.84,204.24L479.12,204.55L478.4,204.86L477.69,205.17L476.98,205.47L476.27,205.78L475.56,206.09L474.85,206.4L474.15,206.71L473.44,207.02L472.74,207.33L472.04,207.63L471.35,207.94L470.65,208.25L469.96,208.56L469.27,208.87L468.59,209.18L467.9,209.49L467.22,209.79L466.53,210.11L465.81,210.43L465.1,210.76L464.39,211.08L463.67,211.41L462.96,211.74L462.25,212.07L461.53,212.4L460.82,212.73L460.11,213.06L459.39,213.4L458.68,213.73L457.97,214.07L457.25,214.41L456.57,214.73L455.92,215.04L455.28,215.35L454.64,215.66L454,215.97L453.33,216.29L452.62,216.63L451.9,216.98L451.19,217.33L450.48,217.68L449.76,218.03L449.05,218.39L448.34,218.74L447.71,219.05L447.09,219.36L446.48,219.67L445.84,219.99L445.13,220.35L444.41,220.72L443.7,221.08L442.99,221.45L442.27,221.81L441.65,222.14L441.05,222.45L440.46,222.75L439.78,223.11L439.06,223.49L438.35,223.87L437.64,224.24L436.96,224.61L436.38,224.91L435.81,225.22L435.14,225.58L434.43,225.97L433.71,226.36L433,226.75L432.42,227.07L431.86,227.38L431.22,227.74L430.5,228.14L429.79,228.54L429.43,228.74M543.57,183.89L542.77,184.18L541.92,184.49L541.08,184.8L540.36,185.06L539.64,185.32L538.93,185.59L538.22,185.85L537.5,186.11L536.79,186.37L536.04,186.65L535.2,186.96L534.37,187.27L533.58,187.56L532.87,187.83L532.15,188.1L531.44,188.36L530.73,188.63L530.01,188.9L529.3,189.17L528.59,189.44L527.79,189.74L526.97,190.05L526.16,190.35L525.38,190.65L524.66,190.93L523.95,191.2L523.24,191.47L522.52,191.75L521.81,192.02L521.1,192.3L520.38,192.57L519.67,192.85L518.94,193.13L518.14,193.44L517.35,193.75L516.56,194.06L515.78,194.37L515.03,194.66L514.32,194.94L513.61,195.22L512.89,195.5L512.18,195.79L511.47,196.07L510.75,196.35L510.04,196.64L509.33,196.92L508.61,197.21L507.9,197.5L507.19,197.79L506.47,198.07L505.72,198.38L504.97,198.69L504.21,198.99L503.45,199.3L502.7,199.61L501.95,199.92L501.2,200.23L500.45,200.54L499.71,200.85L498.98,201.15L498.27,201.44L497.56,201.74L496.84,202.04L496.13,202.34L495.42,202.64L494.7,202.94L493.99,203.24L493.28,203.54L492.56,203.85L491.85,204.15L491.14,204.46L490.42,204.76L489.71,205.07L489,205.38L488.28,205.69L487.57,206L486.86,206.31L486.14,206.62L485.43,206.93L484.72,207.24L484,207.56L483.29,207.87L482.58,208.19L481.86,208.51L481.15,208.82L480.44,209.14L479.72,209.46L479.01,209.78L478.3,210.1L477.62,210.41L476.94,210.72L476.27,211.03L475.59,211.34L474.92,211.65L474.25,211.95L473.58,212.26L472.91,212.57L472.23,212.89L471.52,213.22L470.81,213.55L470.09,213.89L469.38,214.22L468.67,214.56L467.95,214.9L467.24,215.24L466.53,215.58L465.81,215.92L465.1,216.27L464.45,216.58L463.81,216.89L463.18,217.2L462.55,217.51L461.89,217.83L461.18,218.18L460.46,218.53L459.75,218.89L459.04,219.24L458.32,219.6L457.61,219.96L456.96,220.29L456.35,220.59L455.74,220.9L455.11,221.22L454.4,221.59L453.69,221.96L452.97,222.32L452.26,222.7L451.55,223.06L450.96,223.37L450.38,223.68L449.76,224L449.05,224.38L448.34,224.76L447.62,225.14L446.91,225.53L446.33,225.84L445.76,226.15L445.13,226.49L444.41,226.88L443.7,227.28L442.99,227.67L442.39,228L441.84,228.31L441.2,228.67L440.49,229.07L439.78,229.47L439.11,229.85L438.57,230.16L437.99,230.49L437.28,230.91L436.57,231.32L435.91,231.7L435.39,232.01L434.78,232.37L434.07,232.79L433.36,233.22L432.8,233.55L432.29,233.86L431.57,234.3L430.86,234.73L430.27,235.1L429.77,235.41L429.43,235.61M543.57,188.27L542.85,188.54L542.12,188.81L541.3,189.12L540.48,189.43L539.66,189.74L538.93,190.01L538.22,190.28L537.5,190.56L536.79,190.83L536.08,191.1L535.36,191.37L534.65,191.64L533.94,191.92L533.19,192.21L532.39,192.51L531.59,192.82L530.79,193.13L530.01,193.43L529.3,193.71L528.59,193.99L527.87,194.27L527.16,194.55L526.45,194.83L525.73,195.11L525.02,195.39L524.31,195.67L523.59,195.96L522.88,196.24L522.16,196.53L521.39,196.83L520.62,197.14L519.85,197.45L519.08,197.76L518.32,198.07L517.55,198.38L516.82,198.68L516.1,198.97L515.39,199.26L514.68,199.55L513.96,199.84L513.25,200.13L512.54,200.43L511.82,200.72L511.11,201.02L510.4,201.31L509.68,201.61L508.97,201.91L508.26,202.21L507.54,202.5L506.83,202.8L506.12,203.1L505.4,203.41L504.69,203.71L503.98,204.01L503.26,204.32L502.55,204.62L501.84,204.93L501.12,205.23L500.41,205.54L499.7,205.85L498.98,206.16L498.27,206.47L497.56,206.78L496.84,207.09L496.13,207.4L495.42,207.72L494.7,208.03L493.99,208.35L493.28,208.67L492.56,208.98L491.85,209.3L491.14,209.62L490.42,209.94L489.71,210.26L489,210.59L488.28,210.91L487.57,211.24L486.86,211.56L486.14,211.89L485.43,212.22L484.72,212.55L484,212.88L483.33,213.19L482.67,213.5L482.01,213.81L481.35,214.11L480.7,214.42L480.04,214.73L479.37,215.05L478.65,215.39L477.94,215.73L477.23,216.07L476.51,216.42L475.8,216.76L475.09,217.11L474.37,217.45L473.66,217.8L473,218.13L472.37,218.43L471.75,218.74L471.13,219.05L470.45,219.39L469.74,219.74L469.02,220.1L468.31,220.46L467.6,220.82L466.88,221.18L466.22,221.52L465.62,221.83L465.02,222.14L464.39,222.46L463.67,222.83L462.96,223.2L462.25,223.58L461.53,223.95L460.88,224.3L460.3,224.61L459.72,224.91L459.04,225.28L458.32,225.66L457.61,226.04L456.9,226.43L456.28,226.77L455.72,227.07L455.11,227.4L454.4,227.8L453.69,228.19L452.97,228.59L452.38,228.93L451.83,229.23L451.19,229.6L450.48,230L449.76,230.41L449.12,230.78L448.59,231.09L447.98,231.44L447.27,231.85L446.55,232.27L445.95,232.63L445.43,232.94L444.77,233.33L444.06,233.76L443.37,234.17L442.86,234.48L442.27,234.84L441.56,235.28L440.85,235.71L440.35,236.02L439.78,236.38L439.06,236.83L438.39,237.26L437.91,237.57L437.28,237.97L436.57,238.43L435.99,238.8L435.5,239.12L434.78,239.59L434.12,240.03L433.65,240.34L433,240.78L432.29,241.26L431.83,241.58L431.22,242L430.5,242.49L430.04,242.81L429.43,243.24L429.43,243.24M543.57,192.78L542.85,193.05L542.14,193.33L541.43,193.6L540.71,193.88L540,194.16L539.29,194.44L538.57,194.72L537.86,195L537.11,195.29L536.33,195.6L535.55,195.91L534.77,196.22L534,196.53L533.22,196.83L532.51,197.12L531.8,197.4L531.08,197.69L530.37,197.98L529.66,198.27L528.94,198.55L528.23,198.84L527.52,199.13L526.8,199.42L526.09,199.71L525.38,200.01L524.66,200.3L523.95,200.59L523.24,200.89L522.52,201.18L521.81,201.48L521.1,201.77L520.36,202.08L519.62,202.39L518.89,202.7L518.15,203.01L517.42,203.31L516.69,203.62L515.96,203.93L515.23,204.24L514.51,204.55L513.79,204.86L513.07,205.17L512.35,205.47L511.63,205.78L510.92,206.09L510.21,206.4L509.5,206.71L508.79,207.02L508.08,207.33L507.38,207.63L506.68,207.94L505.98,208.25L505.28,208.56L504.59,208.87L503.89,209.18L503.2,209.49L502.51,209.79L501.83,210.1L501.12,210.42L500.41,210.74L499.7,211.07L498.98,211.39L498.27,211.72L497.56,212.04L496.84,212.37L496.13,212.7L495.42,213.03L494.7,213.36L493.99,213.69L493.28,214.03L492.56,214.36L491.85,214.7L491.14,215.03L490.47,215.35L489.82,215.66L489.18,215.97L488.53,216.27L487.89,216.58L487.21,216.91L486.5,217.25L485.79,217.6L485.07,217.95L484.36,218.3L483.65,218.65L482.93,219L482.22,219.35L481.59,219.67L480.97,219.98L480.35,220.29L479.72,220.6L479.01,220.96L478.3,221.32L477.58,221.69L476.87,222.05L476.16,222.42L475.5,222.75L474.91,223.06L474.31,223.37L473.66,223.71L472.95,224.09L472.23,224.46L471.52,224.84L470.81,225.22L470.22,225.53L469.64,225.84L469.02,226.17L468.31,226.56L467.6,226.95L466.88,227.33L466.23,227.69L465.67,228L465.1,228.32L464.39,228.71L463.67,229.11L462.96,229.51L462.36,229.85L461.82,230.16L461.18,230.53L460.46,230.93L459.75,231.34L459.13,231.7L458.6,232.01L457.97,232.38L457.25,232.8L456.54,233.23L455.99,233.55L455.47,233.86L454.76,234.29L454.04,234.72L453.43,235.1L452.93,235.41L452.26,235.82L451.55,236.26L450.94,236.64L450.44,236.95L449.76,237.38L449.05,237.83L448.5,238.18L447.98,238.52L447.27,238.98L446.59,239.42L446.12,239.73L445.48,240.15L444.77,240.62L444.27,240.96L443.7,241.34L442.99,241.83L442.45,242.19L441.92,242.56L441.2,243.06L440.67,243.43L440.13,243.81L439.42,244.31L438.93,244.66L438.35,245.08L437.65,245.59L437.23,245.9L436.57,246.39L435.99,246.82L435.5,247.19L434.78,247.73L434.36,248.06L433.71,248.56L433.16,248.98L432.64,249.39L431.99,249.91L431.57,250.25L430.86,250.82L430.47,251.14L429.79,251.7L429.43,252M543.57,197.43L542.85,197.71L542.14,198L541.43,198.29L540.71,198.57L540,198.86L539.29,199.15L538.57,199.44L537.86,199.73L537.15,200.02L536.43,200.32L535.72,200.61L535.01,200.9L534.29,201.2L533.58,201.49L532.87,201.79L532.15,202.08L531.42,202.39L530.68,202.7L529.95,203.01L529.21,203.31L528.48,203.62L527.75,203.93L527.02,204.24L526.3,204.55L525.57,204.86L524.85,205.17L524.13,205.47L523.41,205.78L522.7,206.09L521.98,206.4L521.27,206.71L520.56,207.02L519.85,207.33L519.15,207.63L518.45,207.94L517.74,208.25L517.05,208.56L516.35,208.87L515.65,209.18L514.96,209.49L514.27,209.79L513.58,210.1L512.89,210.41L512.18,210.73L511.47,211.06L510.75,211.38L510.04,211.7L509.33,212.03L508.61,212.36L507.9,212.68L507.19,213.01L506.47,213.34L505.76,213.67L505.05,214.01L504.33,214.34L503.62,214.68L502.91,215.01L502.19,215.35L501.54,215.66L500.89,215.97L500.25,216.27L499.6,216.58L498.96,216.89L498.27,217.22L497.56,217.57L496.84,217.92L496.13,218.26L495.42,218.61L494.7,218.96L493.99,219.32L493.28,219.67L492.66,219.98L492.04,220.29L491.42,220.59L490.78,220.92L490.07,221.28L489.35,221.64L488.64,222L487.93,222.37L487.21,222.73L486.58,223.06L485.98,223.37L485.39,223.68L484.72,224.03L484,224.4L483.29,224.78L482.58,225.16L481.87,225.53L481.29,225.84L480.71,226.15L480.08,226.49L479.37,226.88L478.65,227.26L477.94,227.65L477.31,228L476.75,228.31L476.16,228.63L475.44,229.03L474.73,229.43L474.02,229.83L473.43,230.16L472.89,230.47L472.23,230.84L471.52,231.25L470.81,231.66L470.2,232.01L469.67,232.32L469.02,232.7L468.31,233.12L467.6,233.54L467.06,233.86L466.53,234.18L465.81,234.61L465.1,235.04L464.5,235.41L464,235.71L463.32,236.13L462.6,236.58L462,236.95L461.51,237.26L460.82,237.69L460.11,238.15L459.57,238.49L459.04,238.83L458.32,239.29L457.66,239.73L457.19,240.03L456.54,240.46L455.83,240.94L455.33,241.27L454.76,241.66L454.04,242.14L453.51,242.5L452.97,242.87L452.26,243.37L451.73,243.74L451.19,244.12L450.48,244.63L449.99,244.97L449.41,245.39L448.71,245.9L448.29,246.21L447.62,246.7L447.04,247.13L446.55,247.5L445.84,248.04L445.42,248.37L444.77,248.86L444.22,249.29L443.7,249.7L443.05,250.22L442.63,250.55L441.92,251.13L441.52,251.45L440.85,252.01L440.4,252.38L439.78,252.91L439.31,253.3L438.71,253.82L438.24,254.23L437.64,254.76L437.19,255.15L436.57,255.72L436.17,256.08L435.5,256.7L435.14,257.04L434.52,257.62L434.07,258.06L433.56,258.55L433,259.1L432.63,259.47L432.02,260.09L431.57,260.55L431.13,261.02L430.55,261.63L430.15,262.07L429.7,262.56L429.43,262.85M543.57,202.24L542.85,202.54L542.14,202.84L541.43,203.14L540.71,203.44L540,203.74L539.29,204.04L538.57,204.34L537.86,204.64L537.15,204.95L536.43,205.25L535.72,205.56L535.01,205.86L534.29,206.17L533.58,206.48L532.87,206.78L532.15,207.09L531.44,207.4L530.73,207.72L530.01,208.03L529.3,208.34L528.59,208.66L527.87,208.97L527.16,209.29L526.45,209.6L525.73,209.92L525.02,210.24L524.31,210.56L523.59,210.88L522.88,211.21L522.17,211.53L521.45,211.85L520.74,212.18L520.03,212.5L519.31,212.83L518.6,213.16L517.89,213.49L517.21,213.81L516.54,214.11L515.88,214.42L515.22,214.73L514.56,215.04L513.91,215.35L513.25,215.66L512.54,216L511.82,216.34L511.11,216.68L510.4,217.02L509.68,217.37L508.97,217.71L508.26,218.06L507.54,218.4L506.85,218.74L506.22,219.05L505.59,219.36L504.97,219.67L504.33,219.98L503.62,220.34L502.91,220.69L502.19,221.05L501.48,221.41L500.77,221.77L500.05,222.13L499.44,222.45L498.84,222.75L498.24,223.06L497.56,223.42L496.84,223.79L496.13,224.16L495.42,224.53L494.7,224.9L494.1,225.22L493.52,225.53L492.92,225.85L492.21,226.23L491.49,226.61L490.78,227L490.07,227.38L489.5,227.69L488.94,228L488.28,228.36L487.57,228.75L486.86,229.15L486.15,229.54L485.6,229.85L485.05,230.16L484.36,230.55L483.65,230.95L482.93,231.36L482.34,231.7L481.8,232.01L481.15,232.39L480.44,232.81L479.72,233.22L479.16,233.55L478.64,233.86L477.94,234.28L477.23,234.71L476.58,235.1L476.07,235.41L475.44,235.79L474.73,236.23L474.06,236.64L473.56,236.95L472.95,237.33L472.23,237.78L471.6,238.18L471.11,238.49L470.45,238.91L469.74,239.37L469.19,239.73L468.67,240.07L467.95,240.54L467.31,240.96L466.85,241.27L466.17,241.73L465.47,242.19L465.02,242.5L464.39,242.94L463.67,243.43L463.23,243.74L462.6,244.18L461.91,244.66L461.48,244.97L460.82,245.44L460.19,245.9L459.75,246.22L459.04,246.74L458.51,247.13L457.97,247.54L457.28,248.06L456.87,248.37L456.18,248.89L455.67,249.29L455.11,249.72L454.48,250.22L454.04,250.57L453.33,251.14L452.95,251.45L452.26,252.01L451.82,252.38L451.19,252.9L450.71,253.3L450.12,253.81L449.63,254.23L449.05,254.74L448.58,255.15L447.98,255.69L447.55,256.08L446.91,256.66L446.54,257.01L445.88,257.62L445.48,258L444.91,258.55L444.41,259.03L443.97,259.47L443.35,260.09L442.99,260.46L442.45,261.02L441.92,261.57L441.56,261.95L441,262.56L440.49,263.12L440.13,263.52L439.62,264.1L439.09,264.72L438.71,265.17L438.31,265.65L437.8,266.26L437.31,266.88L436.92,267.37L436.57,267.84L436.13,268.42L435.67,269.04L435.23,269.66L434.8,270.27L434.43,270.83L434.07,271.37L433.71,271.92L433.36,272.49L433,273.08L432.64,273.68L432.29,274.31L431.93,274.95L431.57,275.63L431.22,276.33L430.86,277.06L430.57,277.68L430.3,278.3L430.04,278.91L429.79,279.53L429.44,280.46L429.43,280.47M543.57,207.25L542.85,207.56L542.14,207.87L541.43,208.18L540.71,208.49L540,208.81L539.29,209.12L538.57,209.44L537.86,209.75L537.15,210.07L536.43,210.39L535.72,210.71L535.01,211.03L534.33,211.34L533.64,211.65L532.96,211.95L532.29,212.26L531.61,212.57L530.94,212.88L530.27,213.19L529.6,213.5L528.93,213.81L528.23,214.13L527.52,214.46L526.8,214.79L526.09,215.13L525.38,215.46L524.66,215.8L523.95,216.14L523.24,216.48L522.52,216.82L521.81,217.16L521.1,217.5L520.45,217.82L519.81,218.13L519.17,218.43L518.54,218.74L517.89,219.06L517.17,219.41L516.46,219.76L515.75,220.12L515.03,220.47L514.32,220.83L513.61,221.18L512.94,221.52L512.33,221.83L511.72,222.14L511.11,222.45L510.4,222.81L509.68,223.18L508.97,223.54L508.26,223.91L507.54,224.28L506.92,224.61L506.33,224.91L505.74,225.22L505.05,225.59L504.33,225.97L503.62,226.35L502.91,226.73L502.27,227.07L501.7,227.38L501.12,227.69L500.41,228.08L499.7,228.47L498.98,228.87L498.32,229.23L497.76,229.54L497.2,229.86L496.49,230.25L495.77,230.66L495.06,231.06L494.47,231.39L493.93,231.7L493.28,232.08L492.56,232.49L491.85,232.91L491.27,233.25L490.74,233.55L490.07,233.95L489.35,234.38L488.67,234.79L488.15,235.1L487.57,235.45L486.86,235.88L486.14,236.32L485.62,236.64L485.07,236.98L484.36,237.42L483.65,237.86L483.14,238.18L482.58,238.54L481.86,238.99L481.2,239.42L480.72,239.73L480.08,240.14L479.37,240.61L478.83,240.96L478.3,241.32L477.58,241.79L476.98,242.19L476.51,242.51L475.8,243L475.17,243.43L474.72,243.74L474.02,244.23L473.4,244.66L472.95,244.98L472.23,245.49L471.67,245.9L471.16,246.26L470.45,246.78L469.97,247.13L469.38,247.57L468.73,248.06L468.31,248.37L467.6,248.92L467.11,249.29L466.53,249.74L465.92,250.22L465.46,250.58L464.75,251.14L464.37,251.45L463.67,252.01L463.23,252.38L462.6,252.9L462.12,253.3L461.53,253.8L461.03,254.23L460.46,254.72L459.96,255.15L459.39,255.66L458.92,256.08L458.32,256.62L457.9,257.01L457.25,257.61L456.9,257.94L456.26,258.55L455.83,258.96L455.3,259.47L454.76,260.01L454.37,260.4L453.77,261.02L453.33,261.47L452.88,261.94L452.3,262.56L451.9,262.99L451.45,263.49L450.9,264.1L450.48,264.59L450.1,265.03L449.57,265.65L449.06,266.26L448.69,266.71L448.31,267.19L447.83,267.81L447.36,268.42L446.91,269.02L446.55,269.51L446.2,270.01L445.8,270.58L445.38,271.2L444.97,271.82L444.57,272.43L444.19,273.05L443.82,273.67L443.45,274.29L443.11,274.9L442.77,275.52L442.44,276.14L442.13,276.75L441.83,277.37L441.54,277.99L441.2,278.75L440.87,279.53L440.63,280.15L440.39,280.77L440.13,281.5L439.87,282.31L439.68,282.93L439.5,283.54M543.57,212.47L542.85,212.79L542.14,213.12L541.43,213.45L540.71,213.78L540,214.11L539.31,214.42L538.65,214.73L537.99,215.04L537.33,215.35L536.68,215.66L536.02,215.97L535.36,216.28L534.65,216.62L533.94,216.96L533.22,217.3L532.51,217.64L531.8,217.98L531.08,218.33L530.37,218.67L529.66,219.02L528.96,219.36L528.33,219.67L527.71,219.98L527.08,220.29L526.45,220.6L525.73,220.96L525.02,221.31L524.31,221.67L523.59,222.03L522.88,222.39L522.17,222.75L521.56,223.06L520.96,223.37L520.36,223.68L519.67,224.03L518.96,224.4L518.24,224.77L517.53,225.15L516.82,225.52L516.21,225.84L515.63,226.15L515.03,226.47L514.32,226.85L513.61,227.23L512.89,227.61L512.18,228L511.61,228.31L511.05,228.62L510.4,228.98L509.68,229.37L508.97,229.76L508.26,230.16L507.71,230.47L507.16,230.78L506.47,231.17L505.76,231.57L505.05,231.98L504.45,232.32L503.91,232.63L503.26,233.01L502.55,233.42L501.84,233.84L501.27,234.17L500.75,234.48L500.05,234.9L499.34,235.32L498.69,235.71L498.18,236.02L497.56,236.4L496.84,236.84L496.17,237.26L495.67,237.57L495.06,237.95L494.35,238.39L493.7,238.8L493.22,239.11L492.56,239.53L491.85,239.98L491.3,240.34L490.78,240.68L490.07,241.15L489.41,241.58L488.95,241.89L488.28,242.33L487.57,242.81L487.12,243.12L486.5,243.54L485.79,244.03L485.32,244.35L484.72,244.78L484,245.28L483.57,245.59L482.93,246.04L482.28,246.51L481.85,246.82L481.15,247.34L480.59,247.75L480.08,248.13L479.37,248.67L478.95,248.98L478.3,249.48L477.74,249.91L477.23,250.31L476.56,250.83L476.16,251.15L475.44,251.72L475.02,252.07L474.37,252.59L473.89,252.99L473.3,253.48L472.78,253.92L472.23,254.38L471.7,254.85L471.16,255.31L470.64,255.77L470.09,256.25L469.6,256.7L469.02,257.22L468.59,257.62L467.95,258.21L467.6,258.55L466.95,259.17L466.53,259.58L466.01,260.09L465.46,260.64L465.08,261.02L464.48,261.63L464.03,262.1L463.6,262.56L463.02,263.18L462.6,263.64L462.18,264.1L461.63,264.72L461.18,265.25L460.82,265.66L460.32,266.26L459.81,266.88L459.39,267.39L459.04,267.84L458.59,268.42L458.12,269.04L457.66,269.66L457.25,270.22L456.9,270.73L456.54,271.25L456.16,271.82L455.75,272.43L455.36,273.05L454.98,273.67L454.61,274.29L454.25,274.9L453.91,275.52L453.57,276.14L453.25,276.75L452.94,277.37L452.62,278.05L452.26,278.83L451.96,279.53L451.7,280.15L451.46,280.77L451.19,281.5L450.91,282.31L450.71,282.93L450.53,283.54M543.57,217.94L542.85,218.29L542.14,218.63L541.43,218.98L540.71,219.32L540.01,219.67L539.38,219.98L538.75,220.29L538.13,220.59L537.5,220.9L536.79,221.26L536.08,221.62L535.36,221.97L534.65,222.33L533.94,222.69L533.22,223.06L532.61,223.37L532,223.68L531.4,223.99L530.73,224.34L530.01,224.71L529.3,225.08L528.59,225.45L527.87,225.83L527.26,226.15L526.68,226.46L526.09,226.77L525.38,227.15L524.66,227.53L523.95,227.92L523.24,228.3L522.66,228.62L522.1,228.93L521.45,229.28L520.74,229.67L520.03,230.07L519.31,230.47L518.76,230.78L518.21,231.09L517.53,231.47L516.82,231.87L516.1,232.28L515.5,232.63L514.96,232.94L514.32,233.31L513.61,233.72L512.89,234.14L512.32,234.48L511.8,234.79L511.11,235.2L510.4,235.62L509.74,236.02L509.23,236.33L508.61,236.7L507.9,237.14L507.21,237.57L506.71,237.87L506.12,238.25L505.4,238.69L504.74,239.11L504.26,239.42L503.62,239.82L502.91,240.28L502.34,240.65L501.84,240.98L501.12,241.44L500.45,241.89L499.99,242.19L499.34,242.63L498.63,243.11L498.16,243.43L497.56,243.84L496.84,244.33L496.36,244.66L495.77,245.07L495.06,245.57L494.6,245.9L493.99,246.34L493.31,246.82L492.89,247.13L492.21,247.63L491.63,248.06L491.14,248.42L490.42,248.96L489.98,249.29L489.35,249.77L488.77,250.22L488.28,250.6L487.59,251.14L487.2,251.45L486.5,252.01L486.04,252.38L485.43,252.88L484.91,253.3L484.36,253.76L483.8,254.23L483.29,254.66L482.72,255.15L482.22,255.58L481.65,256.08L481.15,256.53L480.62,257.01L480.08,257.49L479.6,257.93L479.01,258.48L478.61,258.86L477.96,259.47L477.58,259.84L477.01,260.4L476.51,260.9L476.09,261.33L475.49,261.94L475.09,262.36L474.6,262.87L474.02,263.49L473.66,263.88L473.18,264.41L472.63,265.03L472.23,265.48L471.83,265.95L471.31,266.57L470.81,267.18L470.45,267.62L470.06,268.11L469.57,268.73L469.1,269.35L468.67,269.94L468.31,270.43L467.95,270.93L467.55,271.51L467.13,272.13L466.73,272.74L466.33,273.36L465.95,273.98L465.58,274.59L465.22,275.21L464.87,275.83L464.54,276.45L464.21,277.06L463.9,277.68L463.6,278.3L463.31,278.91L462.96,279.72L462.65,280.46L462.41,281.07L462.17,281.69L461.89,282.5L461.65,283.23L461.55,283.54M543.57,223.72L542.85,224.09L542.14,224.45L541.43,224.82L540.71,225.19L540.07,225.53L539.48,225.84L538.89,226.15L538.22,226.5L537.5,226.88L536.79,227.26L536.08,227.64L535.41,228L534.84,228.31L534.27,228.62L533.58,228.99L532.87,229.38L532.15,229.78L531.46,230.16L530.9,230.47L530.35,230.78L529.66,231.16L528.94,231.57L528.23,231.97L527.61,232.32L527.07,232.63L526.45,232.99L525.73,233.4L525.02,233.81L524.41,234.17L523.88,234.48L523.24,234.86L522.52,235.28L521.81,235.71L521.29,236.02L520.74,236.35L520.03,236.78L519.31,237.22L518.75,237.57L518.24,237.88L517.53,238.32L516.82,238.76L516.27,239.11L515.75,239.44L515.03,239.89L514.33,240.34L513.85,240.65L513.25,241.04L512.54,241.5L511.95,241.89L511.47,242.21L510.75,242.68L510.1,243.12L509.64,243.43L508.97,243.88L508.28,244.35L507.84,244.66L507.19,245.11L506.51,245.59L506.07,245.9L505.4,246.37L504.77,246.82L504.33,247.14L503.62,247.65L503.07,248.06L502.55,248.44L501.84,248.97L501.41,249.29L500.77,249.78L500.19,250.22L499.7,250.6L499,251.14L498.61,251.45L497.91,252L497.44,252.38L496.84,252.86L496.3,253.3L495.77,253.74L495.18,254.23L494.7,254.63L494.09,255.15L493.63,255.55L493.02,256.08L492.56,256.48L491.97,257.01L491.49,257.43L490.95,257.93L490.42,258.41L489.95,258.86L489.35,259.42L488.97,259.78L488.33,260.4L487.93,260.8L487.4,261.33L486.86,261.87L486.48,262.25L485.89,262.87L485.43,263.35L485.02,263.79L484.45,264.41L484,264.91L483.62,265.34L483.08,265.95L482.58,266.54L482.22,266.97L481.78,267.5L481.28,268.11L480.79,268.73L480.44,269.19L480.08,269.66L479.62,270.27L479.17,270.89L478.74,271.51L478.31,272.13L477.94,272.68L477.58,273.22L477.23,273.78L476.87,274.35L476.51,274.94L476.16,275.56L475.8,276.19L475.44,276.84L475.09,277.52L474.73,278.23L474.4,278.91L474.12,279.53L473.85,280.15L473.59,280.77L473.3,281.48L473,282.31L472.78,282.93L472.58,283.54L472.58,283.54M543.57,229.88L542.85,230.27L542.14,230.66L541.43,231.06L540.83,231.39L540.28,231.7L539.64,232.06L538.93,232.47L538.22,232.87L537.57,233.25L537.03,233.55L536.43,233.9L535.72,234.32L535.01,234.73L534.39,235.1L533.87,235.41L533.22,235.79L532.51,236.22L531.8,236.64L531.29,236.95L530.73,237.29L530.01,237.73L529.3,238.17L528.78,238.49L528.23,238.83L527.52,239.28L526.81,239.73L526.32,240.03L525.73,240.41L525.02,240.87L524.4,241.27L523.92,241.58L523.24,242.03L522.52,242.5L522.05,242.81L521.45,243.21L520.74,243.69L520.21,244.05L519.67,244.41L518.96,244.9L518.41,245.28L517.89,245.65L517.17,246.15L516.65,246.51L516.1,246.91L515.39,247.42L514.93,247.75L514.32,248.2L513.67,248.67L513.25,248.99L512.54,249.52L512.02,249.91L511.47,250.33L510.81,250.83L510.4,251.15L509.68,251.71L509.23,252.07L508.61,252.56L508.07,252.99L507.54,253.42L506.94,253.92L506.47,254.3L505.82,254.85L505.4,255.2L504.74,255.77L504.33,256.12L503.67,256.7L503.26,257.06L502.63,257.62L502.19,258.02L501.61,258.55L501.12,259L500.62,259.47L500.05,260.01L499.64,260.4L499.01,261.02L498.63,261.4L498.08,261.94L497.56,262.48L497.18,262.87L496.58,263.49L496.13,263.97L495.72,264.41L495.16,265.03L494.7,265.53L494.33,265.95L493.8,266.57L493.28,267.18L492.92,267.61L492.51,268.11L492.01,268.73L491.53,269.35L491.14,269.86L490.78,270.33L490.36,270.89L489.92,271.51L489.49,272.13L489.06,272.74L488.65,273.36L488.28,273.93L487.93,274.5L487.57,275.08L487.21,275.68L486.86,276.3L486.5,276.95L486.14,277.61L485.79,278.3L485.49,278.91L485.2,279.53L484.92,280.15L484.65,280.77L484.36,281.47L484.03,282.31L483.81,282.93L483.6,283.54L483.6,283.54M543.57,236.51L542.85,236.93L542.32,237.26L541.78,237.58L541.07,238.02L540.36,238.46L539.8,238.8L539.29,239.12L538.57,239.57L537.86,240.02L537.34,240.34L536.79,240.7L536.08,241.15L535.42,241.58L534.94,241.89L534.29,242.31L533.58,242.78L533.07,243.12L532.51,243.49L531.8,243.97L531.23,244.35L530.73,244.7L530.01,245.19L529.43,245.59L528.94,245.93L528.23,246.43L527.67,246.82L527.16,247.18L526.45,247.7L525.95,248.06L525.38,248.47L524.68,248.98L524.27,249.29L523.59,249.79L523.03,250.22L522.52,250.6L521.82,251.14L521.42,251.45L520.74,251.98L520.24,252.38L519.67,252.83L519.08,253.3L518.6,253.69L517.94,254.23L517.53,254.57L516.83,255.15L516.46,255.46L515.75,256.07L515.38,256.39L514.68,257L514.32,257.31L513.62,257.93L513.25,258.27L512.6,258.86L512.18,259.25L511.61,259.78L511.11,260.25L510.63,260.71L510.04,261.29L509.68,261.64L509.07,262.25L508.61,262.71L508.16,263.18L507.57,263.79L507.19,264.2L506.7,264.72L506.13,265.34L505.76,265.75L505.31,266.26L504.77,266.88L504.33,267.39L503.98,267.82L503.48,268.42L502.98,269.04L502.55,269.58L502.19,270.04L501.78,270.58L501.32,271.2L500.88,271.82L500.44,272.43L500.05,273L499.7,273.53L499.34,274.08L498.98,274.63L498.62,275.21L498.25,275.83L497.89,276.45L497.55,277.06L497.2,277.7L496.84,278.38L496.49,279.09L496.13,279.83L495.85,280.46L495.58,281.07L495.32,281.69L495.06,282.34L494.73,283.23L494.62,283.54M543.57,243.77L542.85,244.25L542.24,244.66L541.78,244.97L541.07,245.46L540.44,245.9L539.99,246.21L539.29,246.7L538.68,247.13L538.22,247.46L537.5,247.97L536.95,248.37L536.43,248.74L535.72,249.27L535.27,249.6L534.65,250.06L534.03,250.53L533.58,250.87L532.87,251.41L532.42,251.76L531.8,252.24L531.23,252.69L530.73,253.09L530.07,253.61L529.66,253.95L528.94,254.53L528.56,254.85L527.87,255.42L527.45,255.77L526.8,256.32L526.37,256.7L525.73,257.25L525.31,257.62L524.66,258.19L524.27,258.55L523.59,259.16L523.24,259.49L522.59,260.09L522.17,260.49L521.62,261.02L521.1,261.52L520.67,261.94L520.04,262.56L519.67,262.94L519.13,263.49L518.6,264.04L518.24,264.42L517.67,265.03L517.17,265.57L516.82,265.96L516.28,266.57L515.75,267.18L515.39,267.59L514.95,268.11L514.44,268.73L513.96,269.32L513.61,269.77L513.21,270.27L512.74,270.89L512.28,271.51L511.83,272.13L511.47,272.64L511.11,273.15L510.75,273.67L510.35,274.29L509.95,274.9L509.56,275.52L509.19,276.14L508.83,276.75L508.48,277.37L508.14,277.99L507.81,278.61L507.5,279.22L507.19,279.86L506.83,280.62L506.49,281.38L506.23,282L505.98,282.62L505.75,283.23L505.64,283.54M543.57,251.95L543.02,252.38L542.5,252.78L541.84,253.3L541.43,253.63L540.71,254.2L540.3,254.54L539.64,255.08L539.18,255.46L538.57,255.97L538.07,256.39L537.5,256.88L537,257.31L536.43,257.8L535.94,258.24L535.36,258.75L534.91,259.17L534.29,259.73L533.9,260.09L533.24,260.71L532.87,261.06L532.27,261.63L531.8,262.1L531.33,262.56L530.73,263.16L530.37,263.52L529.8,264.1L529.3,264.63L528.92,265.03L528.35,265.65L527.87,266.17L527.51,266.57L526.96,267.19L526.45,267.79L526.09,268.2L525.65,268.73L525.14,269.35L524.66,269.94L524.31,270.39L523.92,270.89L523.45,271.51L523,272.13L522.55,272.74L522.17,273.29L521.81,273.81L521.45,274.34L521.08,274.9L520.69,275.52L520.31,276.14L519.94,276.75L519.58,277.37L519.23,277.99L518.9,278.61L518.57,279.22L518.24,279.88L517.89,280.62L517.54,281.38L517.27,282L517.01,282.62L516.77,283.23L516.65,283.54M543.57,261.63L543.21,261.97L542.6,262.56L542.14,263.02L541.67,263.49L541.07,264.1L540.71,264.46L540.17,265.03L539.64,265.59L539.29,265.98L538.74,266.57L538.22,267.16L537.86,267.56L537.38,268.11L536.85,268.73L536.43,269.23L536.08,269.67L535.59,270.27L535.1,270.89L534.65,271.48L534.29,271.95L533.93,272.43L533.49,273.05L533.05,273.67L532.63,274.29L532.21,274.9L531.81,275.52L531.44,276.11L531.08,276.69L530.73,277.29L530.37,277.9L530.01,278.54L529.66,279.21L529.33,279.84L529.02,280.46L528.73,281.07L528.44,281.69L528.17,282.31L527.87,283.02L527.67,283.54M543.57,274.57L543.21,275.1L542.85,275.64L542.5,276.19L542.14,276.77L541.77,277.37L541.41,277.99L541.06,278.61L540.71,279.23L540.36,279.91L540,280.61L539.64,281.34L539.34,282L539.06,282.62L538.8,283.23L538.68,283.54" fill="none" stroke="#5e7a86" stroke-width="0.8" stroke-dasharray="3.2 0.8"/>
<polyline points="478.6,274.3 476.5,272.2 473.5,269.2 469.9,266.2 467.8,263.1 467.8,258.3 469.4,252.2 472.6,245.7 475.6,238.4 478.6,232.4 481.7,226.3 485.9,220.3 489.5,216.1 491.4,213.7" fill="none" stroke="#ff0000" stroke-width="5.4" stroke-linejoin="round" stroke-linecap="round" />
<polyline points="479,274.1 476.9,272 473.9,269 470.3,266 468.2,262.9 468.2,258.1 469.8,252 473,245.5 476,238.2 479,232.2 482.1,226.1 486.3,220.1 489.9,215.9 491.8,213.5" fill="none" stroke="#e800e8" stroke-width="3.6" stroke-linejoin="round" stroke-linecap="round" />
<path d="M493.2,209.2L496,215.4L490.9,215.2Z" fill="#e800e8" stroke="#ff0000" stroke-width="1.1" stroke-linejoin="round"/>
<line x1="432.2" y1="174" x2="540.8" y2="174" stroke="#e800e8" stroke-width="2" />
<line x1="433" y1="174" x2="433" y2="168.4" stroke="#e800e8" stroke-width="1.6" />
<text x="433" y="163.3" fill="#e800e8" stroke="#e800e8" text-anchor="middle" font-size="14" >32</text>
<line x1="436.57" y1="174" x2="436.57" y2="171" stroke="#e800e8" stroke-width="1.3" />
<line x1="440.13" y1="174" x2="440.13" y2="171" stroke="#e800e8" stroke-width="1.3" />
<line x1="443.7" y1="174" x2="443.7" y2="171" stroke="#e800e8" stroke-width="1.3" />
<line x1="447.27" y1="174" x2="447.27" y2="171" stroke="#e800e8" stroke-width="1.3" />
<line x1="450.83" y1="174" x2="450.83" y2="168.4" stroke="#e800e8" stroke-width="1.6" />
<text x="450.83" y="163.3" fill="#e800e8" stroke="#e800e8" text-anchor="middle" font-size="14" >33</text>
<line x1="454.4" y1="174" x2="454.4" y2="171" stroke="#e800e8" stroke-width="1.3" />
<line x1="457.97" y1="174" x2="457.97" y2="171" stroke="#e800e8" stroke-width="1.3" />
<line x1="461.53" y1="174" x2="461.53" y2="171" stroke="#e800e8" stroke-width="1.3" />
<line x1="465.1" y1="174" x2="465.1" y2="171" stroke="#e800e8" stroke-width="1.3" />
<line x1="468.67" y1="174" x2="468.67" y2="168.4" stroke="#e800e8" stroke-width="1.6" />
<text x="468.67" y="163.3" fill="#e800e8" stroke="#e800e8" text-anchor="middle" font-size="14" >34</text>
<line x1="472.23" y1="174" x2="472.23" y2="171" stroke="#e800e8" stroke-width="1.3" />
<line x1="475.8" y1="174" x2="475.8" y2="171" stroke="#e800e8" stroke-width="1.3" />
<line x1="479.37" y1="174" x2="479.37" y2="171" stroke="#e800e8" stroke-width="1.3" />
<line x1="482.93" y1="174" x2="482.93" y2="171" stroke="#e800e8" stroke-width="1.3" />
<line x1="486.5" y1="174" x2="486.5" y2="168.4" stroke="#e800e8" stroke-width="1.6" />
<text x="486.5" y="163.3" fill="#e800e8" stroke="#e800e8" text-anchor="middle" font-size="14" >35</text>
<line x1="490.07" y1="174" x2="490.07" y2="171" stroke="#e800e8" stroke-width="1.3" />
<line x1="493.63" y1="174" x2="493.63" y2="171" stroke="#e800e8" stroke-width="1.3" />
<line x1="497.2" y1="174" x2="497.2" y2="171" stroke="#e800e8" stroke-width="1.3" />
<line x1="500.77" y1="174" x2="500.77" y2="171" stroke="#e800e8" stroke-width="1.3" />
<line x1="504.33" y1="174" x2="504.33" y2="168.4" stroke="#e800e8" stroke-width="1.6" />
<text x="504.33" y="163.3" fill="#e800e8" stroke="#e800e8" text-anchor="middle" font-size="14" >36</text>
<line x1="507.9" y1="174" x2="507.9" y2="171" stroke="#e800e8" stroke-width="1.3" />
<line x1="511.47" y1="174" x2="511.47" y2="171" stroke="#e800e8" stroke-width="1.3" />
<line x1="515.03" y1="174" x2="515.03" y2="171" stroke="#e800e8" stroke-width="1.3" />
<line x1="518.6" y1="174" x2="518.6" y2="171" stroke="#e800e8" stroke-width="1.3" />
<line x1="522.17" y1="174" x2="522.17" y2="168.4" stroke="#e800e8" stroke-width="1.6" />
<text x="522.17" y="163.3" fill="#e800e8" stroke="#e800e8" text-anchor="middle" font-size="14" >37</text>
<line x1="525.73" y1="174" x2="525.73" y2="171" stroke="#e800e8" stroke-width="1.3" />
<line x1="529.3" y1="174" x2="529.3" y2="171" stroke="#e800e8" stroke-width="1.3" />
<line x1="532.87" y1="174" x2="532.87" y2="171" stroke="#e800e8" stroke-width="1.3" />
<line x1="536.43" y1="174" x2="536.43" y2="171" stroke="#e800e8" stroke-width="1.3" />
<line x1="540" y1="174" x2="540" y2="168.4" stroke="#e800e8" stroke-width="1.6" />
<text x="540" y="163.3" fill="#e800e8" stroke="#e800e8" text-anchor="middle" font-size="14" >38</text>
<line x1="432.2" y1="282" x2="540.8" y2="282" stroke="#e800e8" stroke-width="2" />
<line x1="433" y1="282" x2="433" y2="287.6" stroke="#e800e8" stroke-width="1.6" />
<line x1="436.57" y1="282" x2="436.57" y2="285" stroke="#e800e8" stroke-width="1.3" />
<line x1="440.13" y1="282" x2="440.13" y2="285" stroke="#e800e8" stroke-width="1.3" />
<line x1="443.7" y1="282" x2="443.7" y2="285" stroke="#e800e8" stroke-width="1.3" />
<line x1="447.27" y1="282" x2="447.27" y2="285" stroke="#e800e8" stroke-width="1.3" />
<line x1="450.83" y1="282" x2="450.83" y2="287.6" stroke="#e800e8" stroke-width="1.6" />
<line x1="454.4" y1="282" x2="454.4" y2="285" stroke="#e800e8" stroke-width="1.3" />
<line x1="457.97" y1="282" x2="457.97" y2="285" stroke="#e800e8" stroke-width="1.3" />
<line x1="461.53" y1="282" x2="461.53" y2="285" stroke="#e800e8" stroke-width="1.3" />
<line x1="465.1" y1="282" x2="465.1" y2="285" stroke="#e800e8" stroke-width="1.3" />
<line x1="468.67" y1="282" x2="468.67" y2="287.6" stroke="#e800e8" stroke-width="1.6" />
<line x1="472.23" y1="282" x2="472.23" y2="285" stroke="#e800e8" stroke-width="1.3" />
<line x1="475.8" y1="282" x2="475.8" y2="285" stroke="#e800e8" stroke-width="1.3" />
<line x1="479.37" y1="282" x2="479.37" y2="285" stroke="#e800e8" stroke-width="1.3" />
<line x1="482.93" y1="282" x2="482.93" y2="285" stroke="#e800e8" stroke-width="1.3" />
<line x1="486.5" y1="282" x2="486.5" y2="287.6" stroke="#e800e8" stroke-width="1.6" />
<line x1="490.07" y1="282" x2="490.07" y2="285" stroke="#e800e8" stroke-width="1.3" />
<line x1="493.63" y1="282" x2="493.63" y2="285" stroke="#e800e8" stroke-width="1.3" />
<line x1="497.2" y1="282" x2="497.2" y2="285" stroke="#e800e8" stroke-width="1.3" />
<line x1="500.77" y1="282" x2="500.77" y2="285" stroke="#e800e8" stroke-width="1.3" />
<line x1="504.33" y1="282" x2="504.33" y2="287.6" stroke="#e800e8" stroke-width="1.6" />
<line x1="507.9" y1="282" x2="507.9" y2="285" stroke="#e800e8" stroke-width="1.3" />
<line x1="511.47" y1="282" x2="511.47" y2="285" stroke="#e800e8" stroke-width="1.3" />
<line x1="515.03" y1="282" x2="515.03" y2="285" stroke="#e800e8" stroke-width="1.3" />
<line x1="518.6" y1="282" x2="518.6" y2="285" stroke="#e800e8" stroke-width="1.3" />
<line x1="522.17" y1="282" x2="522.17" y2="287.6" stroke="#e800e8" stroke-width="1.6" />
<line x1="525.73" y1="282" x2="525.73" y2="285" stroke="#e800e8" stroke-width="1.3" />
<line x1="529.3" y1="282" x2="529.3" y2="285" stroke="#e800e8" stroke-width="1.3" />
<line x1="532.87" y1="282" x2="532.87" y2="285" stroke="#e800e8" stroke-width="1.3" />
<line x1="536.43" y1="282" x2="536.43" y2="285" stroke="#e800e8" stroke-width="1.3" />
<line x1="540" y1="282" x2="540" y2="287.6" stroke="#e800e8" stroke-width="1.6" />
<line x1="433" y1="282.8" x2="433" y2="173.2" stroke="#e800e8" stroke-width="2" />
<line x1="433" y1="282" x2="427.5" y2="282" stroke="#e800e8" stroke-width="1.6" />
<line x1="433" y1="278.91" x2="430.1" y2="278.91" stroke="#e800e8" stroke-width="1.2" />
<line x1="433" y1="275.83" x2="430.1" y2="275.83" stroke="#e800e8" stroke-width="1.2" />
<line x1="433" y1="272.74" x2="430.1" y2="272.74" stroke="#e800e8" stroke-width="1.2" />
<line x1="433" y1="269.66" x2="430.1" y2="269.66" stroke="#e800e8" stroke-width="1.2" />
<line x1="433" y1="266.57" x2="427.5" y2="266.57" stroke="#e800e8" stroke-width="1.6" />
<line x1="433" y1="263.49" x2="430.1" y2="263.49" stroke="#e800e8" stroke-width="1.2" />
<line x1="433" y1="260.4" x2="430.1" y2="260.4" stroke="#e800e8" stroke-width="1.2" />
<line x1="433" y1="257.31" x2="430.1" y2="257.31" stroke="#e800e8" stroke-width="1.2" />
<line x1="433" y1="254.23" x2="430.1" y2="254.23" stroke="#e800e8" stroke-width="1.2" />
<line x1="433" y1="251.14" x2="427.5" y2="251.14" stroke="#e800e8" stroke-width="1.6" />
<line x1="433" y1="248.06" x2="430.1" y2="248.06" stroke="#e800e8" stroke-width="1.2" />
<line x1="433" y1="244.97" x2="430.1" y2="244.97" stroke="#e800e8" stroke-width="1.2" />
<line x1="433" y1="241.89" x2="430.1" y2="241.89" stroke="#e800e8" stroke-width="1.2" />
<line x1="433" y1="238.8" x2="430.1" y2="238.8" stroke="#e800e8" stroke-width="1.2" />
<line x1="433" y1="235.71" x2="427.5" y2="235.71" stroke="#e800e8" stroke-width="1.6" />
<line x1="433" y1="232.63" x2="430.1" y2="232.63" stroke="#e800e8" stroke-width="1.2" />
<line x1="433" y1="229.54" x2="430.1" y2="229.54" stroke="#e800e8" stroke-width="1.2" />
<line x1="433" y1="226.46" x2="430.1" y2="226.46" stroke="#e800e8" stroke-width="1.2" />
<line x1="433" y1="223.37" x2="430.1" y2="223.37" stroke="#e800e8" stroke-width="1.2" />
<line x1="433" y1="220.29" x2="427.5" y2="220.29" stroke="#e800e8" stroke-width="1.6" />
<line x1="433" y1="217.2" x2="430.1" y2="217.2" stroke="#e800e8" stroke-width="1.2" />
<line x1="433" y1="214.11" x2="430.1" y2="214.11" stroke="#e800e8" stroke-width="1.2" />
<line x1="433" y1="211.03" x2="430.1" y2="211.03" stroke="#e800e8" stroke-width="1.2" />
<line x1="433" y1="207.94" x2="430.1" y2="207.94" stroke="#e800e8" stroke-width="1.2" />
<line x1="433" y1="204.86" x2="427.5" y2="204.86" stroke="#e800e8" stroke-width="1.6" />
<line x1="433" y1="201.77" x2="430.1" y2="201.77" stroke="#e800e8" stroke-width="1.2" />
<line x1="433" y1="198.69" x2="430.1" y2="198.69" stroke="#e800e8" stroke-width="1.2" />
<line x1="433" y1="195.6" x2="430.1" y2="195.6" stroke="#e800e8" stroke-width="1.2" />
<line x1="433" y1="192.51" x2="430.1" y2="192.51" stroke="#e800e8" stroke-width="1.2" />
<line x1="433" y1="189.43" x2="427.5" y2="189.43" stroke="#e800e8" stroke-width="1.6" />
<line x1="433" y1="186.34" x2="430.1" y2="186.34" stroke="#e800e8" stroke-width="1.2" />
<line x1="433" y1="183.26" x2="430.1" y2="183.26" stroke="#e800e8" stroke-width="1.2" />
<line x1="433" y1="180.17" x2="430.1" y2="180.17" stroke="#e800e8" stroke-width="1.2" />
<line x1="433" y1="177.09" x2="430.1" y2="177.09" stroke="#e800e8" stroke-width="1.2" />
<line x1="433" y1="174" x2="427.5" y2="174" stroke="#e800e8" stroke-width="1.6" />
<line x1="540" y1="282.8" x2="540" y2="173.2" stroke="#e800e8" stroke-width="2" />
<line x1="540" y1="282" x2="545.5" y2="282" stroke="#e800e8" stroke-width="1.6" />
<text x="565" y="287" fill="#e800e8" stroke="#e800e8" text-anchor="end" font-size="14" >0</text>
<line x1="540" y1="278.91" x2="542.9" y2="278.91" stroke="#e800e8" stroke-width="1.2" />
<line x1="540" y1="275.83" x2="542.9" y2="275.83" stroke="#e800e8" stroke-width="1.2" />
<line x1="540" y1="272.74" x2="542.9" y2="272.74" stroke="#e800e8" stroke-width="1.2" />
<line x1="540" y1="269.66" x2="542.9" y2="269.66" stroke="#e800e8" stroke-width="1.2" />
<line x1="540" y1="266.57" x2="545.5" y2="266.57" stroke="#e800e8" stroke-width="1.6" />
<text x="565" y="271.57" fill="#e800e8" stroke="#e800e8" text-anchor="end" font-size="14" >5</text>
<line x1="540" y1="263.49" x2="542.9" y2="263.49" stroke="#e800e8" stroke-width="1.2" />
<line x1="540" y1="260.4" x2="542.9" y2="260.4" stroke="#e800e8" stroke-width="1.2" />
<line x1="540" y1="257.31" x2="542.9" y2="257.31" stroke="#e800e8" stroke-width="1.2" />
<line x1="540" y1="254.23" x2="542.9" y2="254.23" stroke="#e800e8" stroke-width="1.2" />
<line x1="540" y1="251.14" x2="545.5" y2="251.14" stroke="#e800e8" stroke-width="1.6" />
<text x="565" y="256.14" fill="#e800e8" stroke="#e800e8" text-anchor="end" font-size="14" >10</text>
<line x1="540" y1="248.06" x2="542.9" y2="248.06" stroke="#e800e8" stroke-width="1.2" />
<line x1="540" y1="244.97" x2="542.9" y2="244.97" stroke="#e800e8" stroke-width="1.2" />
<line x1="540" y1="241.89" x2="542.9" y2="241.89" stroke="#e800e8" stroke-width="1.2" />
<line x1="540" y1="238.8" x2="542.9" y2="238.8" stroke="#e800e8" stroke-width="1.2" />
<line x1="540" y1="235.71" x2="545.5" y2="235.71" stroke="#e800e8" stroke-width="1.6" />
<text x="565" y="240.71" fill="#e800e8" stroke="#e800e8" text-anchor="end" font-size="14" >15</text>
<line x1="540" y1="232.63" x2="542.9" y2="232.63" stroke="#e800e8" stroke-width="1.2" />
<line x1="540" y1="229.54" x2="542.9" y2="229.54" stroke="#e800e8" stroke-width="1.2" />
<line x1="540" y1="226.46" x2="542.9" y2="226.46" stroke="#e800e8" stroke-width="1.2" />
<line x1="540" y1="223.37" x2="542.9" y2="223.37" stroke="#e800e8" stroke-width="1.2" />
<line x1="540" y1="220.29" x2="545.5" y2="220.29" stroke="#e800e8" stroke-width="1.6" />
<text x="565" y="225.29" fill="#e800e8" stroke="#e800e8" text-anchor="end" font-size="14" >20</text>
<line x1="540" y1="217.2" x2="542.9" y2="217.2" stroke="#e800e8" stroke-width="1.2" />
<line x1="540" y1="214.11" x2="542.9" y2="214.11" stroke="#e800e8" stroke-width="1.2" />
<line x1="540" y1="211.03" x2="542.9" y2="211.03" stroke="#e800e8" stroke-width="1.2" />
<line x1="540" y1="207.94" x2="542.9" y2="207.94" stroke="#e800e8" stroke-width="1.2" />
<line x1="540" y1="204.86" x2="545.5" y2="204.86" stroke="#e800e8" stroke-width="1.6" />
<text x="565" y="209.86" fill="#e800e8" stroke="#e800e8" text-anchor="end" font-size="14" >25</text>
<line x1="540" y1="201.77" x2="542.9" y2="201.77" stroke="#e800e8" stroke-width="1.2" />
<line x1="540" y1="198.69" x2="542.9" y2="198.69" stroke="#e800e8" stroke-width="1.2" />
<line x1="540" y1="195.6" x2="542.9" y2="195.6" stroke="#e800e8" stroke-width="1.2" />
<line x1="540" y1="192.51" x2="542.9" y2="192.51" stroke="#e800e8" stroke-width="1.2" />
<line x1="540" y1="189.43" x2="545.5" y2="189.43" stroke="#e800e8" stroke-width="1.6" />
<text x="565" y="194.43" fill="#e800e8" stroke="#e800e8" text-anchor="end" font-size="14" >30</text>
<line x1="540" y1="186.34" x2="542.9" y2="186.34" stroke="#e800e8" stroke-width="1.2" />
<line x1="540" y1="183.26" x2="542.9" y2="183.26" stroke="#e800e8" stroke-width="1.2" />
<line x1="540" y1="180.17" x2="542.9" y2="180.17" stroke="#e800e8" stroke-width="1.2" />
<line x1="540" y1="177.09" x2="542.9" y2="177.09" stroke="#e800e8" stroke-width="1.2" />
<line x1="540" y1="174" x2="545.5" y2="174" stroke="#e800e8" stroke-width="1.6" />
<text x="565" y="179" fill="#e800e8" stroke="#e800e8" text-anchor="end" font-size="14" >35</text>
<text x="486.5" y="146.6" fill="#e800e8" stroke="#e800e8" text-anchor="middle" font-size="14" >Salinity (PSU)</text>
<text transform="translate(582.5,228) rotate(-90)" fill="#e800e8" stroke="#e800e8" text-anchor="middle" font-size="14">Insitu Temperature (˚C)</text>
<text x="432.2" y="317.7" fill="#000000" stroke="#000000" text-anchor="start" font-size="14" >Float:&#160; 20001</text>
<text x="432.2" y="332.2" fill="#000000" stroke="#000000" text-anchor="start" font-size="14" >Profile:&#160; 128</text>
<text x="432.2" y="346.7" fill="#000000" stroke="#000000" text-anchor="start" font-size="14" >Location:&#160; -0.0˚S &#160; 0.0˚E</text>
<text x="432.2" y="361" fill="#000000" stroke="#000000" text-anchor="start" font-size="14" >Date:&#160; 01/21/2026</text>
<clipPath id="mapclip"><path d="M480.89,424.45L482.09,424.28L483.03,424.2L483.74,424.2L484.27,424.26L484.67,424.35L484.99,424.48L485.27,424.61L485.53,424.75L485.8,424.9L486.07,425.04L486.35,425.18L486.65,425.32L486.96,425.45L487.28,425.59L487.61,425.72L487.96,425.84L488.32,425.97L488.69,426.09L489.08,426.21L489.47,426.32L489.88,426.44L490.29,426.55L490.72,426.65L491.15,426.76L491.6,426.86L492.06,426.96L492.52,427.05L492.99,427.15L493.48,427.24L493.97,427.32L494.47,427.41L494.97,427.49L495.49,427.57L496.01,427.64L496.54,427.72L497.07,427.78L497.61,427.85L498.16,427.92L498.71,427.98L499.27,428.03L499.84,428.09L500.4,428.14L500.98,428.19L501.56,428.24L502.14,428.28L502.73,428.32L503.32,428.36L503.91,428.4L504.51,428.43L505.1,428.46L505.71,428.49L506.31,428.51L506.92,428.53L507.53,428.55L508.14,428.57L508.75,428.58L509.36,428.59L509.97,428.6L510.59,428.6L511.2,428.6L511.81,428.6L512.43,428.6L513.04,428.59L513.65,428.58L514.26,428.57L514.87,428.55L515.48,428.53L516.09,428.51L516.69,428.49L517.3,428.46L517.89,428.43L518.49,428.4L519.08,428.36L519.67,428.32L520.26,428.28L520.84,428.24L521.42,428.19L522,428.14L522.56,428.09L523.13,428.03L523.69,427.98L524.24,427.92L524.79,427.85L525.33,427.78L525.86,427.72L526.39,427.64L526.91,427.57L527.43,427.49L527.93,427.41L528.43,427.32L528.92,427.24L529.41,427.15L529.88,427.05L530.34,426.96L530.8,426.86L531.25,426.76L531.68,426.65L532.11,426.55L532.52,426.44L532.93,426.32L533.32,426.21L533.71,426.09L534.08,425.97L534.44,425.84L534.79,425.72L535.12,425.59L535.44,425.45L535.75,425.32L536.05,425.18L536.33,425.04L536.6,424.9L536.87,424.75L537.13,424.61L537.41,424.48L537.73,424.35L538.13,424.26L538.66,424.2L539.37,424.2L540.31,424.28L541.51,424.45L542.98,424.71L544.71,425.08L546.65,425.54L548.75,426.08L550.95,426.7L553.2,427.39L555.46,428.13L557.7,428.91L559.89,429.74L562.04,430.61L564.12,431.51L566.14,432.46L568.09,433.43L569.97,434.44L571.78,435.48L573.52,436.56L575.18,437.66L576.76,438.79L578.27,439.95L579.69,441.13L581.03,442.34L582.28,443.57L583.45,444.82L584.53,446.09L585.51,447.38L586.41,448.68L587.22,450L587.94,451.33L588.56,452.68L589.08,454.03L589.51,455.4L589.85,456.77L590.09,458.14L590.24,459.52L590.28,460.9L590.24,462.28L590.09,463.66L589.85,465.03L589.51,466.4L589.08,467.77L588.56,469.12L587.94,470.47L587.22,471.8L586.41,473.12L585.51,474.42L584.53,475.71L583.45,476.98L582.28,478.23L581.03,479.46L579.69,480.67L578.27,481.85L576.76,483.01L575.18,484.14L573.52,485.24L571.78,486.32L569.97,487.36L568.09,488.37L566.14,489.34L564.12,490.29L562.04,491.19L559.89,492.06L557.7,492.89L555.46,493.67L553.2,494.41L550.95,495.1L548.75,495.72L546.65,496.26L544.71,496.72L542.98,497.09L541.51,497.35L540.31,497.52L539.37,497.6L538.66,497.6L538.13,497.54L537.73,497.45L537.41,497.32L537.13,497.19L536.87,497.05L536.6,496.9L536.33,496.76L536.05,496.62L535.75,496.48L535.44,496.35L535.12,496.21L534.79,496.08L534.44,495.96L534.08,495.83L533.71,495.71L533.32,495.59L532.93,495.48L532.52,495.36L532.11,495.25L531.68,495.15L531.25,495.04L530.8,494.94L530.34,494.84L529.88,494.75L529.41,494.65L528.92,494.56L528.43,494.48L527.93,494.39L527.43,494.31L526.91,494.23L526.39,494.16L525.86,494.08L525.33,494.02L524.79,493.95L524.24,493.88L523.69,493.82L523.13,493.77L522.56,493.71L522,493.66L521.42,493.61L520.84,493.56L520.26,493.52L519.67,493.48L519.08,493.44L518.49,493.4L517.89,493.37L517.3,493.34L516.69,493.31L516.09,493.29L515.48,493.27L514.87,493.25L514.26,493.23L513.65,493.22L513.04,493.21L512.43,493.2L511.81,493.2L511.2,493.2L510.59,493.2L509.97,493.2L509.36,493.21L508.75,493.22L508.14,493.23L507.53,493.25L506.92,493.27L506.31,493.29L505.71,493.31L505.1,493.34L504.51,493.37L503.91,493.4L503.32,493.44L502.73,493.48L502.14,493.52L501.56,493.56L500.98,493.61L500.4,493.66L499.84,493.71L499.27,493.77L498.71,493.82L498.16,493.88L497.61,493.95L497.07,494.02L496.54,494.08L496.01,494.16L495.49,494.23L494.97,494.31L494.47,494.39L493.97,494.48L493.48,494.56L492.99,494.65L492.52,494.75L492.06,494.84L491.6,494.94L491.15,495.04L490.72,495.15L490.29,495.25L489.88,495.36L489.47,495.48L489.08,495.59L488.69,495.71L488.32,495.83L487.96,495.96L487.61,496.08L487.28,496.21L486.96,496.35L486.65,496.48L486.35,496.62L486.07,496.76L485.8,496.9L485.53,497.05L485.27,497.19L484.99,497.32L484.67,497.45L484.27,497.54L483.74,497.6L483.03,497.6L482.09,497.52L480.89,497.35L479.42,497.09L477.69,496.72L475.75,496.26L473.65,495.72L471.45,495.1L469.2,494.41L466.94,493.67L464.7,492.89L462.51,492.06L460.36,491.19L458.28,490.29L456.26,489.34L454.31,488.37L452.43,487.36L450.62,486.32L448.88,485.24L447.22,484.14L445.64,483.01L444.13,481.85L442.71,480.67L441.37,479.46L440.12,478.23L438.95,476.98L437.87,475.71L436.89,474.42L435.99,473.12L435.18,471.8L434.46,470.47L433.84,469.12L433.32,467.77L432.89,466.4L432.55,465.03L432.31,463.66L432.16,462.28L432.12,460.9L432.16,459.52L432.31,458.14L432.55,456.77L432.89,455.4L433.32,454.03L433.84,452.68L434.46,451.33L435.18,450L435.99,448.68L436.89,447.38L437.87,446.09L438.95,444.82L440.12,443.57L441.37,442.34L442.71,441.13L444.13,439.95L445.64,438.79L447.22,437.66L448.88,436.56L450.62,435.48L452.43,434.44L454.31,433.43L456.26,432.46L458.28,431.51L460.36,430.61L462.51,429.74L464.7,428.91L466.94,428.13L469.2,427.39L471.45,426.7L473.65,426.08L475.75,425.54L477.69,425.08L479.42,424.71Z"/></clipPath><path d="M480.89,424.45L482.09,424.28L483.03,424.2L483.74,424.2L484.27,424.26L484.67,424.35L484.99,424.48L485.27,424.61L485.53,424.75L485.8,424.9L486.07,425.04L486.35,425.18L486.65,425.32L486.96,425.45L487.28,425.59L487.61,425.72L487.96,425.84L488.32,425.97L488.69,426.09L489.08,426.21L489.47,426.32L489.88,426.44L490.29,426.55L490.72,426.65L491.15,426.76L491.6,426.86L492.06,426.96L492.52,427.05L492.99,427.15L493.48,427.24L493.97,427.32L494.47,427.41L494.97,427.49L495.49,427.57L496.01,427.64L496.54,427.72L497.07,427.78L497.61,427.85L498.16,427.92L498.71,427.98L499.27,428.03L499.84,428.09L500.4,428.14L500.98,428.19L501.56,428.24L502.14,428.28L502.73,428.32L503.32,428.36L503.91,428.4L504.51,428.43L505.1,428.46L505.71,428.49L506.31,428.51L506.92,428.53L507.53,428.55L508.14,428.57L508.75,428.58L509.36,428.59L509.97,428.6L510.59,428.6L511.2,428.6L511.81,428.6L512.43,428.6L513.04,428.59L513.65,428.58L514.26,428.57L514.87,428.55L515.48,428.53L516.09,428.51L516.69,428.49L517.3,428.46L517.89,428.43L518.49,428.4L519.08,428.36L519.67,428.32L520.26,428.28L520.84,428.24L521.42,428.19L522,428.14L522.56,428.09L523.13,428.03L523.69,427.98L524.24,427.92L524.79,427.85L525.33,427.78L525.86,427.72L526.39,427.64L526.91,427.57L527.43,427.49L527.93,427.41L528.43,427.32L528.92,427.24L529.41,427.15L529.88,427.05L530.34,426.96L530.8,426.86L531.25,426.76L531.68,426.65L532.11,426.55L532.52,426.44L532.93,426.32L533.32,426.21L533.71,426.09L534.08,425.97L534.44,425.84L534.79,425.72L535.12,425.59L535.44,425.45L535.75,425.32L536.05,425.18L536.33,425.04L536.6,424.9L536.87,424.75L537.13,424.61L537.41,424.48L537.73,424.35L538.13,424.26L538.66,424.2L539.37,424.2L540.31,424.28L541.51,424.45L542.98,424.71L544.71,425.08L546.65,425.54L548.75,426.08L550.95,426.7L553.2,427.39L555.46,428.13L557.7,428.91L559.89,429.74L562.04,430.61L564.12,431.51L566.14,432.46L568.09,433.43L569.97,434.44L571.78,435.48L573.52,436.56L575.18,437.66L576.76,438.79L578.27,439.95L579.69,441.13L581.03,442.34L582.28,443.57L583.45,444.82L584.53,446.09L585.51,447.38L586.41,448.68L587.22,450L587.94,451.33L588.56,452.68L589.08,454.03L589.51,455.4L589.85,456.77L590.09,458.14L590.24,459.52L590.28,460.9L590.24,462.28L590.09,463.66L589.85,465.03L589.51,466.4L589.08,467.77L588.56,469.12L587.94,470.47L587.22,471.8L586.41,473.12L585.51,474.42L584.53,475.71L583.45,476.98L582.28,478.23L581.03,479.46L579.69,480.67L578.27,481.85L576.76,483.01L575.18,484.14L573.52,485.24L571.78,486.32L569.97,487.36L568.09,488.37L566.14,489.34L564.12,490.29L562.04,491.19L559.89,492.06L557.7,492.89L555.46,493.67L553.2,494.41L550.95,495.1L548.75,495.72L546.65,496.26L544.71,496.72L542.98,497.09L541.51,497.35L540.31,497.52L539.37,497.6L538.66,497.6L538.13,497.54L537.73,497.45L537.41,497.32L537.13,497.19L536.87,497.05L536.6,496.9L536.33,496.76L536.05,496.62L535.75,496.48L535.44,496.35L535.12,496.21L534.79,496.08L534.44,495.96L534.08,495.83L533.71,495.71L533.32,495.59L532.93,495.48L532.52,495.36L532.11,495.25L531.68,495.15L531.25,495.04L530.8,494.94L530.34,494.84L529.88,494.75L529.41,494.65L528.92,494.56L528.43,494.48L527.93,494.39L527.43,494.31L526.91,494.23L526.39,494.16L525.86,494.08L525.33,494.02L524.79,493.95L524.24,493.88L523.69,493.82L523.13,493.77L522.56,493.71L522,493.66L521.42,493.61L520.84,493.56L520.26,493.52L519.67,493.48L519.08,493.44L518.49,493.4L517.89,493.37L517.3,493.34L516.69,493.31L516.09,493.29L515.48,493.27L514.87,493.25L514.26,493.23L513.65,493.22L513.04,493.21L512.43,493.2L511.81,493.2L511.2,493.2L510.59,493.2L509.97,493.2L509.36,493.21L508.75,493.22L508.14,493.23L507.53,493.25L506.92,493.27L506.31,493.29L505.71,493.31L505.1,493.34L504.51,493.37L503.91,493.4L503.32,493.44L502.73,493.48L502.14,493.52L501.56,493.56L500.98,493.61L500.4,493.66L499.84,493.71L499.27,493.77L498.71,493.82L498.16,493.88L497.61,493.95L497.07,494.02L496.54,494.08L496.01,494.16L495.49,494.23L494.97,494.31L494.47,494.39L493.97,494.48L493.48,494.56L492.99,494.65L492.52,494.75L492.06,494.84L491.6,494.94L491.15,495.04L490.72,495.15L490.29,495.25L489.88,495.36L489.47,495.48L489.08,495.59L488.69,495.71L488.32,495.83L487.96,495.96L487.61,496.08L487.28,496.21L486.96,496.35L486.65,496.48L486.35,496.62L486.07,496.76L485.8,496.9L485.53,497.05L485.27,497.19L484.99,497.32L484.67,497.45L484.27,497.54L483.74,497.6L483.03,497.6L482.09,497.52L480.89,497.35L479.42,497.09L477.69,496.72L475.75,496.26L473.65,495.72L471.45,495.1L469.2,494.41L466.94,493.67L464.7,492.89L462.51,492.06L460.36,491.19L458.28,490.29L456.26,489.34L454.31,488.37L452.43,487.36L450.62,486.32L448.88,485.24L447.22,484.14L445.64,483.01L444.13,481.85L442.71,480.67L441.37,479.46L440.12,478.23L438.95,476.98L437.87,475.71L436.89,474.42L435.99,473.12L435.18,471.8L434.46,470.47L433.84,469.12L433.32,467.77L432.89,466.4L432.55,465.03L432.31,463.66L432.16,462.28L432.12,460.9L432.16,459.52L432.31,458.14L432.55,456.77L432.89,455.4L433.32,454.03L433.84,452.68L434.46,451.33L435.18,450L435.99,448.68L436.89,447.38L437.87,446.09L438.95,444.82L440.12,443.57L441.37,442.34L442.71,441.13L444.13,439.95L445.64,438.79L447.22,437.66L448.88,436.56L450.62,435.48L452.43,434.44L454.31,433.43L456.26,432.46L458.28,431.51L460.36,430.61L462.51,429.74L464.7,428.91L466.94,428.13L469.2,427.39L471.45,426.7L473.65,426.08L475.75,425.54L477.69,425.08L479.42,424.71Z" fill="#cfeff9"/><g clip-path="url(#mapclip)"><path d="M449.24,437.51L448.28,438.27L447.35,439.05L446.47,439.83L446.67,440.19L446.88,440.54L447.11,440.9L447.36,441.24L447.63,441.59L448.32,441.5L449.02,441.42L449.72,441.33L450.09,441.58L450.47,441.82L450.86,442.06L451.26,442.3L451.02,442.91L450.8,443.53L450.61,444.14L450.12,445.03L449.69,445.92L449.3,446.82L448.96,447.72L448.63,448.72L448.37,449.72L448.16,450.72L448.01,451.73L447.91,452.73L447.87,453.74L448.65,453.78L449.44,453.82L450.24,453.86L451.04,453.9L450.69,455.06L450.04,456.02L449.43,456.98L448.86,457.95L448.29,458.65L447.74,459.35L447.21,460.06L446.71,460.78L446.24,461.5L446.01,462.31L445.81,463.11L445.65,463.92L445.86,465.13L446.14,466.33L446.5,467.53L446.4,468.39L446.34,469.25L446.33,470.12L446.35,470.98L446.43,471.85L447.12,473.03L447.89,474.21L448.72,475.37L449.06,476.28L449.44,477.19L449.8,478.11L450.22,479.02L450.7,479.93L451.24,480.84L451.02,481.16L450.82,481.48L450.63,481.81L450.45,482.13L450.29,482.46L448.98,481.69L447.7,480.91L446.34,480.02L445.02,479.11L443.74,478.18L442.55,477.13L441.42,476.07L440.35,474.98L439.34,473.88L438.4,472.76L437.91,471.79L437.47,470.81L437.08,469.83L436.74,468.84L436.06,467.66L435.45,466.46L434.9,465.26L434.43,464.04L434.04,462.81L433.72,461.58L433.72,460.45L433.77,459.32L433.9,458.19L433.49,457.73L433.1,457.25L432.73,456.78L432.36,456.86L432,456.94L432.31,455.61L432.71,454.28L433.2,452.97L433.78,451.66L434.44,450.36L435.19,449.08L436.03,447.8L436.96,446.55L437.96,445.31L439.05,444.08L440.23,442.88L441.48,441.7L442.81,440.53L444.22,439.39L445.71,438.28L447.26,437.19L447.75,437.27L448.24,437.36L448.74,437.43L449.24,437.51ZM575.14,437.19L576.69,438.28L578.18,439.39L579.59,440.53L580.92,441.7L582.17,442.88L583.35,444.08L584.44,445.31L585.44,446.55L586.37,447.8L587.21,449.08L587.96,450.36L588.62,451.66L589.2,452.97L589.69,454.28L590.09,455.61L590.4,456.94L589.86,457.13L589.31,457.32L588.75,457.5L588.25,457.69L587.74,457.88L587.23,458.07L586.71,458.25L586.16,457.6L585.59,456.96L584.99,456.33L584.38,455.71L583.74,454.76L583.06,453.83L582.33,452.91L581.56,451.99L581.04,450.9L580.45,449.81L579.8,448.74L579.09,447.67L578.76,446.71L578.38,445.76L577.94,444.81L577.45,443.86L577.18,443.21L576.89,442.56L576.56,441.91L575.88,440.97L575.13,440.05L574.32,439.13L573.45,438.22L573.81,438.02L574.16,437.81L574.49,437.61L574.82,437.4L575.14,437.19ZM449.49,470.97L449.62,470.21L449.79,469.45L450,468.69L450.24,467.94L450.75,468.8L451.29,469.65L451.52,470.62L451.8,471.59L452.12,472.56L452.5,473.52L452.93,474.48L453.41,475.43L452.86,475.49L452.33,475.55L451.52,474.42L450.77,473.28L450.1,472.13L449.49,470.97ZM463.55,429.28L464.3,429.19L465.04,429.11L465.18,429.19L465.93,429.1L466.67,429.01L468.19,428.33L469.76,427.68L469.54,427.53L469.32,427.38L470.44,426.97L471.58,426.58L472.92,426.36L474.27,426.14L475.62,425.92L477.23,425.6L478.85,425.29L480.48,424.99L482.11,424.7L483.43,424.49L484.76,424.28L486.08,424.08L487.41,423.88L487.54,423.98L487.67,424.07L487.81,424.16L487.95,424.25L488.1,424.34L488.26,424.43L488.42,424.52L488.59,424.61L488.76,424.69L488.94,424.78L489.12,424.86L489.31,424.94L489.51,425.02L489.71,425.11L489.92,425.18L490.13,425.26L490.34,425.34L490.56,425.42L490.79,425.49L491.02,425.56L491.25,425.64L491.49,425.71L491.74,425.78L491.99,425.85L492.24,425.91L492.5,425.98L492.76,426.05L493.03,426.11L493.3,426.17L493.57,426.24L493.85,426.3L494.13,426.36L494.42,426.41L494.7,426.47L495,426.53L495.29,426.58L495.59,426.64L495.9,426.69L496.2,426.74L496.51,426.79L496.82,426.84L497.14,426.89L497.46,426.93L497.78,426.98L498.11,427.02L498.43,427.07L498.76,427.11L499.09,427.15L499.43,427.19L499.77,427.23L500.11,427.26L500.45,427.3L500.79,427.33L501.14,427.37L501.49,427.4L501.84,427.43L502.19,427.46L502.54,427.49L502.9,427.51L503.25,427.54L503.61,427.57L503.97,427.59L504.34,427.61L504.7,427.63L505.06,427.65L505.43,427.67L505.8,427.69L506.16,427.71L506.53,427.72L506.9,427.74L507.27,427.75L507.65,427.76L508.02,427.77L508.39,427.78L508.76,427.79L509.14,427.8L509.51,427.8L509.89,427.81L510.26,427.81L510.64,427.81L511.01,427.82L511.39,427.82L511.76,427.81L512.14,427.81L512.51,427.81L512.64,428.61L512.75,429.42L512.87,430.24L512.53,430.45L512.18,430.65L511.75,430.66L511.32,430.66L510.89,430.66L510.46,430.66L510.18,431.07L509.89,431.49L509.44,431.73L508.98,431.98L508.51,432.23L508.02,432.48L507.52,432.73L507.05,432.61L506.59,432.5L506.13,432.38L505.69,432.26L505.47,432.9L505.26,433.54L504.78,434.11L504.28,434.68L503.77,435.25L503.19,435.68L502.6,436.11L501.99,436.54L502.19,435.83L502.39,435.12L502.62,434.42L502.85,433.73L503.1,433.04L502.62,433.03L502.15,433.01L501.67,432.99L501.16,432.97L500.65,432.94L500.14,432.92L499.63,432.89L499.13,432.87L498.47,433.38L497.81,433.91L497.15,434.43L496.47,434.96L496.7,435.28L496.95,435.59L497.2,435.91L496.76,436.49L496.31,437.09L495.88,437.68L495.19,438.11L494.51,438.55L493.81,438.98L493.11,439.42L492.41,439.55L491.71,439.67L491.01,439.8L490.52,440.54L490.04,441.28L489.58,442.03L489.13,442.78L488.69,443.54L488.72,442.9L488.77,442.25L488.83,441.61L488.58,441.36L488.32,441.1L487.91,440.92L487.5,440.74L487.09,440.55L486.42,441L485.75,441.45L485.08,441.91L485.5,442.09L485.93,442.28L486.37,442.46L485.71,442.92L485.06,443.38L485.09,444.12L485.16,444.87L484.62,445.59L484.09,446.31L483.36,447.03L482.64,447.76L481.93,448.49L481.22,449.22L480.36,449.44L479.51,449.67L478.65,449.89L477.79,450.12L477.14,450.27L476.5,450.42L475.85,450.57L476.07,451.26L476.31,451.96L476.57,452.65L476.31,453.67L476.09,454.7L475.53,455.21L474.99,455.71L474.44,456.22L473.84,455.69L473.25,455.16L472.91,454.63L472.57,454.1L472.37,455.01L472.2,455.93L472.06,456.84L471.95,457.76L472.34,458.46L472.75,459.16L473.18,459.86L472.7,460.38L472.26,459.68L471.84,458.98L471.44,458.27L471.06,457.48L470.71,456.69L470.89,455.64L471.11,454.59L471.36,453.55L471.65,452.51L470.77,452.48L469.89,452.45L469.89,451.57L469.92,450.69L469.99,449.81L469.68,449.53L469.37,449.25L468.62,449.48L467.87,449.71L467.01,450.31L466.15,450.92L465.31,451.53L464.47,452.14L463.65,452.76L463.36,453.66L463.11,454.56L462.9,455.46L462.13,455.99L461.37,456.52L461.22,455.52L461.12,454.53L461.06,453.54L461.05,452.54L461.09,451.55L460.98,450.8L460.9,450.06L460.86,449.31L460.84,448.57L460.86,447.82L460.91,447.08L460.27,447.02L459.63,446.97L458.99,446.91L458.35,446.86L457.72,446.8L457.1,446.74L457.11,447.32L457.14,447.91L457.2,448.49L456.39,449.19L455.6,449.9L454.83,450.62L453.99,450.95L453.15,451.29L452.33,451.62L451.45,452.01L450.58,452.4L449.72,452.79L448.86,453.19L448.08,453.15L448.15,452.18L448.27,451.22L448.44,450.26L448.66,449.3L448.94,448.33L449.19,447.49L449.48,446.65L449.81,445.81L450.19,444.98L450.61,444.14L451.23,443.27L451.89,442.41L452.62,441.88L453.37,441.36L454.43,440.58L455.52,439.8L455.76,439.19L456.04,438.58L456.35,437.97L456.7,437.36L457.08,436.76L456.31,436.91L455.55,437.07L454.53,437.53L453.53,437.99L452.53,438.45L453,437.85L453.51,437.25L454.04,436.65L454.61,436.06L453.56,436.51L453.73,436.17L453.91,435.84L454.46,435.22L455.04,434.61L455.66,434L455.26,433.84L454.87,433.68L454.24,433.7L453.61,433.73L452.98,433.76L454.52,432.95L456.11,432.17L457.73,431.42L459.4,430.68L461.11,429.97L462.33,429.62L463.55,429.28ZM567.53,433.68L566.68,433.14L565.8,432.61L564.91,432.4L564.03,432.19L563.13,431.99L562.9,431.64L562.64,431.28L562.22,430.84L561.77,430.4L561.29,429.97L563,430.68L564.67,431.42L566.29,432.17L567.88,432.95L569.42,433.76L570.47,434.53L571.47,435.31L572.42,436.1L572.89,436.78L573.32,437.46L573.7,438.14L573.12,438.06L572.53,437.97L571.94,437.89L570.37,436.81L568.72,435.76L567,434.74L567.15,434.48L567.29,434.21L567.42,433.94L567.53,433.68ZM559.07,430.19L558.69,429.9L558.3,429.6L557.62,429.47L556.95,429.34L555.79,428.97L554.63,428.61L553.59,428.17L552.52,427.75L553.26,427.83L554.01,427.91L555.2,428.26L556.38,428.62L557.68,428.91L558.98,429.2L560.01,429.66L561.01,430.14L561.06,430.37L561.1,430.61L561.12,430.84L561.13,431.07L559.07,430.19ZM555.45,429.16L555.73,429.01L557.34,429.63L558.92,430.27L558.6,430.42L558.28,430.58L556.89,429.86L555.45,429.16ZM488.69,444.52L489.51,444.06L490.32,443.61L491.04,443.39L491.74,443.17L492.54,442.72L493.34,442.27L493.73,441.65L494.13,441.04L494.53,440.42L495.04,439.74L495.54,439.06L495.96,439.23L496.39,439.4L496.82,439.57L496.16,439.78L495.49,439.99L495.1,440.6L494.71,441.22L494.32,441.83L493.94,442.45L493.57,443.08L493.2,443.7L492.45,443.84L491.7,443.98L490.95,444.11L490.33,444.09L489.71,444.07L489,444.77L488.3,445.48L488.69,444.52ZM482.71,451.78L482.82,452.63L482.95,453.47L483.11,454.31L483.22,455.07L483.34,455.83L483.49,456.59L483.65,457.36L483.13,457.86L482.44,457.6L481.76,457.34L481.74,456.45L481.74,455.56L481.76,454.67L481.81,453.79L481.68,453.28L481.56,452.77L481.81,451.76L482.71,451.78ZM476.43,459.87L477.07,459.35L477.72,458.84L478.38,458.33L478.89,457.82L479.41,457.32L479.83,457.83L480.26,458.35L480.06,459.03L479.88,459.71L479.7,460.39L479.39,461.24L479.09,462.1L478.82,462.95L477.88,462.96L477.24,462.62L476.6,462.28L475.96,461.93L475.79,461.24L475.64,460.55L475.5,459.86L476.43,459.87ZM470.48,458.79L470.96,459.55L471.45,460.3L471.97,461.05L472.51,461.8L473.07,462.54L473.65,463.28L474.25,464.02L473.76,463.76L473.27,463.51L472.61,462.82L471.96,462.12L471.32,461.43L470.71,460.72L470.11,460.02L469.53,459.31L469.34,458.78L469.16,458.25L469.82,458.52L470.48,458.79ZM475.17,464.01L475.88,464.13L476.59,464.25L477.3,464.38L478.01,464.5L478.07,465.01L477.22,464.92L476.37,464.82L475.53,464.73L474.68,464.64L473.84,464.54L474.5,464.28L475.17,464.01ZM480.65,460.39L481.44,460.39L482.23,460.39L483.02,460.39L482.38,460.73L481.75,461.07L481.12,461.41L481.45,462.09L481.79,462.77L482.15,463.44L481.2,463.45L480.26,463.45L480.33,462.69L480.42,461.92L480.53,461.16L480.65,460.39ZM487.82,462.41L488.78,462.4L489.74,462.4L490.71,462.4L491.56,462.77L492.42,463.14L493.28,463.51L494.15,463.88L494.5,464.54L494.87,465.2L495.23,465.86L494.51,465.86L493.79,465.87L492.98,465.71L492.17,465.55L491.36,465.39L490.7,465.23L490.05,465.06L489.4,464.9L488.71,464.24L488.03,463.58L487.36,462.91L486.86,462.41L486.37,461.91L485.88,461.4L486.52,461.74L487.17,462.07L487.82,462.41ZM480.73,471.08L481.28,470.9L481.83,470.71L482.39,470.53L482.71,470.02L483.05,469.51L483.4,468.99L483.76,468.48L484.12,467.97L484.72,467.8L485.31,467.62L485.91,467.44L486.3,466.94L486.71,466.43L487.51,466.59L488.32,466.75L489.13,466.9L489,467.65L488.87,468.4L489.66,468.89L490.44,469.37L491.37,469.36L491.22,468.37L491.09,467.38L491.26,466.88L491.45,466.38L492,467.04L492.55,467.69L493.1,468.35L493.35,469L493.6,469.66L493.86,470.31L494.56,470.79L495.25,471.27L495.95,471.75L496.52,472.39L497.09,473.03L497.65,473.66L497.84,474.63L498.03,475.58L498.25,476.54L498.01,477.34L497.8,478.13L497.61,478.93L497.15,479.41L496.7,479.89L495.97,479.8L495.23,479.7L494.48,479.61L493.74,479.51L493.06,478.82L492.37,478.12L491.64,477.67L490.91,477.21L490.17,476.75L489.41,476.61L488.64,476.47L487.88,476.33L487.37,476.84L486.89,477.35L486.43,477.86L485.88,478.01L485.34,478.16L484.79,478.31L484.26,478.46L483.53,478.24L482.79,478.03L482.29,477.26L481.81,476.48L481.35,475.7L480.91,474.91L480.49,474.12L480.09,473.13L479.73,472.13L480.22,471.6L480.73,471.08ZM497.42,480.81L497.4,481.28L497.38,481.75L497.01,481.76L496.63,481.3L496.26,480.85L496.84,480.83L497.42,480.81ZM508.31,478.77L508.73,479L509.15,479.23L508.77,479.69L508.4,480.16L508.03,480.62L507.62,480.39L507.2,480.17L507.56,479.7L507.93,479.23L507.46,478.54L506.98,477.84L507.65,478.3L508.31,478.77ZM507.64,480.62L507.29,481.09L506.96,481.55L506.63,482.01L506.32,482.47L506.02,482.93L505.28,482.94L505.38,482.48L505.49,482.02L505.93,481.56L506.38,481.1L506.85,480.63L507.64,480.62ZM462.9,455.46L463.22,456.01L463.56,456.56L463.25,457.1L462.95,457.64L462.51,457.63L462.68,456.54L462.9,455.46ZM483.33,448.28L483.76,448.3L483.29,449.03L482.83,449.77L482.38,449.76L482.85,449.02L483.33,448.28ZM512.89,427.8L513.26,427.8L513.63,427.79L514,427.78L514.36,427.77L514.73,427.76L515.1,427.75L515.47,427.74L515.83,427.72L516.2,427.71L516.56,427.69L516.92,427.68L517.28,427.66L517.64,427.64L518,427.62L518.36,427.59L518.72,427.57L519.07,427.55L519.43,427.52L519.78,427.49L520.13,427.47L520.48,427.44L520.82,427.41L521.17,427.37L521.51,427.34L521.85,427.31L522.19,427.27L522.53,427.24L522.86,427.2L523.19,427.16L523.52,427.12L523.85,427.08L524.17,427.04L524.49,427L524.81,426.95L525.13,426.91L525.44,426.86L525.75,426.81L526.06,426.76L526.36,426.71L526.66,426.66L526.96,426.61L527.25,426.56L528.34,427.11L529.39,427.68L530.4,428.26L531.38,428.86L531.77,429.3L532.12,429.74L532.48,430.18L532.81,430.63L533.1,431.08L533.82,431.48L534.53,431.89L535.35,432.16L536.17,432.43L537.01,432.7L537.84,432.97L538.88,433.34L539.93,433.72L540.98,434.1L541.7,434.26L542.42,434.43L541.79,433.81L541.13,433.2L540.44,432.6L539.66,432.19L538.87,431.79L537.49,430.95L536.08,430.14L536.56,430.16L537.05,430.18L537.55,430.2L538.04,430.22L538.53,430.23L540.03,431.05L540.16,430.84L540.27,430.64L540.37,430.43L541.48,430.77L542.59,431.12L543.97,431.71L545.35,432.3L546.42,432.67L547.49,433.05L548.56,433.43L548.71,433.79L548.84,434.16L548.95,434.52L548.4,434.61L547.86,434.71L547.3,434.8L547.36,435.16L547.39,435.52L547.41,435.88L547.9,435.81L548.39,435.74L548.87,435.67L549.67,435.92L550.48,436.17L551.29,436.42L550.85,436.49L550.4,436.56L550.7,437.08L550.98,437.6L550.35,437.68L549.72,437.76L550.8,438.72L550.7,439.1L550.59,439.47L550.47,439.85L550.83,440.62L551.15,441.39L552,442.39L552.04,443.1L552.04,443.82L552.01,444.53L552.69,445.55L553.32,446.57L553.91,447.6L553.36,447.37L552.81,447.14L552.16,446.38L551.5,445.63L550.94,445.4L550.38,445.18L549.59,445.23L548.79,445.28L548.17,445.4L547.55,445.53L546.92,445.65L546.65,446.31L546.35,446.97L546.75,447.81L547.12,448.65L547.48,449.5L548.17,450.16L548.86,450.83L549.53,451.5L550.1,451.22L550.67,450.94L551.12,450.39L551.56,449.85L551.9,450.71L552.22,451.58L552.51,452.45L553.15,452.61L553.79,452.76L554.42,452.92L554.78,453.62L555.11,454.32L555.43,455.02L556.1,455.36L556.76,455.71L557.42,456.05L557.91,456.31L558.4,456.57L557.74,456.58L557.07,456.6L556.41,456.61L555.74,456.62L555.2,456.1L554.65,455.57L554.1,455.05L553.53,454.54L552.96,454.02L552.27,453.69L551.59,453.36L550.9,453.03L550.11,452.88L549.32,452.73L548.53,452.57L547.69,452.18L546.86,451.8L546.02,451.41L545.18,451.02L544.34,450.64L543.86,449.89L543.37,449.14L542.5,449.17L541.62,449.2L540.84,448.47L540.05,447.75L539.25,447.02L538.45,446.31L537.64,445.59L536.83,444.89L536.06,444.42L535.29,443.97L534.52,443.51L533.82,442.69L533.1,441.87L532.38,441.06L531.65,440.26L531.13,439.34L530.57,438.42L530,437.51L529.28,437.17L528.57,436.84L527.87,436.51L527.18,436.17L526.5,435.84L525.78,435.33L525.06,434.83L524.36,434.32L523.67,433.82L522.99,433.32L522.42,433.17L521.86,433.02L521.3,432.88L520.76,432.72L520.22,432.57L519.75,432.59L519.29,432.61L518.82,432.63L518.73,433.06L518.61,433.5L518.48,433.94L517.93,433.81L517.38,433.68L516.84,433.55L516.37,433.27L515.9,432.99L515.45,432.72L514.99,432.21L514.55,431.71L514.13,431.22L513.72,430.72L513.34,430.23L513.2,429.41L513.04,428.6L512.89,427.8ZM534.45,424.25L535.11,424.52L535.75,424.79L536.36,425.08L536.95,425.37L537.51,425.66L538.05,425.96L538.76,426.3L539.44,426.64L540.1,426.98L540.73,427.34L541.34,427.7L542.5,428.24L543.63,428.8L544.71,429.37L543.97,429.26L543.24,429.14L542.51,429.02L541.79,428.9L540.44,428.42L539.08,427.95L537.7,427.49L536.22,426.97L534.7,426.46L533.17,425.97L531.61,425.49L531.84,425.42L532.06,425.34L532.27,425.26L532.48,425.18L532.69,425.11L532.89,425.02L533.09,424.94L533.28,424.86L533.46,424.78L533.64,424.69L533.81,424.61L533.98,424.52L534.14,424.43L534.3,424.34L534.45,424.25ZM541.5,426.04L541.54,425.9L541.58,425.77L541.6,425.63L541.62,425.49L542.6,425.67L543.57,425.85L544,426.11L544.4,426.38L544.78,426.65L544.44,426.67L544.1,426.69L543.76,426.71L543.08,426.6L542.41,426.49L541.96,426.26L541.5,426.04ZM554.45,448.64L555.27,449L556.08,449.36L556.89,449.72L557.7,450.09L556.86,450.13L556.02,450.17L555.31,449.85L554.59,449.53L553.87,449.21L553.24,449.24L552.6,449.27L553.23,449.06L553.84,448.85L554.45,448.64ZM560.02,450.51L560.55,450.76L560.04,450.88L559.52,451L559,451.11L558.16,451.15L558.78,450.94L559.4,450.73L560.02,450.51ZM560.1,454.35L560.79,454.46L561.47,454.58L562.15,454.7L562.82,454.81L563.58,454.97L564.34,455.13L565.09,455.3L565.82,456.03L566.54,456.76L567.23,457.5L567.96,457.68L568.69,457.85L569.41,458.03L569.79,458.98L570.14,459.94L570.44,460.9L571.06,461.19L571.68,461.48L572.29,461.78L572.89,462.07L573.6,462.43L574.31,462.8L575,463.17L575.68,463.54L576.35,463.91L576.14,465.12L575.86,466.32L575.12,467.09L574.34,467.85L573.54,468.61L573.15,469.58L572.72,470.56L572.24,471.52L571.57,472.27L570.87,473.01L570.15,473.74L569.41,474.07L568.67,474.4L567.92,474.72L566.98,475.22L566.03,475.71L565.23,476.51L564.4,477.31L563.48,477.93L562.55,478.56L561.6,479.17L560.64,479.78L560.06,479.71L559.48,479.64L558.9,479.57L558.34,480.36L557.74,481.15L556.83,481.41L555.93,481.68L555.02,481.94L553.99,482.37L552.97,482.8L552.58,483.3L552.17,483.81L551.29,484.25L550.4,484.68L549.5,485.11L549.05,485.6L548.58,486.09L547.66,486.5L546.75,486.92L545.83,487.33L545.17,487.77L544.3,488.46L543.39,489.14L543.29,488.94L543.18,488.73L543.05,488.53L543.66,487.9L544.23,487.27L544.75,486.63L545.73,485.86L546.68,485.09L547.59,484.31L548.68,483.55L549.76,482.77L550.81,481.99L551.73,481.14L552.62,480.28L553.47,479.41L554.29,478.54L555.08,477.7L555.83,476.85L556.56,476L557.19,475.13L557.78,474.26L558.35,473.39L558.87,472.51L559.37,471.62L559.83,470.73L559.42,470.16L558.99,469.6L558.54,469.03L558.06,468.47L557.97,467.66L557.85,466.84L557.7,466.03L557.52,465.21L557.2,464.4L556.85,463.59L557.06,462.87L557.26,462.16L557.43,461.44L557.43,460.36L557.86,459.82L558.28,459.28L558.37,458.56L558.44,457.83L558.49,457.11L558.4,456.57L558.85,456.02L559.29,455.46L559.7,454.91L560.1,454.35ZM484.93,497.39L484.9,497.26L484.87,497.13L484.85,497L484.84,496.87L484.84,496.73L484.85,496.6L484.87,496.47L484.89,496.34L484.92,496.21L484.97,496.08L485.01,495.95L485.02,495.8L485.04,495.65L485.07,495.5L485.11,495.35L485.16,495.2L485.22,495.05L485.29,494.9L485.37,494.75L485.76,494.71L486.16,494.68L486.56,494.64L486.96,494.61L487.36,494.58L487.76,494.55L488.16,494.52L488.56,494.49L488.68,494.37L488.8,494.25L488.93,494.12L489.07,494L489.22,493.88L489.37,493.76L489.6,493.67L489.83,493.58L490.07,493.49L490.31,493.4L490.55,493.32L490.81,493.23L491.06,493.15L491.32,493.06L491.59,492.98L491.86,492.9L492.14,492.81L492.42,492.73L492.82,492.68L493.23,492.62L493.65,492.57L494.06,492.51L494.48,492.46L494.88,492.46L495.28,492.45L495.68,492.44L496.08,492.44L496.48,492.43L496.87,492.43L497.24,492.37L497.62,492.3L498,492.24L498.38,492.18L498.77,492.12L499.16,492.06L499.56,492L499.96,491.95L500.4,491.99L500.83,492.03L501.26,492.07L501.7,492.12L502.12,492.16L502.55,492.21L503.02,492.32L503.48,492.44L503.94,492.55L504.38,492.67L504.82,492.79L505.26,492.91L505.68,493.03L506.1,493.15L506.5,493.27L506.9,493.39L507.29,493.51L507.67,493.63L508.06,493.67L508.44,493.72L508.81,493.76L509.19,493.8L509.55,493.85L509.92,493.89L510.28,493.94L510.64,493.99L510.68,494.58L510.72,495.17L510.4,495.17L510.08,495.17L509.76,495.18L509.45,495.18L509.13,495.19L508.81,495.19L508.5,495.2L508.18,495.21L507.86,495.22L507.55,495.23L507.24,495.25L506.92,495.26L506.61,495.28L506.3,495.29L505.99,495.31L505.68,495.33L505.37,495.35L505.07,495.37L504.76,495.39L504.46,495.41L504.15,495.43L503.85,495.46L503.55,495.48L503.25,495.51L502.96,495.54L502.66,495.57L502.37,495.59L502.08,495.63L501.79,495.66L501.51,495.69L501.22,495.72L500.94,495.76L500.66,495.79L500.38,495.83L500.1,495.87L499.83,495.91L499.56,495.95L499.29,495.99L499.03,496.03L498.77,496.07L498.51,496.12L498.25,496.16L497.99,496.21L497.74,496.26L497.49,496.31L497.25,496.35L497.01,496.41L496.77,496.46L496.53,496.51L496.3,496.56L496.07,496.62L495.85,496.67L495.63,496.73L495.41,496.78L495.2,496.84L494.99,496.9L494.78,496.96L494.58,497.02L494.38,497.08L494.18,497.15L493.99,497.21L493.81,497.28L493.63,497.34L493.45,497.41L493.27,497.48L493.11,497.54L492.94,497.61L492.78,497.68L492.63,497.76L492.48,497.83L492.33,497.9L492.19,497.97L492.05,498.05L491.92,498.12L491.8,498.2L491.68,498.28L491.56,498.35L491.45,498.43L491.35,498.51L491.25,498.59L491.15,498.67L491.06,498.75L490.98,498.84L490.9,498.92L490.83,499L490.76,499.09L490.7,499.17L490.65,499.26L490.6,499.34L488.56,499.06L486.54,498.74L484.53,498.4L484.55,498.29L484.57,498.17L484.6,498.06L484.64,497.95L484.68,497.83L484.73,497.72L484.79,497.61L484.86,497.5L484.93,497.39ZM514.38,494.03L514.72,494.06L515.06,494.1L515.39,494.13L515.72,494.17L516.05,494.21L516.37,494.25L516.69,494.29L517.01,494.33L517.33,494.37L517.64,494.42L517.95,494.46L518.25,494.51L518.55,494.55L518.85,494.6L519.15,494.65L519.44,494.7L519.78,494.7L520.13,494.7L520.47,494.71L520.81,494.71L521.16,494.72L521.5,494.73L521.85,494.74L522.19,494.75L522.54,494.76L522.88,494.77L523.23,494.78L523.57,494.8L523.91,494.81L524.26,494.83L524.6,494.85L524.94,494.87L525.3,494.88L525.66,494.9L526.02,494.92L526.37,494.94L526.73,494.96L527.09,494.98L527.44,495.01L527.8,495.03L528.15,495.06L528.5,495.09L528.85,495.12L529.2,495.15L529.55,495.18L530.36,495L531.19,494.82L532.02,494.63L532.86,494.45L533.71,494.27L534.56,494.09L535.9,493.68L537.25,493.27L537.98,493.15L538.71,493.03L539.45,492.91L538.48,493.28L537.5,493.63L537.16,493.97L536.8,494.3L536.41,494.63L535.99,494.95L535.54,495.27L535.06,495.59L534.56,495.89L534.03,496.19L533.47,496.49L532.89,496.78L533.17,496.82L533.45,496.87L533.72,496.92L533.99,496.97L534.26,497.02L534.53,497.08L534.79,497.13L535.05,497.19L535.31,497.25L535.56,497.31L535.81,497.37L536,497.44L536.19,497.52L536.37,497.59L536.54,497.67L536.72,497.75L536.88,497.83L537.05,497.91L537.2,498L537.36,498.08L537.5,498.17L537.65,498.25L537.76,498.33L537.87,498.4L535.86,498.74L533.84,499.06L531.8,499.34L531.75,499.26L531.7,499.17L531.64,499.09L531.57,499L531.5,498.92L531.42,498.84L531.34,498.75L531.25,498.67L531.15,498.59L531.05,498.51L530.95,498.43L530.84,498.35L530.72,498.28L530.6,498.2L530.48,498.12L530.34,498.05L530.21,497.97L530.07,497.9L529.92,497.83L529.77,497.76L529.62,497.68L529.46,497.61L529.29,497.54L529.12,497.48L528.95,497.41L528.77,497.34L528.59,497.28L528.41,497.21L528.22,497.15L528.02,497.08L527.82,497.02L527.62,496.96L527.41,496.9L527.2,496.84L526.99,496.78L526.77,496.73L526.55,496.67L526.32,496.62L526.1,496.56L525.86,496.51L525.63,496.46L525.39,496.4L525.15,496.35L524.9,496.31L524.66,496.26L524.4,496.21L524.15,496.16L523.89,496.12L523.63,496.07L523.37,496.03L523.1,495.99L522.84,495.95L522.57,495.91L522.29,495.87L522.02,495.83L521.74,495.79L521.46,495.76L521.18,495.72L520.89,495.69L520.6,495.66L520.32,495.63L520.03,495.59L519.73,495.57L519.44,495.54L519.14,495.51L518.84,495.48L518.54,495.46L518.24,495.43L517.94,495.41L517.64,495.39L517.33,495.37L517.02,495.35L516.72,495.33L516.41,495.31L516.1,495.29L515.79,495.28L515.47,495.26L515.16,495.25L514.85,495.23L514.53,495.22L514.22,495.21L513.9,495.2L513.58,495.19L513.27,495.19L512.95,495.18L512.63,495.18L512.31,495.17L511.99,495.17L511.68,495.17L511.36,495.16L511.04,495.16L510.72,495.17L510.68,494.58L510.64,493.99L511.01,493.98L511.39,493.98L511.76,493.99L512.14,493.99L512.51,493.99L512.89,494L513.26,494L513.64,494.01L514.01,494.02L514.38,494.03ZM503.29,471.49L502.8,471.17L502.32,470.85L502.31,470.71L502.8,471.1L503.29,471.49ZM496.58,437.71L497.04,436.81L497.53,435.92L497.91,435.4L498.3,434.87L498.11,435.5L497.62,436.38L497.15,437.27L496.71,438.18L496.13,438.62L496.58,437.71ZM476.96,450.86L477.72,450.58L478,450.84L477.46,451.54L476.8,451.37L476.96,450.86Z" fill="#ffd0d0" stroke="#1a0c0c" stroke-width="0.75" stroke-linejoin="round"/><path d="M467.06,435.09L467.09,435.41L467.14,435.73L466.3,436.38L465.5,437.05L464.73,437.72L463.78,438.36L462.86,439.02L461.96,439.68L461.19,439.86L460.43,440.04L461.17,439.24L461.96,438.46L462.64,437.65L463.38,436.85L464.8,435.88L465.93,435.48L467.06,435.09ZM460.03,434.69L461,434.43L461.98,434.17L461.87,434.5L461.78,434.83L461.7,435.15L461.88,435.37L462.07,435.59L461.57,436.14L461.1,436.69L460.66,437.25L460.2,437.15L459.74,437.05L459.29,436.95L458.73,436.93L458.16,436.91L457.6,436.89L457.59,436.54L457.6,436.18L458.79,435.43L460.03,434.69ZM469.7,435.9L468.88,436.49L468.08,437.09L467.62,437.17L467.17,437.24L467.83,436.61L468.52,435.99L469.11,435.95L469.7,435.9ZM541.77,436.43L542.77,436.78L543.78,437.14L543.22,437.2L542.65,437.26L542.19,437.27L541.72,437.28L541.26,437.29L541.44,437.01L541.61,436.72L541.77,436.43ZM543.22,437.46L543.67,437.54L544.11,437.62L544.67,438.34L545.19,439.07L544.89,439.35L544.36,438.72L543.8,438.08L543.22,437.46ZM545.35,437.59L545.82,438.06L546.27,438.54L545.76,438.33L544.95,437.9L544.13,437.46L544.74,437.53L545.35,437.59ZM546.65,439.03L546.9,438.82L547.15,438.6L547.42,438.68L547.11,438.91L546.8,439.13L546.48,439.36L546.65,439.03ZM524.23,429.49L524.8,429.77L525.36,430.06L525.13,430.15L524.9,430.25L524.66,430.34L524.21,430.27L523.75,430.19L523.93,429.96L524.09,429.72L524.23,429.49ZM527.95,430.95L528.44,431.02L528.93,431.09L528.68,431.23L528.43,431.36L528.17,431.5L527.91,431.64L527.54,431.56L527.17,431.48L527.45,431.3L527.71,431.13L527.95,430.95Z" fill="#cfeff9" stroke="#3a2020" stroke-width="0.5"/><path d="M467.31,430.23L467.22,430.52L467.15,430.82L467.09,431.12L467.05,431.41L467.04,431.71L466.99,431.99L466.97,432.27L466.96,432.55L466.96,432.83L466.98,433.11L466.96,433.45L466.97,433.78L467,434.12L467.04,434.45L467.9,434.26L468.77,434.08L469.63,433.89L470.48,433.7L471.34,433.52L472.28,433.26L473.22,433L474.16,432.75L475.1,432.49L475.68,432.5L476.27,432.5L476.85,432.49L477.43,432.49L478.02,432.49L478.27,432.67L478.53,432.86L478.8,433.04L479.08,433.23L479.08,433.59L479.1,433.95L479.14,434.31L479.21,434.68L479.3,435.04L479.4,435.41L480.13,435.32L480.86,435.24L481.58,435.15L482.31,435.07L483.03,434.98L483.74,434.89L484.07,435.09L484.4,435.29L484.75,435.49L485.11,435.69L485.47,435.89L485.85,436.09L486.42,436.14L487,436.19L487.58,436.23L488.16,436.28L488.74,436.32L489.45,435.9L490.15,435.48L490.85,435.06L491.11,435.43L491.39,435.8L491.69,436.18L492.01,436.55L491.95,437.13L491.91,437.72L491.9,438.3L491.91,438.89L491.38,439.82M478.61,436.35L478.79,436.69L479,437.02L479.21,437.36L479.45,437.69L479.7,438.02L480.04,438.36L480.39,438.69L480.76,439.03L481.15,439.36L481.56,439.7L482.28,439.63L483,439.56L483.72,439.48L484.44,439.41L485.22,439.07L486,438.73L486.77,438.4L487.54,438.06L488.3,437.73L488.5,437.03L488.74,436.32M468.9,440.6L468.36,441.37L467.86,442.14L468.05,442.53L468.26,442.91L468.48,443.3L468.27,444.09L468.1,444.89L468.6,445.2L469.12,445.51L469.65,445.81L470.19,446.11L470.99,446.16L471.8,446.21L472.48,446.26L473.16,446.3L473.84,446.33L473.61,447.02L473.41,447.7L473.22,448.39L473.63,448.93L474.06,449.46L474.78,449.49L475.5,449.52L476.23,449.55L476.61,449.69L477,449.84M464.14,437.62L464.32,437.85L464.5,438.08L464.7,438.32L465.31,438.27L465.92,438.22L466.54,438.16L467.15,438.11L467.46,438.31L467.79,438.5L468.12,438.69L468.46,438.88L469.22,438.7L469.98,438.52L470.74,438.34L471.49,438.16L472.13,438.24L472.78,438.32L473.43,438.4L474.28,437.96L475.13,437.53L475.91,437.26L476.68,437L477.46,436.74L478.04,436.55L478.61,436.35M459.83,438.69L460.01,438.94L460.2,439.18L460.4,439.42L460.72,439.63L461.04,439.83L461.37,440.04L461.7,440.24L462.35,440.33L463,440.43L463.66,440.52L464.21,440.59L464.77,440.67L465.33,440.74L465.9,440.81L466.46,440.88L467.04,440.95L467.73,441.02L468.42,441.1M461.04,443.67L460.78,444.22L460.54,444.77L459.87,445.47L459.23,446.17L458.61,446.88M462.43,444.39L463.34,443.91L464.25,443.44L465.17,442.98L465.8,442.48L466.43,441.99L467.43,441.55L468.42,441.1M460.97,447.64L461.68,446.95L462.4,446.26L463.14,445.58L464.03,445.1L464.92,444.62L465.81,444.15L466.4,443.65L467,443.16M468.53,449.21L469,448.52L469.49,447.84L470,447.16L470.48,447.46L470.96,447.75L471,448.54L471.07,449.33L470.63,449.84L470.2,450.35M472.36,450.44L473.23,450.47L473.39,451.26L473.58,452.05L474.17,452.32L474.77,452.6L474.79,453.38L474.83,454.16L474.27,454.66L473.71,455.17M453.1,441.97L453.71,441.86L454.32,441.75L454.94,441.64L456.03,440.97L457.13,440.32L458.26,439.67L458.87,439.78L458.06,440.74L457.31,441.7L456.63,442.67L456,443.65M452.97,443.23L453.4,443.41L453.83,443.6L454.27,443.79L454.72,443.97L455.18,444.15L454.76,445.11L454.41,446.08L454.11,447.04L454.47,447.47L454.86,447.9L455.27,448.33L454.55,448.85L453.85,449.38L453.15,449.92L452.33,450.15L451.51,450.38L450.69,450.62L449.87,450.86M456.32,436.56L456.23,437.01L456.17,437.47L456.13,437.92L456.12,438.37L456.13,438.82L456.17,439.28L456.76,439.39L457.35,439.51L457.95,439.62L458.56,439.73L459.3,439.02L460.07,438.32L460.87,437.62L460.45,437.53L460.03,437.45M465.89,429.57L464.31,430.21L462.78,430.86L462.1,431.01L461.43,431.15L459.93,431.84L458.47,432.54L458.11,432.38L457.75,432.22L457.09,432.37L456.42,432.53L455.54,433.06L454.68,433.59M467.48,430.3L466.1,430.85L464.74,431.41L463.41,431.98L462.37,432.4L461.35,432.83L461.76,432.98L462.17,433.12L461.51,433.66L460.87,434.21L460.67,434.52L460.49,434.83M460.18,432.38L460.56,432.54L460.95,432.69L461.35,432.83L459.99,433.54L458.67,434.27L457.16,434.94L455.67,435.62L455.61,435.98L455.57,436.35L456.34,436.2L457.1,436.05L458.15,435.61L459.2,435.18M470.91,427.31L472.17,427.02L473.44,426.73L475.25,426.25L477.08,425.79L478.39,425.55L479.71,425.32L481.02,425.09L482.33,424.87L482.76,424.88L483.18,424.89L483.6,424.89L484.02,424.9L484.19,425L484.37,425.11L482.38,425.67L480.44,426.26L478.55,426.89L476.7,427.54L475.49,427.85L474.29,428.16L474.05,428.05L473.83,427.95L473.6,427.84M475.65,432.01L477.26,431.16L478.92,430.33L480.64,429.53L482.41,428.75L484.23,427.99L486.11,427.27M483.16,433.29L484.27,432.73L485.39,432.16L486.51,431.61L487.63,431.06L488.76,430.52L489.68,430.15L490.6,429.79L491.51,429.43L492.42,429.07M490.19,432.64L490.96,432.4L491.73,432.16L492.49,431.92L493.23,431.68L493.97,431.44L494.7,431.2L495.42,430.96L496.12,430.73L496.82,430.49L497.5,430.25L498.17,430.01L498.83,429.77M499.77,431.58L500.41,431.33L501.04,431.08L501.65,430.82L502.25,430.57L502.83,430.31L503.4,430.06M442.85,440.5L443.51,440.46L444.17,440.42L444.83,440.38L445.5,440.33L444.14,441.51L442.87,442.7L441.67,443.91L440.56,445.15L440.6,445.51L440.66,445.88L440.98,446.24L441.32,446.6L441.68,446.95L442.05,447.3L442.43,447.64L442.83,447.98L443.24,448.32L443.82,447.74L444.42,447.16L445.33,445.96L446.31,444.78L447.38,443.61L448.51,442.46L449.72,441.33M579.09,447.67L579.76,447.58L580.43,447.48L580.19,446.67L579.92,445.85L579.59,445.03L579.23,444.22L579.2,443.65L579.14,443.08L579.06,442.51L578.95,441.94L578.8,441.37L579.07,441.08L579.31,440.79L579.55,440.5M443.24,448.32L442.48,449.55L441.8,450.78L441.2,452.02L440.67,453.28L440.23,454.54L439.86,455.8L439.12,455.76L438.39,455.73L437.66,455.69L436.93,455.65L437.13,454.55L437.39,453.46L437.72,452.37L437.14,452.32L436.56,452.26L435.99,452.2L435.31,452.13L434.64,452.06L433.97,451.98L433.49,452.29M588.91,452.29L588.63,452.85L588.33,453.4L587.84,453.68L587.35,453.95L586.84,454.21L586.53,454.91L586.18,455.61M439.86,455.8L440.27,456.46L440.71,457.11L441.17,457.76L441.66,458.4L442.43,458.42L443.21,458.43L443.58,457.62L443.99,456.81L444.43,456.01L444.97,455.42L445.53,454.83L446.3,454.46L447.08,454.1L447.87,453.74M435.07,457.56L435.45,458.24L435.85,458.92L436.28,459.58L436.42,460.74L436.63,461.88L436.91,463.03L437.24,464.16L437.98,464.14L438.72,464.11L439.21,465.22L439.76,466.32L440.37,467.42L441.04,468.5L441.27,467.84L441.53,467.19L441.81,466.54L442.12,465.89L442.68,466.08L443.25,466.26L443.81,466.44L444.43,466.56L445.06,466.69L445.68,466.81L446.31,466.93M438.01,472.12L438.62,472.18L439.23,472.24L439.85,472.3L440.47,472.36L441.09,472.42L441.67,472.35L442.25,472.28L442.83,472.21L443.61,472.65L444.41,473.08L445.21,473.5L446.01,473.92L446.83,474.33L447.69,475.5L448.62,476.66M442.75,474.88L443.69,476.09L444.72,477.29L445.82,478.47L446.01,478.09L446.2,477.71L446.41,477.34L446.64,476.97L446.31,476.13L446.03,475.3L445.79,474.46M530.03,437.04L530.71,437L531.38,436.96L532.05,436.91L532.72,436.87L533.38,436.82L534.04,436.78L534.7,436.73L535.36,436.67L536.01,436.62L536.66,436.57L537.3,436.51L537.95,436.45L538.58,436.4L539.22,436.33L539.81,436.4L540.41,436.47L541,436.53L541.6,436.6L542.46,436.85L543.32,437.1L544.19,437.35L545.26,438.02L546.31,438.69L546.82,438.64L547.32,438.59L547.42,438.22L547.52,437.85L547.59,437.49L548.22,437.41L548.85,437.33L548.59,436.82L548.31,436.31L549.2,436.73L550.09,437.16M518.51,428.41L519.11,429.21L519.7,430.03L520.26,430.85L520.8,431.68L521.32,432.52L521.78,432.65L522.24,432.77L522.71,432.9L523.33,433.22L523.97,433.54L524.62,433.86L525.27,434.18L525.94,434.51M536.72,444.64L537.4,444.76L538.09,444.88L538.78,445L539.47,445.12L540.09,445.09L540.71,445.06L541.06,444.92L541.4,444.78L542.05,445.21L542.7,445.65L543.35,446.09L544.1,446.31L544.85,446.53L545.72,447L546.59,447.47M534.37,436.75L533.66,435.93L532.91,435.11L532.14,434.3L531.34,433.51L530.51,432.72L529.65,431.94M531.05,436.98L530.44,436.15L529.8,435.34L529.15,434.53L528.47,433.74L527.76,432.95L527.03,432.17M536.98,436.54L536.18,435.71L535.35,434.9L534.48,434.09L533.59,433.29L532.66,432.51L531.7,431.73M539.22,436.33L538.26,435.43L537.26,434.54L537.18,434.05L537.06,433.57L536.91,433.09L536.73,432.61M521.32,432.52L521.86,432.5L522.4,432.47L522.94,432.44L523.47,432.41L524,432.38L524.53,432.35L525.06,432.31L525.58,432.28L526.11,432.24L526.63,432.2L527.15,432.16L527.67,432.12L528.18,432.08L528.69,432.03L529.2,431.99L529.71,431.94L530.21,431.89L530.71,431.84L531.21,431.79L531.7,431.73M539.02,440.33L539.76,440.27L540.49,440.22L541.22,440.17L541.94,440.11L542.66,440.06M538.38,442.34L539.11,442.3L539.84,442.26L540.57,442.22L541.29,442.17L542.01,442.13L542.72,442.08L543.43,442.03L544.14,441.98L545.01,442.26L545.88,442.54L546.75,442.82M537.93,438.43L538.62,438.37L539.31,438.32L540,438.26L540.68,438.2M550.97,453.29L550.71,452.38L550.41,451.47L551.09,451.5L551.76,451.53L552.29,452.46L552.74,453.24L553.18,454.02M560.16,465.27L560.71,465.83L561.24,466.39L562.1,466.41L562.96,466.44L563.04,466.99L563.1,467.55L563.75,467.76L564.39,467.97L565.03,468.19L565.16,469.04L565.25,469.89L564.77,471L564.23,472.1L564.54,472.69L564.82,473.28L564.51,474.12L564.17,474.95L563.42,475.46L562.66,475.96L561.9,476.46L561.75,477.16L561.58,477.87L561.37,478.56L561.13,479.26M561.77,463.1L561.94,462.28L562.08,461.45L562.2,460.62L562.28,459.8L563.15,459.79L563.71,459.42L564.26,459.04L564.81,458.67L565.42,458.38L566.03,458.09L566.4,458.83L566.74,459.58L567.05,460.33L567.47,460.05L567.88,459.76L568.73,459.76L569.57,459.75L569.74,459.17L569.9,458.6M560.25,470.75L559.99,471.65L559.69,472.56L559.35,473.45L558.82,474.15L558.26,474.85L557.68,475.54L557.06,476.31L556.41,477.08L555.73,477.85L555.03,478.61L554.2,479.48L553.33,480.35L552.43,481.21L551.49,482.07L550.52,482.91L549.51,483.74L548.48,484.56L547.4,485.37L546.38,486.04L545.33,486.71M561.54,466.95L561.38,467.91L561.18,468.86L560.95,469.82L560.67,470.77L560.95,471.34L561.2,471.91L561.44,472.48L561.66,473.05L562.52,472.74L563.38,472.42L564.23,472.1M557.37,462.79L558.14,462.34L558.9,461.89L559.66,461.44L560.38,461.99L561.08,462.54L561.77,463.1L561.25,463.83L560.72,464.55L560.16,465.27M558.77,460.36L559.5,460.17L560.24,459.99L560.96,459.8L561.7,459.8L562.43,459.8L563.15,459.79M560.25,454.89L560.49,455.98L560.69,457.07L561.44,457.24L562.2,457.41L562.95,457.58L563.55,457.29L564.16,457L564.75,456.71L565.34,456.41M562.05,473.08L562.06,473.78L562.04,474.49L561.99,475.19L561.91,475.89L562.48,475.95L563.04,476M488.17,427.79L486.93,428.22L485.69,428.65L484.46,429.09L483.23,429.54L482.67,429.99L482.14,430.45L481.64,430.92L481.17,431.38L480.99,431.72L480.84,432.06L480.7,432.4L480.57,432.78L480.46,433.17L480.37,433.56L480.31,433.95L479.98,434.43L479.68,434.92L479.4,435.41M491.5,427.4L490.86,427.8L490.26,428.21L489.68,428.63L489.02,429.14L488.4,429.65L487.82,430.17L487.28,430.7L486.77,431.24L486.01,431.81L485.27,432.38L484.56,432.97L484.33,433.45L484.14,433.93L483.98,434.41M500,428.12L499.06,428.91L498.16,429.71L497.27,430.23L496.36,430.75L495.45,431.27L494.62,431.65L493.79,432.04L493.05,432.28L492.3,432.52L491.54,432.77L490.71,433.04L489.87,433.32L489.02,433.6L488.16,433.87M497.14,435.45L496.55,435.88L495.96,436.3L495.35,436.73L494.63,436.93L493.89,437.12L493.15,437.32L492.4,437.51L492.2,437.03L492.01,436.55L491.77,436.18L491.55,435.82L491.34,435.45L491.16,435.08M484.63,445.09L483.82,445.31L483.02,445.52L482.21,445.74L481.69,445.63L481.18,445.52L480.67,445.41L480.07,445.47L479.48,445.52L478.89,445.58L478.17,445.88L477.45,446.19L476.72,446.49L476.08,446.63L475.44,446.77L474.8,446.91L474.9,446.14L475.02,445.37L475.17,444.6L475.36,443.83M485.33,442.17L484.44,442.53L483.56,442.9L482.66,443.26L481.87,443.22L481.08,443.17L480.76,442.82L480.45,442.47L480.16,442.11L479.61,442.33L479.06,442.54L478.32,442.75L477.57,442.95L476.93,442.91L476.29,442.87L475.65,442.82M468.95,449.23L468.64,448.68L468.35,448.13L468.08,447.58L467.64,447.37L467.2,447.17L466.76,446.96L466.68,446.41L466.62,445.86L466.58,445.31M460.58,447.61L461.39,446.97L462.21,446.34L463.05,445.71L463.9,445.09L464.55,444.4L465.21,443.73L465.9,443.05L466.92,442.32L467.96,441.6M450.95,442.24L449.83,443.37L448.78,444.51L447.81,445.67L447.28,446.67L446.81,447.68L446.4,448.69L445.69,449.67L445.02,450.66L444.4,451.66L443.91,452.56L443.45,453.47L443.04,454.39L442.67,455.31L442.41,456.34L442.2,457.37L442.05,458.41M435.19,464.91L435.52,464.22L435.87,463.55L436.25,462.88L436.65,462.21L437.08,461.55L437.53,460.9L438.01,460.25L438.51,459.61L439.04,460.26L439.6,460.9L439.71,461.85L439.88,462.81L440.08,463.75L440.33,464.7M432.89,457.82L433.07,456.79L433.31,455.77L433.6,454.75L433.61,453.71L433.67,452.66L433.56,452.12M588.84,452.12L587.98,451.42L587.11,450.73L586.55,450.56L585.99,450.4L585.43,450.24L585.44,451.16L585.4,452.08L585.31,452.99M548.69,445.81L548.15,445.15L547.61,444.49L547.04,443.83L546.61,443L546.14,442.18L545.64,441.35L545,440.72L544.34,440.09L543.67,439.46L542.76,438.86L541.84,438.27L540.92,437.68M545.27,441.38L544.28,440.95L543.29,440.52L542.3,440.09L541.43,439.65L540.57,439.22L539.71,438.79L538.9,438.48L538.08,438.17L537.28,437.86L536.48,437.56L535.8,437.61L535.12,437.66L534.44,437.71M520.05,428.74L520.63,428.98L521.23,429.22L521.84,429.47L522.47,429.71L523.1,429.95L523.75,430.19L524.41,430.49L525.07,430.8L525.75,431.1L526.44,431.4L527.14,431.71L528,432.09L528.88,432.48L529.77,432.86M514.43,431.89L514.84,431.67L515.25,431.45L515.64,431.23L516.01,431.01L516.38,430.92L516.75,430.82L517.11,430.73L517.46,430.63L517.81,430.53L518.3,430.51L518.78,430.49L519.26,430.47L519.74,430.45L520.37,430.74L521.02,431.02L521.69,431.31L522.37,431.6M547.71,436.39L547.68,436.76L547.65,437.12L547.59,437.49L547.34,437.7L547.08,437.9L546.82,438.11M570.44,460.9L569.81,461.19L569.17,461.47L568.53,461.76L567.88,462.04L567.24,462.17L566.59,462.31L565.94,462.45L565.28,462.58L564.63,462.71L563.97,462.85L563.31,462.98L562.64,463.11L561.9,463.28L561.15,463.46L560.4,463.63M558.9,479.57L559.41,478.87L559.89,478.16L560.34,477.45L561.32,476.69L562.29,475.93L563.23,475.16L564.15,474.38L564.99,473.68L565.81,472.98L566.61,472.27M456,443.65L456.16,443.07L456.34,442.48L456.55,441.89L456.78,441.31L457.05,440.72L457.34,440.14L457.5,439.53L457.7,438.93M464.26,435.76L465.6,434.98L466.97,434.22L468.37,433.47L469.54,432.89L470.72,432.31L471.93,431.75L473.11,431.41L474.29,431.06L475.03,430.93L475.77,430.81L476.51,430.68L477.25,430.55M462.03,434.54L463.06,433.88L464.13,433.24L465.23,432.6L466.29,431.96L467.4,431.33L468.54,430.71L470,430.07L471.49,429.46M490.37,430.73L490.43,430.98L490.5,431.23L490.59,431.48L490.7,431.73L491.6,431.36L492.5,430.98L493.39,430.61L494.26,430.24L494.86,430.07L495.46,429.91L496.04,429.74L496.62,429.57M502.39,431.72L502.98,431.46L503.56,431.2L504.13,430.94L504.75,430.54L505.35,430.14L505.93,429.75M471.93,439.85L472.82,439.59L473.71,439.33L474.6,439.06L474.85,439.44L475.12,439.82L475.41,440.2L476.14,440.09L476.87,439.99L477.6,439.88M468.43,436.56L468.54,436.88L468.67,437.19L468.52,437.74L468.39,438.3M534.29,434.83L534.33,434.35L534.34,433.86L534.31,433.38L534.6,433.19L534.88,432.99L535.14,432.8L535.96,433.2L536.78,433.6M531.24,435.08L531.49,434.75L531.72,434.42L531.93,434.09L532.11,433.75L532.28,433.42L532.43,433.09L532.39,432.62L532.31,432.15L532.2,431.68M540.31,433.15L541.17,433.37L542.03,433.6L542.91,433.83L543.57,433.91L544.24,433.99L544.9,434.07L545.35,434L545.8,433.92L546.24,433.85M534.44,428.84L535.54,429.17L536.64,429.5L537.76,429.83L537.84,429.63L537.9,429.43L537.96,429.23M529.35,429.63L529.3,429.32L529.23,429.01L529.13,428.7L529.23,428.53L529.32,428.35L529.4,428.18M527.83,433.02L528.02,432.7L528.2,432.38L528.35,432.06L528.48,431.74L528.6,431.43L528.69,431.11M548.65,442.68L549.02,442.38L549.38,442.09L549.6,441.72L549.8,441.34L549.99,440.97M535.6,441.02L535.87,440.52L536.12,440.02L536.16,439.53L536.19,439.04M561.41,471.92L562.07,471.4L562.73,470.88L563.38,470.36L564.02,469.45L564.63,468.55L565.21,467.63M571.71,466.74L571.83,467.73L571.89,468.71L571.9,469.7L571.21,470.65L570.48,471.58L569.7,472.51M438.76,467.36L439.49,468.12L440.25,468.88L441.04,469.63L441.85,470.37L442.75,470.93L443.67,471.48L444.61,472.03M449.44,479.16L448.72,478.18L448.07,477.18L447.47,476.18L446.37,475.25L445.3,474.31L444.28,473.35" fill="none" stroke="#3a2020" stroke-width="0.5" stroke-opacity="0.8"/><g fill="#7a4646"><rect x="520.01" y="450.54" width="1.1" height="1.1"/><rect x="520.73" y="450.78" width="1.1" height="1.1"/><rect x="508.28" y="468.91" width="1.1" height="1.1"/><rect x="513.05" y="467.11" width="1.1" height="1.1"/><rect x="511.58" y="470.61" width="1.1" height="1.1"/><rect x="503.03" y="468.2" width="1.1" height="1.1"/><rect x="499.48" y="464.79" width="1.1" height="1.1"/><rect x="494.59" y="456.88" width="1.1" height="1.1"/><rect x="498.46" y="456.89" width="1.1" height="1.1"/><rect x="500.87" y="457.89" width="1.1" height="1.1"/><rect x="504.79" y="456.91" width="1.1" height="1.1"/><rect x="523.89" y="468.98" width="1.1" height="1.1"/><rect x="528.58" y="464.82" width="1.1" height="1.1"/><rect x="525.91" y="467.77" width="1.1" height="1.1"/><rect x="551.91" y="460.61" width="1.1" height="1.1"/><rect x="520.46" y="459.36" width="1.1" height="1.1"/><rect x="505.74" y="459.86" width="1.1" height="1.1"/><rect x="492.36" y="453.69" width="1.1" height="1.1"/><rect x="510.31" y="435.76" width="1.1" height="1.1"/><rect x="511.32" y="435.68" width="1.1" height="1.1"/><rect x="512.98" y="435.45" width="1.1" height="1.1"/><rect x="514.54" y="434.77" width="1.1" height="1.1"/><rect x="507.01" y="435.26" width="1.1" height="1.1"/><rect x="498.4" y="438.4" width="1.1" height="1.1"/><rect x="497.02" y="439.05" width="1.1" height="1.1"/><rect x="547.47" y="487.54" width="1.1" height="1.1"/><rect x="473.39" y="486.25" width="1.1" height="1.1"/><rect x="540.54" y="474.1" width="1.1" height="1.1"/><rect x="550.71" y="489.92" width="1.1" height="1.1"/><rect x="454.58" y="472.35" width="1.1" height="1.1"/><rect x="455.11" y="471.84" width="1.1" height="1.1"/><rect x="458.77" y="458.14" width="1.1" height="1.1"/><rect x="487.16" y="456.59" width="1.1" height="1.1"/><rect x="531.91" y="472.78" width="1.1" height="1.1"/><rect x="518.57" y="470.63" width="1.1" height="1.1"/><rect x="502.43" y="466" width="1.1" height="1.1"/><rect x="549.58" y="481.36" width="1.1" height="1.1"/><rect x="563.68" y="451.97" width="1.1" height="1.1"/><rect x="560.88" y="450.27" width="1.1" height="1.1"/><rect x="556.34" y="450.66" width="1.1" height="1.1"/><rect x="556.98" y="442.79" width="1.1" height="1.1"/><rect x="566.43" y="437.89" width="1.1" height="1.1"/><rect x="575.41" y="442.89" width="1.1" height="1.1"/><rect x="577.89" y="450.44" width="1.1" height="1.1"/><rect x="432.46" y="459.67" width="1.1" height="1.1"/><rect x="445.31" y="464.58" width="1.1" height="1.1"/><rect x="479.45" y="464.95" width="1.1" height="1.1"/><rect x="480.92" y="465.44" width="1.1" height="1.1"/><rect x="482.73" y="464.91" width="1.1" height="1.1"/><rect x="485" y="463.88" width="1.1" height="1.1"/><rect x="486.33" y="462.36" width="1.1" height="1.1"/><rect x="483.92" y="461.87" width="1.1" height="1.1"/><rect x="483.43" y="459.34" width="1.1" height="1.1"/></g></g><path d="M480.89,424.45L482.09,424.28L483.03,424.2L483.74,424.2L484.27,424.26L484.67,424.35L484.99,424.48L485.27,424.61L485.53,424.75L485.8,424.9L486.07,425.04L486.35,425.18L486.65,425.32L486.96,425.45L487.28,425.59L487.61,425.72L487.96,425.84L488.32,425.97L488.69,426.09L489.08,426.21L489.47,426.32L489.88,426.44L490.29,426.55L490.72,426.65L491.15,426.76L491.6,426.86L492.06,426.96L492.52,427.05L492.99,427.15L493.48,427.24L493.97,427.32L494.47,427.41L494.97,427.49L495.49,427.57L496.01,427.64L496.54,427.72L497.07,427.78L497.61,427.85L498.16,427.92L498.71,427.98L499.27,428.03L499.84,428.09L500.4,428.14L500.98,428.19L501.56,428.24L502.14,428.28L502.73,428.32L503.32,428.36L503.91,428.4L504.51,428.43L505.1,428.46L505.71,428.49L506.31,428.51L506.92,428.53L507.53,428.55L508.14,428.57L508.75,428.58L509.36,428.59L509.97,428.6L510.59,428.6L511.2,428.6L511.81,428.6L512.43,428.6L513.04,428.59L513.65,428.58L514.26,428.57L514.87,428.55L515.48,428.53L516.09,428.51L516.69,428.49L517.3,428.46L517.89,428.43L518.49,428.4L519.08,428.36L519.67,428.32L520.26,428.28L520.84,428.24L521.42,428.19L522,428.14L522.56,428.09L523.13,428.03L523.69,427.98L524.24,427.92L524.79,427.85L525.33,427.78L525.86,427.72L526.39,427.64L526.91,427.57L527.43,427.49L527.93,427.41L528.43,427.32L528.92,427.24L529.41,427.15L529.88,427.05L530.34,426.96L530.8,426.86L531.25,426.76L531.68,426.65L532.11,426.55L532.52,426.44L532.93,426.32L533.32,426.21L533.71,426.09L534.08,425.97L534.44,425.84L534.79,425.72L535.12,425.59L535.44,425.45L535.75,425.32L536.05,425.18L536.33,425.04L536.6,424.9L536.87,424.75L537.13,424.61L537.41,424.48L537.73,424.35L538.13,424.26L538.66,424.2L539.37,424.2L540.31,424.28L541.51,424.45L542.98,424.71L544.71,425.08L546.65,425.54L548.75,426.08L550.95,426.7L553.2,427.39L555.46,428.13L557.7,428.91L559.89,429.74L562.04,430.61L564.12,431.51L566.14,432.46L568.09,433.43L569.97,434.44L571.78,435.48L573.52,436.56L575.18,437.66L576.76,438.79L578.27,439.95L579.69,441.13L581.03,442.34L582.28,443.57L583.45,444.82L584.53,446.09L585.51,447.38L586.41,448.68L587.22,450L587.94,451.33L588.56,452.68L589.08,454.03L589.51,455.4L589.85,456.77L590.09,458.14L590.24,459.52L590.28,460.9L590.24,462.28L590.09,463.66L589.85,465.03L589.51,466.4L589.08,467.77L588.56,469.12L587.94,470.47L587.22,471.8L586.41,473.12L585.51,474.42L584.53,475.71L583.45,476.98L582.28,478.23L581.03,479.46L579.69,480.67L578.27,481.85L576.76,483.01L575.18,484.14L573.52,485.24L571.78,486.32L569.97,487.36L568.09,488.37L566.14,489.34L564.12,490.29L562.04,491.19L559.89,492.06L557.7,492.89L555.46,493.67L553.2,494.41L550.95,495.1L548.75,495.72L546.65,496.26L544.71,496.72L542.98,497.09L541.51,497.35L540.31,497.52L539.37,497.6L538.66,497.6L538.13,497.54L537.73,497.45L537.41,497.32L537.13,497.19L536.87,497.05L536.6,496.9L536.33,496.76L536.05,496.62L535.75,496.48L535.44,496.35L535.12,496.21L534.79,496.08L534.44,495.96L534.08,495.83L533.71,495.71L533.32,495.59L532.93,495.48L532.52,495.36L532.11,495.25L531.68,495.15L531.25,495.04L530.8,494.94L530.34,494.84L529.88,494.75L529.41,494.65L528.92,494.56L528.43,494.48L527.93,494.39L527.43,494.31L526.91,494.23L526.39,494.16L525.86,494.08L525.33,494.02L524.79,493.95L524.24,493.88L523.69,493.82L523.13,493.77L522.56,493.71L522,493.66L521.42,493.61L520.84,493.56L520.26,493.52L519.67,493.48L519.08,493.44L518.49,493.4L517.89,493.37L517.3,493.34L516.69,493.31L516.09,493.29L515.48,493.27L514.87,493.25L514.26,493.23L513.65,493.22L513.04,493.21L512.43,493.2L511.81,493.2L511.2,493.2L510.59,493.2L509.97,493.2L509.36,493.21L508.75,493.22L508.14,493.23L507.53,493.25L506.92,493.27L506.31,493.29L505.71,493.31L505.1,493.34L504.51,493.37L503.91,493.4L503.32,493.44L502.73,493.48L502.14,493.52L501.56,493.56L500.98,493.61L500.4,493.66L499.84,493.71L499.27,493.77L498.71,493.82L498.16,493.88L497.61,493.95L497.07,494.02L496.54,494.08L496.01,494.16L495.49,494.23L494.97,494.31L494.47,494.39L493.97,494.48L493.48,494.56L492.99,494.65L492.52,494.75L492.06,494.84L491.6,494.94L491.15,495.04L490.72,495.15L490.29,495.25L489.88,495.36L489.47,495.48L489.08,495.59L488.69,495.71L488.32,495.83L487.96,495.96L487.61,496.08L487.28,496.21L486.96,496.35L486.65,496.48L486.35,496.62L486.07,496.76L485.8,496.9L485.53,497.05L485.27,497.19L484.99,497.32L484.67,497.45L484.27,497.54L483.74,497.6L483.03,497.6L482.09,497.52L480.89,497.35L479.42,497.09L477.69,496.72L475.75,496.26L473.65,495.72L471.45,495.1L469.2,494.41L466.94,493.67L464.7,492.89L462.51,492.06L460.36,491.19L458.28,490.29L456.26,489.34L454.31,488.37L452.43,487.36L450.62,486.32L448.88,485.24L447.22,484.14L445.64,483.01L444.13,481.85L442.71,480.67L441.37,479.46L440.12,478.23L438.95,476.98L437.87,475.71L436.89,474.42L435.99,473.12L435.18,471.8L434.46,470.47L433.84,469.12L433.32,467.77L432.89,466.4L432.55,465.03L432.31,463.66L432.16,462.28L432.12,460.9L432.16,459.52L432.31,458.14L432.55,456.77L432.89,455.4L433.32,454.03L433.84,452.68L434.46,451.33L435.18,450L435.99,448.68L436.89,447.38L437.87,446.09L438.95,444.82L440.12,443.57L441.37,442.34L442.71,441.13L444.13,439.95L445.64,438.79L447.22,437.66L448.88,436.56L450.62,435.48L452.43,434.44L454.31,433.43L456.26,432.46L458.28,431.51L460.36,430.61L462.51,429.74L464.7,428.91L466.94,428.13L469.2,427.39L471.45,426.7L473.65,426.08L475.75,425.54L477.69,425.08L479.42,424.71Z" fill="none" stroke="#000000" stroke-width="2.2"/>
</svg>
</body></html>
